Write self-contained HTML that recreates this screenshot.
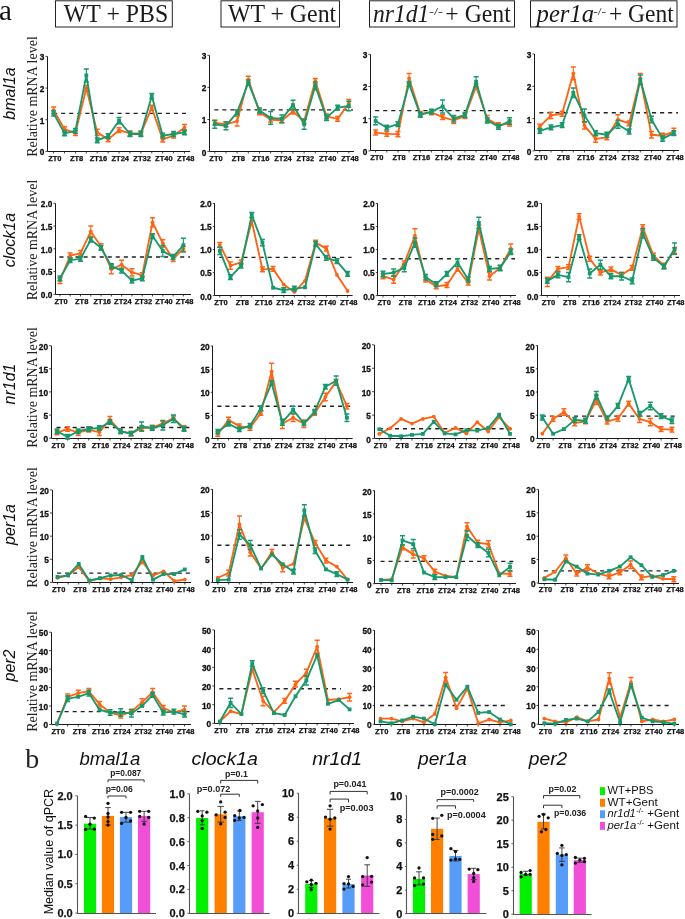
<!DOCTYPE html>
<html><head><meta charset="utf-8"><title>Figure</title>
<style>
html,body{margin:0;padding:0;background:#fff;}
body{width:685px;height:919px;overflow:hidden;font-family:"Liberation Sans", sans-serif;}
svg{display:block;will-change:transform;}
</style></head><body>
<svg width="685" height="919" viewBox="0 0 685 919">
<rect width="685" height="919" fill="#fff"/>
<text x="-1" y="20.2" font-family='"Liberation Serif", serif' font-size="29" fill="#111">a</text>
<rect x="55.5" y="0.8" width="116.8" height="26.2" fill="none" stroke="#222" stroke-width="1"/>
<rect x="221" y="0.8" width="118.5" height="26.2" fill="none" stroke="#222" stroke-width="1"/>
<rect x="369.5" y="0.8" width="145" height="26.2" fill="none" stroke="#222" stroke-width="1"/>
<rect x="530.5" y="0.8" width="146.5" height="26.2" fill="none" stroke="#222" stroke-width="1"/>
<text x="63.8" y="22" font-family='"Liberation Serif", serif' font-style="normal" font-size="24.5" fill="#1a1a1a" textLength="104.4" lengthAdjust="spacingAndGlyphs">WT + PBS</text>
<text x="227.9" y="22" font-family='"Liberation Serif", serif' font-style="normal" font-size="24.5" fill="#1a1a1a" textLength="108.3" lengthAdjust="spacingAndGlyphs">WT + Gent</text>
<text x="372.9" y="22" font-family='"Liberation Serif", serif' font-style="italic" font-size="24.5" fill="#1a1a1a" textLength="56.5" lengthAdjust="spacingAndGlyphs">nr1d1</text>
<text x="429" y="14.8" font-family='"Liberation Serif", serif' font-style="normal" font-size="11" fill="#1a1a1a" textLength="14" lengthAdjust="spacingAndGlyphs">-/-</text>
<text x="445.3" y="22" font-family='"Liberation Serif", serif' font-style="normal" font-size="24.5" fill="#1a1a1a" textLength="65.5" lengthAdjust="spacingAndGlyphs">+ Gent</text>
<text x="536.6" y="22" font-family='"Liberation Serif", serif' font-style="italic" font-size="24.5" fill="#1a1a1a" textLength="57.5" lengthAdjust="spacingAndGlyphs">per1a</text>
<text x="593.2" y="14.8" font-family='"Liberation Serif", serif' font-style="normal" font-size="11" fill="#1a1a1a" textLength="12.8" lengthAdjust="spacingAndGlyphs">-/-</text>
<text x="609" y="22" font-family='"Liberation Serif", serif' font-style="normal" font-size="24.5" fill="#1a1a1a" textLength="64.8" lengthAdjust="spacingAndGlyphs">+ Gent</text>
<text transform="translate(36.5,96.5) rotate(-90)" text-anchor="middle" font-family='"Liberation Serif", serif' font-size="14" fill="#222">Relative mRNA level</text>
<text transform="translate(14.6,93.5) rotate(-90)" text-anchor="middle" font-family='"Liberation Sans", sans-serif' font-style="italic" font-size="16" fill="#111">bmal1a</text>
<path d="M47.5 56.4V151.5H190.2" fill="none" stroke="#1a1a1a" stroke-width="1"/>
<path d="M45.5 151.4H47.5" stroke="#1a1a1a" stroke-width="0.8"/>
<text x="44.4" y="155.3" text-anchor="end" font-family='"Liberation Sans", sans-serif' font-weight="bold" font-size="8.3" fill="#111" stroke="#111" stroke-width="0.3">0</text>
<path d="M45.5 119.73H47.5" stroke="#1a1a1a" stroke-width="0.8"/>
<text x="44.4" y="123.63" text-anchor="end" font-family='"Liberation Sans", sans-serif' font-weight="bold" font-size="8.3" fill="#111" stroke="#111" stroke-width="0.3">1</text>
<path d="M45.5 88.07H47.5" stroke="#1a1a1a" stroke-width="0.8"/>
<text x="44.4" y="91.97" text-anchor="end" font-family='"Liberation Sans", sans-serif' font-weight="bold" font-size="8.3" fill="#111" stroke="#111" stroke-width="0.3">2</text>
<path d="M45.5 56.4H47.5" stroke="#1a1a1a" stroke-width="0.8"/>
<text x="44.4" y="60.3" text-anchor="end" font-family='"Liberation Sans", sans-serif' font-weight="bold" font-size="8.3" fill="#111" stroke="#111" stroke-width="0.3">3</text>
<path d="M53.6 151.5V153.5" stroke="#1a1a1a" stroke-width="0.8"/>
<path d="M64.51 151.5V153.5" stroke="#1a1a1a" stroke-width="0.8"/>
<path d="M75.42 151.5V153.5" stroke="#1a1a1a" stroke-width="0.8"/>
<path d="M86.33 151.5V153.5" stroke="#1a1a1a" stroke-width="0.8"/>
<path d="M97.23 151.5V153.5" stroke="#1a1a1a" stroke-width="0.8"/>
<path d="M108.14 151.5V153.5" stroke="#1a1a1a" stroke-width="0.8"/>
<path d="M119.05 151.5V153.5" stroke="#1a1a1a" stroke-width="0.8"/>
<path d="M129.96 151.5V153.5" stroke="#1a1a1a" stroke-width="0.8"/>
<path d="M140.87 151.5V153.5" stroke="#1a1a1a" stroke-width="0.8"/>
<path d="M151.78 151.5V153.5" stroke="#1a1a1a" stroke-width="0.8"/>
<path d="M162.68 151.5V153.5" stroke="#1a1a1a" stroke-width="0.8"/>
<path d="M173.59 151.5V153.5" stroke="#1a1a1a" stroke-width="0.8"/>
<path d="M184.5 151.5V153.5" stroke="#1a1a1a" stroke-width="0.8"/>
<text x="54.8" y="160.8" text-anchor="middle" font-family='"Liberation Sans", sans-serif' font-weight="bold" font-size="7.5" fill="#111" stroke="#111" stroke-width="0.25">ZT0</text>
<text x="76.62" y="160.8" text-anchor="middle" font-family='"Liberation Sans", sans-serif' font-weight="bold" font-size="7.5" fill="#111" stroke="#111" stroke-width="0.25">ZT8</text>
<text x="98.43" y="160.8" text-anchor="middle" font-family='"Liberation Sans", sans-serif' font-weight="bold" font-size="7.5" fill="#111" stroke="#111" stroke-width="0.25">ZT16</text>
<text x="120.25" y="160.8" text-anchor="middle" font-family='"Liberation Sans", sans-serif' font-weight="bold" font-size="7.5" fill="#111" stroke="#111" stroke-width="0.25">ZT24</text>
<text x="142.07" y="160.8" text-anchor="middle" font-family='"Liberation Sans", sans-serif' font-weight="bold" font-size="7.5" fill="#111" stroke="#111" stroke-width="0.25">ZT32</text>
<text x="163.88" y="160.8" text-anchor="middle" font-family='"Liberation Sans", sans-serif' font-weight="bold" font-size="7.5" fill="#111" stroke="#111" stroke-width="0.25">ZT40</text>
<text x="185.7" y="160.8" text-anchor="middle" font-family='"Liberation Sans", sans-serif' font-weight="bold" font-size="7.5" fill="#111" stroke="#111" stroke-width="0.25">ZT48</text>
<path d="M53.1 113.4H189.2" stroke="#222" stroke-width="1.4" stroke-dasharray="4.1,3.95"/>
<polyline points="53.6,110.23 64.51,129.23 75.42,133.03 86.33,88.07 97.23,132.4 108.14,139.37 119.05,130.18 129.96,133.35 140.87,133.35 151.78,107.7 162.68,139.37 173.59,135.57 184.5,127.65" fill="none" stroke="#ff6414" stroke-width="1.85" stroke-linejoin="round"/>
<path d="M53.6 107.07V113.4" stroke="#ff6414" stroke-width="1.1" fill="none"/>
<path d="M51.1 107.07H56.1M51.1 113.4H56.1" stroke="#ff6414" stroke-width="1.5" fill="none"/>
<circle cx="53.6" cy="110.23" r="1.9" fill="#ff6414"/>
<path d="M64.51 126.83V131.63" stroke="#ff6414" stroke-width="1.1" fill="none"/>
<path d="M62.01 126.83H67.01M62.01 131.63H67.01" stroke="#ff6414" stroke-width="1.5" fill="none"/>
<circle cx="64.51" cy="129.23" r="1.9" fill="#ff6414"/>
<path d="M75.42 130.63V135.43" stroke="#ff6414" stroke-width="1.1" fill="none"/>
<path d="M72.92 130.63H77.92M72.92 135.43H77.92" stroke="#ff6414" stroke-width="1.5" fill="none"/>
<circle cx="75.42" cy="133.03" r="1.9" fill="#ff6414"/>
<path d="M86.33 85.53V90.6" stroke="#ff6414" stroke-width="1.1" fill="none"/>
<path d="M83.83 85.53H88.83M83.83 90.6H88.83" stroke="#ff6414" stroke-width="1.5" fill="none"/>
<circle cx="86.33" cy="88.07" r="1.9" fill="#ff6414"/>
<path d="M97.23 129.23V135.57" stroke="#ff6414" stroke-width="1.1" fill="none"/>
<path d="M94.73 129.23H99.73M94.73 135.57H99.73" stroke="#ff6414" stroke-width="1.5" fill="none"/>
<circle cx="97.23" cy="132.4" r="1.9" fill="#ff6414"/>
<path d="M108.14 136.97V141.77" stroke="#ff6414" stroke-width="1.1" fill="none"/>
<path d="M105.64 136.97H110.64M105.64 141.77H110.64" stroke="#ff6414" stroke-width="1.5" fill="none"/>
<circle cx="108.14" cy="139.37" r="1.9" fill="#ff6414"/>
<path d="M119.05 127.78V132.58" stroke="#ff6414" stroke-width="1.1" fill="none"/>
<path d="M116.55 127.78H121.55M116.55 132.58H121.55" stroke="#ff6414" stroke-width="1.5" fill="none"/>
<circle cx="119.05" cy="130.18" r="1.9" fill="#ff6414"/>
<path d="M129.96 130.95V135.75" stroke="#ff6414" stroke-width="1.1" fill="none"/>
<path d="M127.46 130.95H132.46M127.46 135.75H132.46" stroke="#ff6414" stroke-width="1.5" fill="none"/>
<circle cx="129.96" cy="133.35" r="1.9" fill="#ff6414"/>
<path d="M140.87 130.95V135.75" stroke="#ff6414" stroke-width="1.1" fill="none"/>
<path d="M138.37 130.95H143.37M138.37 135.75H143.37" stroke="#ff6414" stroke-width="1.5" fill="none"/>
<circle cx="140.87" cy="133.35" r="1.9" fill="#ff6414"/>
<path d="M151.78 105.3V110.1" stroke="#ff6414" stroke-width="1.1" fill="none"/>
<path d="M149.28 105.3H154.28M149.28 110.1H154.28" stroke="#ff6414" stroke-width="1.5" fill="none"/>
<circle cx="151.78" cy="107.7" r="1.9" fill="#ff6414"/>
<path d="M162.68 136.83V141.9" stroke="#ff6414" stroke-width="1.1" fill="none"/>
<path d="M160.18 136.83H165.18M160.18 141.9H165.18" stroke="#ff6414" stroke-width="1.5" fill="none"/>
<circle cx="162.68" cy="139.37" r="1.9" fill="#ff6414"/>
<path d="M173.59 133.17V137.97" stroke="#ff6414" stroke-width="1.1" fill="none"/>
<path d="M171.09 133.17H176.09M171.09 137.97H176.09" stroke="#ff6414" stroke-width="1.5" fill="none"/>
<circle cx="173.59" cy="135.57" r="1.9" fill="#ff6414"/>
<path d="M184.5 124.48V130.82" stroke="#ff6414" stroke-width="1.1" fill="none"/>
<path d="M182 124.48H187M182 130.82H187" stroke="#ff6414" stroke-width="1.5" fill="none"/>
<circle cx="184.5" cy="127.65" r="1.9" fill="#ff6414"/>
<polyline points="53.6,113.4 64.51,133.35 75.42,130.82 86.33,75.4 97.23,140.32 108.14,136.2 119.05,120.68 129.96,133.98 140.87,133.98 151.78,95.98 162.68,135.57 173.59,133.98 184.5,132.4" fill="none" stroke="#17996b" stroke-width="1.85" stroke-linejoin="round"/>
<path d="M53.6 110.87V115.93" stroke="#17996b" stroke-width="1.1" fill="none"/>
<path d="M51.1 110.87H56.1M51.1 115.93H56.1" stroke="#17996b" stroke-width="1.5" fill="none"/>
<rect x="51.7" y="111.5" width="3.8" height="3.8" fill="#17996b"/>
<path d="M64.51 130.95V135.75" stroke="#17996b" stroke-width="1.1" fill="none"/>
<path d="M62.01 130.95H67.01M62.01 135.75H67.01" stroke="#17996b" stroke-width="1.5" fill="none"/>
<rect x="62.61" y="131.45" width="3.8" height="3.8" fill="#17996b"/>
<path d="M75.42 128.42V133.22" stroke="#17996b" stroke-width="1.1" fill="none"/>
<path d="M72.92 128.42H77.92M72.92 133.22H77.92" stroke="#17996b" stroke-width="1.5" fill="none"/>
<rect x="73.52" y="128.92" width="3.8" height="3.8" fill="#17996b"/>
<path d="M86.33 69.07V81.73" stroke="#17996b" stroke-width="1.1" fill="none"/>
<path d="M83.83 69.07H88.83M83.83 81.73H88.83" stroke="#17996b" stroke-width="1.5" fill="none"/>
<rect x="84.42" y="73.5" width="3.8" height="3.8" fill="#17996b"/>
<path d="M97.23 137.92V142.72" stroke="#17996b" stroke-width="1.1" fill="none"/>
<path d="M94.73 137.92H99.73M94.73 142.72H99.73" stroke="#17996b" stroke-width="1.5" fill="none"/>
<rect x="95.33" y="138.42" width="3.8" height="3.8" fill="#17996b"/>
<path d="M108.14 133.8V138.6" stroke="#17996b" stroke-width="1.1" fill="none"/>
<path d="M105.64 133.8H110.64M105.64 138.6H110.64" stroke="#17996b" stroke-width="1.5" fill="none"/>
<rect x="106.24" y="134.3" width="3.8" height="3.8" fill="#17996b"/>
<path d="M119.05 117.52V123.85" stroke="#17996b" stroke-width="1.1" fill="none"/>
<path d="M116.55 117.52H121.55M116.55 123.85H121.55" stroke="#17996b" stroke-width="1.5" fill="none"/>
<rect x="117.15" y="118.78" width="3.8" height="3.8" fill="#17996b"/>
<path d="M129.96 131.58V136.38" stroke="#17996b" stroke-width="1.1" fill="none"/>
<path d="M127.46 131.58H132.46M127.46 136.38H132.46" stroke="#17996b" stroke-width="1.5" fill="none"/>
<rect x="128.06" y="132.08" width="3.8" height="3.8" fill="#17996b"/>
<path d="M140.87 131.58V136.38" stroke="#17996b" stroke-width="1.1" fill="none"/>
<path d="M138.37 131.58H143.37M138.37 136.38H143.37" stroke="#17996b" stroke-width="1.5" fill="none"/>
<rect x="138.97" y="132.08" width="3.8" height="3.8" fill="#17996b"/>
<path d="M151.78 93.58V98.38" stroke="#17996b" stroke-width="1.1" fill="none"/>
<path d="M149.28 93.58H154.28M149.28 98.38H154.28" stroke="#17996b" stroke-width="1.5" fill="none"/>
<rect x="149.88" y="94.08" width="3.8" height="3.8" fill="#17996b"/>
<path d="M162.68 133.17V137.97" stroke="#17996b" stroke-width="1.1" fill="none"/>
<path d="M160.18 133.17H165.18M160.18 137.97H165.18" stroke="#17996b" stroke-width="1.5" fill="none"/>
<rect x="160.78" y="133.67" width="3.8" height="3.8" fill="#17996b"/>
<path d="M173.59 131.58V136.38" stroke="#17996b" stroke-width="1.1" fill="none"/>
<path d="M171.09 131.58H176.09M171.09 136.38H176.09" stroke="#17996b" stroke-width="1.5" fill="none"/>
<rect x="171.69" y="132.08" width="3.8" height="3.8" fill="#17996b"/>
<path d="M184.5 130V134.8" stroke="#17996b" stroke-width="1.1" fill="none"/>
<path d="M182 130H187M182 134.8H187" stroke="#17996b" stroke-width="1.5" fill="none"/>
<rect x="182.6" y="130.5" width="3.8" height="3.8" fill="#17996b"/>
<path d="M209.5 55.3V151.5H354" fill="none" stroke="#1a1a1a" stroke-width="1"/>
<path d="M207.4 151.6H209.4" stroke="#1a1a1a" stroke-width="0.8"/>
<text x="206.3" y="155.5" text-anchor="end" font-family='"Liberation Sans", sans-serif' font-weight="bold" font-size="8.3" fill="#111" stroke="#111" stroke-width="0.3">0</text>
<path d="M207.4 119.5H209.4" stroke="#1a1a1a" stroke-width="0.8"/>
<text x="206.3" y="123.4" text-anchor="end" font-family='"Liberation Sans", sans-serif' font-weight="bold" font-size="8.3" fill="#111" stroke="#111" stroke-width="0.3">1</text>
<path d="M207.4 87.4H209.4" stroke="#1a1a1a" stroke-width="0.8"/>
<text x="206.3" y="91.3" text-anchor="end" font-family='"Liberation Sans", sans-serif' font-weight="bold" font-size="8.3" fill="#111" stroke="#111" stroke-width="0.3">2</text>
<path d="M207.4 55.3H209.4" stroke="#1a1a1a" stroke-width="0.8"/>
<text x="206.3" y="59.2" text-anchor="end" font-family='"Liberation Sans", sans-serif' font-weight="bold" font-size="8.3" fill="#111" stroke="#111" stroke-width="0.3">3</text>
<path d="M214.8 151.5V153.5" stroke="#1a1a1a" stroke-width="0.8"/>
<path d="M225.97 151.5V153.5" stroke="#1a1a1a" stroke-width="0.8"/>
<path d="M237.13 151.5V153.5" stroke="#1a1a1a" stroke-width="0.8"/>
<path d="M248.3 151.5V153.5" stroke="#1a1a1a" stroke-width="0.8"/>
<path d="M259.47 151.5V153.5" stroke="#1a1a1a" stroke-width="0.8"/>
<path d="M270.63 151.5V153.5" stroke="#1a1a1a" stroke-width="0.8"/>
<path d="M281.8 151.5V153.5" stroke="#1a1a1a" stroke-width="0.8"/>
<path d="M292.97 151.5V153.5" stroke="#1a1a1a" stroke-width="0.8"/>
<path d="M304.13 151.5V153.5" stroke="#1a1a1a" stroke-width="0.8"/>
<path d="M315.3 151.5V153.5" stroke="#1a1a1a" stroke-width="0.8"/>
<path d="M326.47 151.5V153.5" stroke="#1a1a1a" stroke-width="0.8"/>
<path d="M337.63 151.5V153.5" stroke="#1a1a1a" stroke-width="0.8"/>
<path d="M348.8 151.5V153.5" stroke="#1a1a1a" stroke-width="0.8"/>
<text x="216" y="161" text-anchor="middle" font-family='"Liberation Sans", sans-serif' font-weight="bold" font-size="7.5" fill="#111" stroke="#111" stroke-width="0.25">ZT0</text>
<text x="238.33" y="161" text-anchor="middle" font-family='"Liberation Sans", sans-serif' font-weight="bold" font-size="7.5" fill="#111" stroke="#111" stroke-width="0.25">ZT8</text>
<text x="260.67" y="161" text-anchor="middle" font-family='"Liberation Sans", sans-serif' font-weight="bold" font-size="7.5" fill="#111" stroke="#111" stroke-width="0.25">ZT16</text>
<text x="283" y="161" text-anchor="middle" font-family='"Liberation Sans", sans-serif' font-weight="bold" font-size="7.5" fill="#111" stroke="#111" stroke-width="0.25">ZT24</text>
<text x="305.33" y="161" text-anchor="middle" font-family='"Liberation Sans", sans-serif' font-weight="bold" font-size="7.5" fill="#111" stroke="#111" stroke-width="0.25">ZT32</text>
<text x="327.67" y="161" text-anchor="middle" font-family='"Liberation Sans", sans-serif' font-weight="bold" font-size="7.5" fill="#111" stroke="#111" stroke-width="0.25">ZT40</text>
<text x="350" y="161" text-anchor="middle" font-family='"Liberation Sans", sans-serif' font-weight="bold" font-size="7.5" fill="#111" stroke="#111" stroke-width="0.25">ZT48</text>
<path d="M214.3 109.87H353" stroke="#222" stroke-width="1.4" stroke-dasharray="4.1,3.95"/>
<polyline points="214.8,122.71 225.97,124.31 237.13,121.1 248.3,79.38 259.47,112.44 270.63,119.5 281.8,120.46 292.97,111.47 304.13,121.1 315.3,80.98 326.47,116.29 337.63,118.86 348.8,103.45" fill="none" stroke="#ff6414" stroke-width="1.85" stroke-linejoin="round"/>
<path d="M214.8 120.31V125.11" stroke="#ff6414" stroke-width="1.1" fill="none"/>
<path d="M212.3 120.31H217.3M212.3 125.11H217.3" stroke="#ff6414" stroke-width="1.5" fill="none"/>
<circle cx="214.8" cy="122.71" r="1.9" fill="#ff6414"/>
<path d="M225.97 121.91V126.72" stroke="#ff6414" stroke-width="1.1" fill="none"/>
<path d="M223.47 121.91H228.47M223.47 126.72H228.47" stroke="#ff6414" stroke-width="1.5" fill="none"/>
<circle cx="225.97" cy="124.31" r="1.9" fill="#ff6414"/>
<path d="M237.13 116.29V125.92" stroke="#ff6414" stroke-width="1.1" fill="none"/>
<path d="M234.63 116.29H239.63M234.63 125.92H239.63" stroke="#ff6414" stroke-width="1.5" fill="none"/>
<circle cx="237.13" cy="121.1" r="1.9" fill="#ff6414"/>
<path d="M248.3 76.17V82.58" stroke="#ff6414" stroke-width="1.1" fill="none"/>
<path d="M245.8 76.17H250.8M245.8 82.58H250.8" stroke="#ff6414" stroke-width="1.5" fill="none"/>
<circle cx="248.3" cy="79.38" r="1.9" fill="#ff6414"/>
<path d="M259.47 110.04V114.84" stroke="#ff6414" stroke-width="1.1" fill="none"/>
<path d="M256.97 110.04H261.97M256.97 114.84H261.97" stroke="#ff6414" stroke-width="1.5" fill="none"/>
<circle cx="259.47" cy="112.44" r="1.9" fill="#ff6414"/>
<path d="M270.63 117.1V121.9" stroke="#ff6414" stroke-width="1.1" fill="none"/>
<path d="M268.13 117.1H273.13M268.13 121.9H273.13" stroke="#ff6414" stroke-width="1.5" fill="none"/>
<circle cx="270.63" cy="119.5" r="1.9" fill="#ff6414"/>
<path d="M281.8 118.06V122.86" stroke="#ff6414" stroke-width="1.1" fill="none"/>
<path d="M279.3 118.06H284.3M279.3 122.86H284.3" stroke="#ff6414" stroke-width="1.5" fill="none"/>
<circle cx="281.8" cy="120.46" r="1.9" fill="#ff6414"/>
<path d="M292.97 109.07V113.88" stroke="#ff6414" stroke-width="1.1" fill="none"/>
<path d="M290.47 109.07H295.47M290.47 113.88H295.47" stroke="#ff6414" stroke-width="1.5" fill="none"/>
<circle cx="292.97" cy="111.47" r="1.9" fill="#ff6414"/>
<path d="M304.13 118.7V123.5" stroke="#ff6414" stroke-width="1.1" fill="none"/>
<path d="M301.63 118.7H306.63M301.63 123.5H306.63" stroke="#ff6414" stroke-width="1.5" fill="none"/>
<circle cx="304.13" cy="121.1" r="1.9" fill="#ff6414"/>
<path d="M315.3 78.41V83.55" stroke="#ff6414" stroke-width="1.1" fill="none"/>
<path d="M312.8 78.41H317.8M312.8 83.55H317.8" stroke="#ff6414" stroke-width="1.5" fill="none"/>
<circle cx="315.3" cy="80.98" r="1.9" fill="#ff6414"/>
<path d="M326.47 113.89V118.69" stroke="#ff6414" stroke-width="1.1" fill="none"/>
<path d="M323.97 113.89H328.97M323.97 118.69H328.97" stroke="#ff6414" stroke-width="1.5" fill="none"/>
<circle cx="326.47" cy="116.29" r="1.9" fill="#ff6414"/>
<path d="M337.63 116.46V121.26" stroke="#ff6414" stroke-width="1.1" fill="none"/>
<path d="M335.13 116.46H340.13M335.13 121.26H340.13" stroke="#ff6414" stroke-width="1.5" fill="none"/>
<circle cx="337.63" cy="118.86" r="1.9" fill="#ff6414"/>
<path d="M348.8 99.6V107.3" stroke="#ff6414" stroke-width="1.1" fill="none"/>
<path d="M346.3 99.6H351.3M346.3 107.3H351.3" stroke="#ff6414" stroke-width="1.5" fill="none"/>
<circle cx="348.8" cy="103.45" r="1.9" fill="#ff6414"/>
<polyline points="214.8,124.31 225.97,125.92 237.13,112.44 248.3,82.58 259.47,110.51 270.63,117.89 281.8,118.86 292.97,105.06 304.13,124.31 315.3,85.8 326.47,117.89 337.63,107.62 348.8,106.02" fill="none" stroke="#17996b" stroke-width="1.85" stroke-linejoin="round"/>
<path d="M214.8 120.46V128.17" stroke="#17996b" stroke-width="1.1" fill="none"/>
<path d="M212.3 120.46H217.3M212.3 128.17H217.3" stroke="#17996b" stroke-width="1.5" fill="none"/>
<rect x="212.9" y="122.41" width="3.8" height="3.8" fill="#17996b"/>
<path d="M225.97 122.07V129.77" stroke="#17996b" stroke-width="1.1" fill="none"/>
<path d="M223.47 122.07H228.47M223.47 129.77H228.47" stroke="#17996b" stroke-width="1.5" fill="none"/>
<rect x="224.07" y="124.02" width="3.8" height="3.8" fill="#17996b"/>
<path d="M237.13 110.04V114.84" stroke="#17996b" stroke-width="1.1" fill="none"/>
<path d="M234.63 110.04H239.63M234.63 114.84H239.63" stroke="#17996b" stroke-width="1.5" fill="none"/>
<rect x="235.23" y="110.54" width="3.8" height="3.8" fill="#17996b"/>
<path d="M248.3 80.02V85.15" stroke="#17996b" stroke-width="1.1" fill="none"/>
<path d="M245.8 80.02H250.8M245.8 85.15H250.8" stroke="#17996b" stroke-width="1.5" fill="none"/>
<rect x="246.4" y="80.68" width="3.8" height="3.8" fill="#17996b"/>
<path d="M259.47 108.11V112.91" stroke="#17996b" stroke-width="1.1" fill="none"/>
<path d="M256.97 108.11H261.97M256.97 112.91H261.97" stroke="#17996b" stroke-width="1.5" fill="none"/>
<rect x="257.57" y="108.61" width="3.8" height="3.8" fill="#17996b"/>
<path d="M270.63 111.47V124.31" stroke="#17996b" stroke-width="1.1" fill="none"/>
<path d="M268.13 111.47H273.13M268.13 124.31H273.13" stroke="#17996b" stroke-width="1.5" fill="none"/>
<rect x="268.73" y="115.99" width="3.8" height="3.8" fill="#17996b"/>
<path d="M281.8 115.01V122.71" stroke="#17996b" stroke-width="1.1" fill="none"/>
<path d="M279.3 115.01H284.3M279.3 122.71H284.3" stroke="#17996b" stroke-width="1.5" fill="none"/>
<rect x="279.9" y="116.96" width="3.8" height="3.8" fill="#17996b"/>
<path d="M292.97 100.24V109.87" stroke="#17996b" stroke-width="1.1" fill="none"/>
<path d="M290.47 100.24H295.47M290.47 109.87H295.47" stroke="#17996b" stroke-width="1.5" fill="none"/>
<rect x="291.07" y="103.16" width="3.8" height="3.8" fill="#17996b"/>
<path d="M304.13 119.5V129.13" stroke="#17996b" stroke-width="1.1" fill="none"/>
<path d="M301.63 119.5H306.63M301.63 129.13H306.63" stroke="#17996b" stroke-width="1.5" fill="none"/>
<rect x="302.23" y="122.41" width="3.8" height="3.8" fill="#17996b"/>
<path d="M315.3 81.94V89.65" stroke="#17996b" stroke-width="1.1" fill="none"/>
<path d="M312.8 81.94H317.8M312.8 89.65H317.8" stroke="#17996b" stroke-width="1.5" fill="none"/>
<rect x="313.4" y="83.89" width="3.8" height="3.8" fill="#17996b"/>
<path d="M326.47 115.33V120.46" stroke="#17996b" stroke-width="1.1" fill="none"/>
<path d="M323.97 115.33H328.97M323.97 120.46H328.97" stroke="#17996b" stroke-width="1.5" fill="none"/>
<rect x="324.57" y="115.99" width="3.8" height="3.8" fill="#17996b"/>
<path d="M337.63 105.22V110.02" stroke="#17996b" stroke-width="1.1" fill="none"/>
<path d="M335.13 105.22H340.13M335.13 110.02H340.13" stroke="#17996b" stroke-width="1.5" fill="none"/>
<rect x="335.73" y="105.72" width="3.8" height="3.8" fill="#17996b"/>
<path d="M348.8 101.2V110.83" stroke="#17996b" stroke-width="1.1" fill="none"/>
<path d="M346.3 101.2H351.3M346.3 110.83H351.3" stroke="#17996b" stroke-width="1.5" fill="none"/>
<rect x="346.9" y="104.12" width="3.8" height="3.8" fill="#17996b"/>
<path d="M370.5 54.3V150.5H515" fill="none" stroke="#1a1a1a" stroke-width="1"/>
<path d="M368.4 150.9H370.4" stroke="#1a1a1a" stroke-width="0.8"/>
<text x="367.3" y="154.8" text-anchor="end" font-family='"Liberation Sans", sans-serif' font-weight="bold" font-size="8.3" fill="#111" stroke="#111" stroke-width="0.3">0</text>
<path d="M368.4 118.7H370.4" stroke="#1a1a1a" stroke-width="0.8"/>
<text x="367.3" y="122.6" text-anchor="end" font-family='"Liberation Sans", sans-serif' font-weight="bold" font-size="8.3" fill="#111" stroke="#111" stroke-width="0.3">1</text>
<path d="M368.4 86.5H370.4" stroke="#1a1a1a" stroke-width="0.8"/>
<text x="367.3" y="90.4" text-anchor="end" font-family='"Liberation Sans", sans-serif' font-weight="bold" font-size="8.3" fill="#111" stroke="#111" stroke-width="0.3">2</text>
<path d="M368.4 54.3H370.4" stroke="#1a1a1a" stroke-width="0.8"/>
<text x="367.3" y="58.2" text-anchor="end" font-family='"Liberation Sans", sans-serif' font-weight="bold" font-size="8.3" fill="#111" stroke="#111" stroke-width="0.3">3</text>
<path d="M375.6 150.5V152.5" stroke="#1a1a1a" stroke-width="0.8"/>
<path d="M386.77 150.5V152.5" stroke="#1a1a1a" stroke-width="0.8"/>
<path d="M397.93 150.5V152.5" stroke="#1a1a1a" stroke-width="0.8"/>
<path d="M409.1 150.5V152.5" stroke="#1a1a1a" stroke-width="0.8"/>
<path d="M420.27 150.5V152.5" stroke="#1a1a1a" stroke-width="0.8"/>
<path d="M431.43 150.5V152.5" stroke="#1a1a1a" stroke-width="0.8"/>
<path d="M442.6 150.5V152.5" stroke="#1a1a1a" stroke-width="0.8"/>
<path d="M453.77 150.5V152.5" stroke="#1a1a1a" stroke-width="0.8"/>
<path d="M464.93 150.5V152.5" stroke="#1a1a1a" stroke-width="0.8"/>
<path d="M476.1 150.5V152.5" stroke="#1a1a1a" stroke-width="0.8"/>
<path d="M487.27 150.5V152.5" stroke="#1a1a1a" stroke-width="0.8"/>
<path d="M498.43 150.5V152.5" stroke="#1a1a1a" stroke-width="0.8"/>
<path d="M509.6 150.5V152.5" stroke="#1a1a1a" stroke-width="0.8"/>
<text x="376.8" y="160.3" text-anchor="middle" font-family='"Liberation Sans", sans-serif' font-weight="bold" font-size="7.5" fill="#111" stroke="#111" stroke-width="0.25">ZT0</text>
<text x="399.13" y="160.3" text-anchor="middle" font-family='"Liberation Sans", sans-serif' font-weight="bold" font-size="7.5" fill="#111" stroke="#111" stroke-width="0.25">ZT8</text>
<text x="421.47" y="160.3" text-anchor="middle" font-family='"Liberation Sans", sans-serif' font-weight="bold" font-size="7.5" fill="#111" stroke="#111" stroke-width="0.25">ZT16</text>
<text x="443.8" y="160.3" text-anchor="middle" font-family='"Liberation Sans", sans-serif' font-weight="bold" font-size="7.5" fill="#111" stroke="#111" stroke-width="0.25">ZT24</text>
<text x="466.13" y="160.3" text-anchor="middle" font-family='"Liberation Sans", sans-serif' font-weight="bold" font-size="7.5" fill="#111" stroke="#111" stroke-width="0.25">ZT32</text>
<text x="488.47" y="160.3" text-anchor="middle" font-family='"Liberation Sans", sans-serif' font-weight="bold" font-size="7.5" fill="#111" stroke="#111" stroke-width="0.25">ZT40</text>
<text x="510.8" y="160.3" text-anchor="middle" font-family='"Liberation Sans", sans-serif' font-weight="bold" font-size="7.5" fill="#111" stroke="#111" stroke-width="0.25">ZT48</text>
<path d="M375.1 110.65H514" stroke="#222" stroke-width="1.4" stroke-dasharray="4.1,3.95"/>
<polyline points="375.6,132.55 386.77,133.83 397.93,134.16 409.1,78.45 420.27,113.87 431.43,112.26 442.6,117.09 453.77,120.31 464.93,116.12 476.1,86.5 487.27,118.7 498.43,125.14 509.6,123.53" fill="none" stroke="#ff6414" stroke-width="1.85" stroke-linejoin="round"/>
<path d="M375.6 129.97V135.12" stroke="#ff6414" stroke-width="1.1" fill="none"/>
<path d="M373.1 129.97H378.1M373.1 135.12H378.1" stroke="#ff6414" stroke-width="1.5" fill="none"/>
<circle cx="375.6" cy="132.55" r="1.9" fill="#ff6414"/>
<path d="M386.77 131.43V136.23" stroke="#ff6414" stroke-width="1.1" fill="none"/>
<path d="M384.27 131.43H389.27M384.27 136.23H389.27" stroke="#ff6414" stroke-width="1.5" fill="none"/>
<circle cx="386.77" cy="133.83" r="1.9" fill="#ff6414"/>
<path d="M397.93 131.58V136.73" stroke="#ff6414" stroke-width="1.1" fill="none"/>
<path d="M395.43 131.58H400.43M395.43 136.73H400.43" stroke="#ff6414" stroke-width="1.5" fill="none"/>
<circle cx="397.93" cy="134.16" r="1.9" fill="#ff6414"/>
<path d="M409.1 73.62V83.28" stroke="#ff6414" stroke-width="1.1" fill="none"/>
<path d="M406.6 73.62H411.6M406.6 83.28H411.6" stroke="#ff6414" stroke-width="1.5" fill="none"/>
<circle cx="409.1" cy="78.45" r="1.9" fill="#ff6414"/>
<path d="M420.27 111.47V116.27" stroke="#ff6414" stroke-width="1.1" fill="none"/>
<path d="M417.77 111.47H422.77M417.77 116.27H422.77" stroke="#ff6414" stroke-width="1.5" fill="none"/>
<circle cx="420.27" cy="113.87" r="1.9" fill="#ff6414"/>
<path d="M431.43 109.86V114.66" stroke="#ff6414" stroke-width="1.1" fill="none"/>
<path d="M428.93 109.86H433.93M428.93 114.66H433.93" stroke="#ff6414" stroke-width="1.5" fill="none"/>
<circle cx="431.43" cy="112.26" r="1.9" fill="#ff6414"/>
<path d="M442.6 114.69V119.49" stroke="#ff6414" stroke-width="1.1" fill="none"/>
<path d="M440.1 114.69H445.1M440.1 119.49H445.1" stroke="#ff6414" stroke-width="1.5" fill="none"/>
<circle cx="442.6" cy="117.09" r="1.9" fill="#ff6414"/>
<path d="M453.77 117.09V123.53" stroke="#ff6414" stroke-width="1.1" fill="none"/>
<path d="M451.27 117.09H456.27M451.27 123.53H456.27" stroke="#ff6414" stroke-width="1.5" fill="none"/>
<circle cx="453.77" cy="120.31" r="1.9" fill="#ff6414"/>
<path d="M464.93 113.72V118.52" stroke="#ff6414" stroke-width="1.1" fill="none"/>
<path d="M462.43 113.72H467.43M462.43 118.52H467.43" stroke="#ff6414" stroke-width="1.5" fill="none"/>
<circle cx="464.93" cy="116.12" r="1.9" fill="#ff6414"/>
<path d="M476.1 84.1V88.9" stroke="#ff6414" stroke-width="1.1" fill="none"/>
<path d="M473.6 84.1H478.6M473.6 88.9H478.6" stroke="#ff6414" stroke-width="1.5" fill="none"/>
<circle cx="476.1" cy="86.5" r="1.9" fill="#ff6414"/>
<path d="M487.27 115.48V121.92" stroke="#ff6414" stroke-width="1.1" fill="none"/>
<path d="M484.77 115.48H489.77M484.77 121.92H489.77" stroke="#ff6414" stroke-width="1.5" fill="none"/>
<circle cx="487.27" cy="118.7" r="1.9" fill="#ff6414"/>
<path d="M498.43 122.74V127.54" stroke="#ff6414" stroke-width="1.1" fill="none"/>
<path d="M495.93 122.74H500.93M495.93 127.54H500.93" stroke="#ff6414" stroke-width="1.5" fill="none"/>
<circle cx="498.43" cy="125.14" r="1.9" fill="#ff6414"/>
<path d="M509.6 121.13V125.93" stroke="#ff6414" stroke-width="1.1" fill="none"/>
<path d="M507.1 121.13H512.1M507.1 125.93H512.1" stroke="#ff6414" stroke-width="1.5" fill="none"/>
<circle cx="509.6" cy="123.53" r="1.9" fill="#ff6414"/>
<polyline points="375.6,120.95 386.77,127.72 397.93,124.17 409.1,83.92 420.27,114.84 431.43,111.62 442.6,106.46 453.77,118.7 464.93,114.84 476.1,81.67 487.27,120.31 498.43,126.75 509.6,120.95" fill="none" stroke="#17996b" stroke-width="1.85" stroke-linejoin="round"/>
<path d="M375.6 117.09V124.82" stroke="#17996b" stroke-width="1.1" fill="none"/>
<path d="M373.1 117.09H378.1M373.1 124.82H378.1" stroke="#17996b" stroke-width="1.5" fill="none"/>
<rect x="373.7" y="119.05" width="3.8" height="3.8" fill="#17996b"/>
<path d="M386.77 125.32V130.12" stroke="#17996b" stroke-width="1.1" fill="none"/>
<path d="M384.27 125.32H389.27M384.27 130.12H389.27" stroke="#17996b" stroke-width="1.5" fill="none"/>
<rect x="384.87" y="125.82" width="3.8" height="3.8" fill="#17996b"/>
<path d="M397.93 121.77V126.57" stroke="#17996b" stroke-width="1.1" fill="none"/>
<path d="M395.43 121.77H400.43M395.43 126.57H400.43" stroke="#17996b" stroke-width="1.5" fill="none"/>
<rect x="396.03" y="122.27" width="3.8" height="3.8" fill="#17996b"/>
<path d="M409.1 81.52V86.32" stroke="#17996b" stroke-width="1.1" fill="none"/>
<path d="M406.6 81.52H411.6M406.6 86.32H411.6" stroke="#17996b" stroke-width="1.5" fill="none"/>
<rect x="407.2" y="82.02" width="3.8" height="3.8" fill="#17996b"/>
<path d="M420.27 112.44V117.24" stroke="#17996b" stroke-width="1.1" fill="none"/>
<path d="M417.77 112.44H422.77M417.77 117.24H422.77" stroke="#17996b" stroke-width="1.5" fill="none"/>
<rect x="418.37" y="112.94" width="3.8" height="3.8" fill="#17996b"/>
<path d="M431.43 109.22V114.02" stroke="#17996b" stroke-width="1.1" fill="none"/>
<path d="M428.93 109.22H433.93M428.93 114.02H433.93" stroke="#17996b" stroke-width="1.5" fill="none"/>
<rect x="429.53" y="109.72" width="3.8" height="3.8" fill="#17996b"/>
<path d="M442.6 100.02V112.9" stroke="#17996b" stroke-width="1.1" fill="none"/>
<path d="M440.1 100.02H445.1M440.1 112.9H445.1" stroke="#17996b" stroke-width="1.5" fill="none"/>
<rect x="440.7" y="104.56" width="3.8" height="3.8" fill="#17996b"/>
<path d="M453.77 115.48V121.92" stroke="#17996b" stroke-width="1.1" fill="none"/>
<path d="M451.27 115.48H456.27M451.27 121.92H456.27" stroke="#17996b" stroke-width="1.5" fill="none"/>
<rect x="451.87" y="116.8" width="3.8" height="3.8" fill="#17996b"/>
<path d="M464.93 112.44V117.24" stroke="#17996b" stroke-width="1.1" fill="none"/>
<path d="M462.43 112.44H467.43M462.43 117.24H467.43" stroke="#17996b" stroke-width="1.5" fill="none"/>
<rect x="463.03" y="112.94" width="3.8" height="3.8" fill="#17996b"/>
<path d="M476.1 76.84V86.5" stroke="#17996b" stroke-width="1.1" fill="none"/>
<path d="M473.6 76.84H478.6M473.6 86.5H478.6" stroke="#17996b" stroke-width="1.5" fill="none"/>
<rect x="474.2" y="79.77" width="3.8" height="3.8" fill="#17996b"/>
<path d="M487.27 117.73V122.89" stroke="#17996b" stroke-width="1.1" fill="none"/>
<path d="M484.77 117.73H489.77M484.77 122.89H489.77" stroke="#17996b" stroke-width="1.5" fill="none"/>
<rect x="485.37" y="118.41" width="3.8" height="3.8" fill="#17996b"/>
<path d="M498.43 124.17V129.33" stroke="#17996b" stroke-width="1.1" fill="none"/>
<path d="M495.93 124.17H500.93M495.93 129.33H500.93" stroke="#17996b" stroke-width="1.5" fill="none"/>
<rect x="496.53" y="124.85" width="3.8" height="3.8" fill="#17996b"/>
<path d="M509.6 117.73V124.17" stroke="#17996b" stroke-width="1.1" fill="none"/>
<path d="M507.1 117.73H512.1M507.1 124.17H512.1" stroke="#17996b" stroke-width="1.5" fill="none"/>
<rect x="507.7" y="119.05" width="3.8" height="3.8" fill="#17996b"/>
<path d="M534.5 54V150.5H679" fill="none" stroke="#1a1a1a" stroke-width="1"/>
<path d="M532.4 150.9H534.4" stroke="#1a1a1a" stroke-width="0.8"/>
<text x="531.3" y="154.8" text-anchor="end" font-family='"Liberation Sans", sans-serif' font-weight="bold" font-size="8.3" fill="#111" stroke="#111" stroke-width="0.3">0</text>
<path d="M532.4 118.6H534.4" stroke="#1a1a1a" stroke-width="0.8"/>
<text x="531.3" y="122.5" text-anchor="end" font-family='"Liberation Sans", sans-serif' font-weight="bold" font-size="8.3" fill="#111" stroke="#111" stroke-width="0.3">1</text>
<path d="M532.4 86.3H534.4" stroke="#1a1a1a" stroke-width="0.8"/>
<text x="531.3" y="90.2" text-anchor="end" font-family='"Liberation Sans", sans-serif' font-weight="bold" font-size="8.3" fill="#111" stroke="#111" stroke-width="0.3">2</text>
<path d="M532.4 54H534.4" stroke="#1a1a1a" stroke-width="0.8"/>
<text x="531.3" y="57.9" text-anchor="end" font-family='"Liberation Sans", sans-serif' font-weight="bold" font-size="8.3" fill="#111" stroke="#111" stroke-width="0.3">3</text>
<path d="M539.8 150.5V152.5" stroke="#1a1a1a" stroke-width="0.8"/>
<path d="M550.97 150.5V152.5" stroke="#1a1a1a" stroke-width="0.8"/>
<path d="M562.13 150.5V152.5" stroke="#1a1a1a" stroke-width="0.8"/>
<path d="M573.3 150.5V152.5" stroke="#1a1a1a" stroke-width="0.8"/>
<path d="M584.47 150.5V152.5" stroke="#1a1a1a" stroke-width="0.8"/>
<path d="M595.63 150.5V152.5" stroke="#1a1a1a" stroke-width="0.8"/>
<path d="M606.8 150.5V152.5" stroke="#1a1a1a" stroke-width="0.8"/>
<path d="M617.97 150.5V152.5" stroke="#1a1a1a" stroke-width="0.8"/>
<path d="M629.13 150.5V152.5" stroke="#1a1a1a" stroke-width="0.8"/>
<path d="M640.3 150.5V152.5" stroke="#1a1a1a" stroke-width="0.8"/>
<path d="M651.47 150.5V152.5" stroke="#1a1a1a" stroke-width="0.8"/>
<path d="M662.63 150.5V152.5" stroke="#1a1a1a" stroke-width="0.8"/>
<path d="M673.8 150.5V152.5" stroke="#1a1a1a" stroke-width="0.8"/>
<text x="541" y="160.3" text-anchor="middle" font-family='"Liberation Sans", sans-serif' font-weight="bold" font-size="7.5" fill="#111" stroke="#111" stroke-width="0.25">ZT0</text>
<text x="563.33" y="160.3" text-anchor="middle" font-family='"Liberation Sans", sans-serif' font-weight="bold" font-size="7.5" fill="#111" stroke="#111" stroke-width="0.25">ZT8</text>
<text x="585.67" y="160.3" text-anchor="middle" font-family='"Liberation Sans", sans-serif' font-weight="bold" font-size="7.5" fill="#111" stroke="#111" stroke-width="0.25">ZT16</text>
<text x="608" y="160.3" text-anchor="middle" font-family='"Liberation Sans", sans-serif' font-weight="bold" font-size="7.5" fill="#111" stroke="#111" stroke-width="0.25">ZT24</text>
<text x="630.33" y="160.3" text-anchor="middle" font-family='"Liberation Sans", sans-serif' font-weight="bold" font-size="7.5" fill="#111" stroke="#111" stroke-width="0.25">ZT32</text>
<text x="652.67" y="160.3" text-anchor="middle" font-family='"Liberation Sans", sans-serif' font-weight="bold" font-size="7.5" fill="#111" stroke="#111" stroke-width="0.25">ZT40</text>
<text x="675" y="160.3" text-anchor="middle" font-family='"Liberation Sans", sans-serif' font-weight="bold" font-size="7.5" fill="#111" stroke="#111" stroke-width="0.25">ZT48</text>
<path d="M539.3 112.79H678" stroke="#222" stroke-width="1.4" stroke-dasharray="4.1,3.95"/>
<polyline points="539.8,126.67 550.97,115.37 562.13,113.75 573.3,73.38 584.47,125.71 595.63,138.95 606.8,137.33 617.97,119.57 629.13,123.45 640.3,78.23 651.47,134.75 662.63,135.72 673.8,131.52" fill="none" stroke="#ff6414" stroke-width="1.85" stroke-linejoin="round"/>
<path d="M539.8 124.27V129.07" stroke="#ff6414" stroke-width="1.1" fill="none"/>
<path d="M537.3 124.27H542.3M537.3 129.07H542.3" stroke="#ff6414" stroke-width="1.5" fill="none"/>
<circle cx="539.8" cy="126.67" r="1.9" fill="#ff6414"/>
<path d="M550.97 112.14V118.6" stroke="#ff6414" stroke-width="1.1" fill="none"/>
<path d="M548.47 112.14H553.47M548.47 118.6H553.47" stroke="#ff6414" stroke-width="1.5" fill="none"/>
<circle cx="550.97" cy="115.37" r="1.9" fill="#ff6414"/>
<path d="M562.13 111.35V116.16" stroke="#ff6414" stroke-width="1.1" fill="none"/>
<path d="M559.63 111.35H564.63M559.63 116.16H564.63" stroke="#ff6414" stroke-width="1.5" fill="none"/>
<circle cx="562.13" cy="113.75" r="1.9" fill="#ff6414"/>
<path d="M573.3 66.92V79.84" stroke="#ff6414" stroke-width="1.1" fill="none"/>
<path d="M570.8 66.92H575.8M570.8 79.84H575.8" stroke="#ff6414" stroke-width="1.5" fill="none"/>
<circle cx="573.3" cy="73.38" r="1.9" fill="#ff6414"/>
<path d="M584.47 122.48V128.94" stroke="#ff6414" stroke-width="1.1" fill="none"/>
<path d="M581.97 122.48H586.97M581.97 128.94H586.97" stroke="#ff6414" stroke-width="1.5" fill="none"/>
<circle cx="584.47" cy="125.71" r="1.9" fill="#ff6414"/>
<path d="M595.63 135.72V142.18" stroke="#ff6414" stroke-width="1.1" fill="none"/>
<path d="M593.13 135.72H598.13M593.13 142.18H598.13" stroke="#ff6414" stroke-width="1.5" fill="none"/>
<circle cx="595.63" cy="138.95" r="1.9" fill="#ff6414"/>
<path d="M606.8 134.93V139.73" stroke="#ff6414" stroke-width="1.1" fill="none"/>
<path d="M604.3 134.93H609.3M604.3 139.73H609.3" stroke="#ff6414" stroke-width="1.5" fill="none"/>
<circle cx="606.8" cy="137.33" r="1.9" fill="#ff6414"/>
<path d="M617.97 114.72V124.41" stroke="#ff6414" stroke-width="1.1" fill="none"/>
<path d="M615.47 114.72H620.47M615.47 124.41H620.47" stroke="#ff6414" stroke-width="1.5" fill="none"/>
<circle cx="617.97" cy="119.57" r="1.9" fill="#ff6414"/>
<path d="M629.13 121.05V125.85" stroke="#ff6414" stroke-width="1.1" fill="none"/>
<path d="M626.63 121.05H631.63M626.63 125.85H631.63" stroke="#ff6414" stroke-width="1.5" fill="none"/>
<circle cx="629.13" cy="123.45" r="1.9" fill="#ff6414"/>
<path d="M640.3 73.38V83.07" stroke="#ff6414" stroke-width="1.1" fill="none"/>
<path d="M637.8 73.38H642.8M637.8 83.07H642.8" stroke="#ff6414" stroke-width="1.5" fill="none"/>
<circle cx="640.3" cy="78.23" r="1.9" fill="#ff6414"/>
<path d="M651.47 131.52V137.98" stroke="#ff6414" stroke-width="1.1" fill="none"/>
<path d="M648.97 131.52H653.97M648.97 137.98H653.97" stroke="#ff6414" stroke-width="1.5" fill="none"/>
<circle cx="651.47" cy="134.75" r="1.9" fill="#ff6414"/>
<path d="M662.63 133.32V138.12" stroke="#ff6414" stroke-width="1.1" fill="none"/>
<path d="M660.13 133.32H665.13M660.13 138.12H665.13" stroke="#ff6414" stroke-width="1.5" fill="none"/>
<circle cx="662.63" cy="135.72" r="1.9" fill="#ff6414"/>
<path d="M673.8 128.29V134.75" stroke="#ff6414" stroke-width="1.1" fill="none"/>
<path d="M671.3 128.29H676.3M671.3 134.75H676.3" stroke="#ff6414" stroke-width="1.5" fill="none"/>
<circle cx="673.8" cy="131.52" r="1.9" fill="#ff6414"/>
<polyline points="539.8,130.87 550.97,127.32 562.13,125.06 573.3,92.76 584.47,115.37 595.63,133.13 606.8,134.75 617.97,124.41 629.13,131.52 640.3,79.84 651.47,119.57 662.63,138.63 673.8,133.13" fill="none" stroke="#17996b" stroke-width="1.85" stroke-linejoin="round"/>
<path d="M539.8 128.47V133.27" stroke="#17996b" stroke-width="1.1" fill="none"/>
<path d="M537.3 128.47H542.3M537.3 133.27H542.3" stroke="#17996b" stroke-width="1.5" fill="none"/>
<rect x="537.9" y="128.97" width="3.8" height="3.8" fill="#17996b"/>
<path d="M550.97 124.92V129.72" stroke="#17996b" stroke-width="1.1" fill="none"/>
<path d="M548.47 124.92H553.47M548.47 129.72H553.47" stroke="#17996b" stroke-width="1.5" fill="none"/>
<rect x="549.07" y="125.42" width="3.8" height="3.8" fill="#17996b"/>
<path d="M562.13 122.66V127.46" stroke="#17996b" stroke-width="1.1" fill="none"/>
<path d="M559.63 122.66H564.63M559.63 127.46H564.63" stroke="#17996b" stroke-width="1.5" fill="none"/>
<rect x="560.23" y="123.16" width="3.8" height="3.8" fill="#17996b"/>
<path d="M573.3 87.91V97.6" stroke="#17996b" stroke-width="1.1" fill="none"/>
<path d="M570.8 87.91H575.8M570.8 97.6H575.8" stroke="#17996b" stroke-width="1.5" fill="none"/>
<rect x="571.4" y="90.86" width="3.8" height="3.8" fill="#17996b"/>
<path d="M584.47 108.91V121.83" stroke="#17996b" stroke-width="1.1" fill="none"/>
<path d="M581.97 108.91H586.97M581.97 121.83H586.97" stroke="#17996b" stroke-width="1.5" fill="none"/>
<rect x="582.57" y="113.47" width="3.8" height="3.8" fill="#17996b"/>
<path d="M595.63 130.73V135.53" stroke="#17996b" stroke-width="1.1" fill="none"/>
<path d="M593.13 130.73H598.13M593.13 135.53H598.13" stroke="#17996b" stroke-width="1.5" fill="none"/>
<rect x="593.73" y="131.23" width="3.8" height="3.8" fill="#17996b"/>
<path d="M606.8 132.35V137.15" stroke="#17996b" stroke-width="1.1" fill="none"/>
<path d="M604.3 132.35H609.3M604.3 137.15H609.3" stroke="#17996b" stroke-width="1.5" fill="none"/>
<rect x="604.9" y="132.85" width="3.8" height="3.8" fill="#17996b"/>
<path d="M617.97 120.54V128.29" stroke="#17996b" stroke-width="1.1" fill="none"/>
<path d="M615.47 120.54H620.47M615.47 128.29H620.47" stroke="#17996b" stroke-width="1.5" fill="none"/>
<rect x="616.07" y="122.51" width="3.8" height="3.8" fill="#17996b"/>
<path d="M629.13 129.12V133.92" stroke="#17996b" stroke-width="1.1" fill="none"/>
<path d="M626.63 129.12H631.63M626.63 133.92H631.63" stroke="#17996b" stroke-width="1.5" fill="none"/>
<rect x="627.23" y="129.62" width="3.8" height="3.8" fill="#17996b"/>
<path d="M640.3 74.99V84.68" stroke="#17996b" stroke-width="1.1" fill="none"/>
<path d="M637.8 74.99H642.8M637.8 84.68H642.8" stroke="#17996b" stroke-width="1.5" fill="none"/>
<rect x="638.4" y="77.94" width="3.8" height="3.8" fill="#17996b"/>
<path d="M651.47 116.34V122.8" stroke="#17996b" stroke-width="1.1" fill="none"/>
<path d="M648.97 116.34H653.97M648.97 122.8H653.97" stroke="#17996b" stroke-width="1.5" fill="none"/>
<rect x="649.57" y="117.67" width="3.8" height="3.8" fill="#17996b"/>
<path d="M662.63 136.04V141.21" stroke="#17996b" stroke-width="1.1" fill="none"/>
<path d="M660.13 136.04H665.13M660.13 141.21H665.13" stroke="#17996b" stroke-width="1.5" fill="none"/>
<rect x="660.73" y="136.73" width="3.8" height="3.8" fill="#17996b"/>
<path d="M673.8 130.73V135.53" stroke="#17996b" stroke-width="1.1" fill="none"/>
<path d="M671.3 130.73H676.3M671.3 135.53H676.3" stroke="#17996b" stroke-width="1.5" fill="none"/>
<rect x="671.9" y="131.23" width="3.8" height="3.8" fill="#17996b"/>
<text transform="translate(37,240) rotate(-90)" text-anchor="middle" font-family='"Liberation Serif", serif' font-size="14" fill="#222">Relative mRNA level</text>
<text transform="translate(14.6,240) rotate(-90)" text-anchor="middle" font-family='"Liberation Sans", sans-serif' font-style="italic" font-size="16" fill="#111">clock1a</text>
<path d="M55.5 203.3V294.5H191" fill="none" stroke="#1a1a1a" stroke-width="1"/>
<path d="M53.5 294.3H55.5" stroke="#1a1a1a" stroke-width="0.8"/>
<text x="52.4" y="298.2" text-anchor="end" font-family='"Liberation Sans", sans-serif' font-weight="bold" font-size="8.3" fill="#111" stroke="#111" stroke-width="0.3">0.0</text>
<path d="M53.5 271.55H55.5" stroke="#1a1a1a" stroke-width="0.8"/>
<text x="52.4" y="275.45" text-anchor="end" font-family='"Liberation Sans", sans-serif' font-weight="bold" font-size="8.3" fill="#111" stroke="#111" stroke-width="0.3">0.5</text>
<path d="M53.5 248.8H55.5" stroke="#1a1a1a" stroke-width="0.8"/>
<text x="52.4" y="252.7" text-anchor="end" font-family='"Liberation Sans", sans-serif' font-weight="bold" font-size="8.3" fill="#111" stroke="#111" stroke-width="0.3">1.0</text>
<path d="M53.5 226.05H55.5" stroke="#1a1a1a" stroke-width="0.8"/>
<text x="52.4" y="229.95" text-anchor="end" font-family='"Liberation Sans", sans-serif' font-weight="bold" font-size="8.3" fill="#111" stroke="#111" stroke-width="0.3">1.5</text>
<path d="M53.5 203.3H55.5" stroke="#1a1a1a" stroke-width="0.8"/>
<text x="52.4" y="207.2" text-anchor="end" font-family='"Liberation Sans", sans-serif' font-weight="bold" font-size="8.3" fill="#111" stroke="#111" stroke-width="0.3">2.0</text>
<path d="M59.9 294.5V296.5" stroke="#1a1a1a" stroke-width="0.8"/>
<path d="M70.19 294.5V296.5" stroke="#1a1a1a" stroke-width="0.8"/>
<path d="M80.48 294.5V296.5" stroke="#1a1a1a" stroke-width="0.8"/>
<path d="M90.78 294.5V296.5" stroke="#1a1a1a" stroke-width="0.8"/>
<path d="M101.07 294.5V296.5" stroke="#1a1a1a" stroke-width="0.8"/>
<path d="M111.36 294.5V296.5" stroke="#1a1a1a" stroke-width="0.8"/>
<path d="M121.65 294.5V296.5" stroke="#1a1a1a" stroke-width="0.8"/>
<path d="M131.94 294.5V296.5" stroke="#1a1a1a" stroke-width="0.8"/>
<path d="M142.23 294.5V296.5" stroke="#1a1a1a" stroke-width="0.8"/>
<path d="M152.53 294.5V296.5" stroke="#1a1a1a" stroke-width="0.8"/>
<path d="M162.82 294.5V296.5" stroke="#1a1a1a" stroke-width="0.8"/>
<path d="M173.11 294.5V296.5" stroke="#1a1a1a" stroke-width="0.8"/>
<path d="M183.4 294.5V296.5" stroke="#1a1a1a" stroke-width="0.8"/>
<text x="61.1" y="303.7" text-anchor="middle" font-family='"Liberation Sans", sans-serif' font-weight="bold" font-size="7.5" fill="#111" stroke="#111" stroke-width="0.25">ZT0</text>
<text x="81.68" y="303.7" text-anchor="middle" font-family='"Liberation Sans", sans-serif' font-weight="bold" font-size="7.5" fill="#111" stroke="#111" stroke-width="0.25">ZT8</text>
<text x="102.27" y="303.7" text-anchor="middle" font-family='"Liberation Sans", sans-serif' font-weight="bold" font-size="7.5" fill="#111" stroke="#111" stroke-width="0.25">ZT16</text>
<text x="122.85" y="303.7" text-anchor="middle" font-family='"Liberation Sans", sans-serif' font-weight="bold" font-size="7.5" fill="#111" stroke="#111" stroke-width="0.25">ZT24</text>
<text x="143.43" y="303.7" text-anchor="middle" font-family='"Liberation Sans", sans-serif' font-weight="bold" font-size="7.5" fill="#111" stroke="#111" stroke-width="0.25">ZT32</text>
<text x="164.02" y="303.7" text-anchor="middle" font-family='"Liberation Sans", sans-serif' font-weight="bold" font-size="7.5" fill="#111" stroke="#111" stroke-width="0.25">ZT40</text>
<text x="184.6" y="303.7" text-anchor="middle" font-family='"Liberation Sans", sans-serif' font-weight="bold" font-size="7.5" fill="#111" stroke="#111" stroke-width="0.25">ZT48</text>
<path d="M59.4 256.99H190" stroke="#222" stroke-width="1.4" stroke-dasharray="4.1,3.95"/>
<polyline points="59.9,280.65 70.19,255.62 80.48,253.35 90.78,231.51 101.07,246.53 111.36,269.28 121.65,264.73 131.94,272.46 142.23,275.19 152.53,222.41 162.82,243.34 173.11,258.81 183.4,248.8" fill="none" stroke="#ff6414" stroke-width="1.85" stroke-linejoin="round"/>
<path d="M59.9 277.92V283.38" stroke="#ff6414" stroke-width="1.1" fill="none"/>
<path d="M57.4 277.92H62.4M57.4 283.38H62.4" stroke="#ff6414" stroke-width="1.5" fill="none"/>
<circle cx="59.9" cy="280.65" r="1.9" fill="#ff6414"/>
<path d="M70.19 252.9V258.36" stroke="#ff6414" stroke-width="1.1" fill="none"/>
<path d="M67.69 252.9H72.69M67.69 258.36H72.69" stroke="#ff6414" stroke-width="1.5" fill="none"/>
<circle cx="70.19" cy="255.62" r="1.9" fill="#ff6414"/>
<path d="M80.48 250.62V256.08" stroke="#ff6414" stroke-width="1.1" fill="none"/>
<path d="M77.98 250.62H82.98M77.98 256.08H82.98" stroke="#ff6414" stroke-width="1.5" fill="none"/>
<circle cx="80.48" cy="253.35" r="1.9" fill="#ff6414"/>
<path d="M90.78 226.05V236.97" stroke="#ff6414" stroke-width="1.1" fill="none"/>
<path d="M88.28 226.05H93.28M88.28 236.97H93.28" stroke="#ff6414" stroke-width="1.5" fill="none"/>
<circle cx="90.78" cy="231.51" r="1.9" fill="#ff6414"/>
<path d="M101.07 243.8V249.25" stroke="#ff6414" stroke-width="1.1" fill="none"/>
<path d="M98.57 243.8H103.57M98.57 249.25H103.57" stroke="#ff6414" stroke-width="1.5" fill="none"/>
<circle cx="101.07" cy="246.53" r="1.9" fill="#ff6414"/>
<path d="M111.36 264.73V273.83" stroke="#ff6414" stroke-width="1.1" fill="none"/>
<path d="M108.86 264.73H113.86M108.86 273.83H113.86" stroke="#ff6414" stroke-width="1.5" fill="none"/>
<circle cx="111.36" cy="269.28" r="1.9" fill="#ff6414"/>
<path d="M121.65 260.18V269.28" stroke="#ff6414" stroke-width="1.1" fill="none"/>
<path d="M119.15 260.18H124.15M119.15 269.28H124.15" stroke="#ff6414" stroke-width="1.5" fill="none"/>
<circle cx="121.65" cy="264.73" r="1.9" fill="#ff6414"/>
<path d="M131.94 268.82V276.1" stroke="#ff6414" stroke-width="1.1" fill="none"/>
<path d="M129.44 268.82H134.44M129.44 276.1H134.44" stroke="#ff6414" stroke-width="1.5" fill="none"/>
<circle cx="131.94" cy="272.46" r="1.9" fill="#ff6414"/>
<path d="M142.23 272.79V277.59" stroke="#ff6414" stroke-width="1.1" fill="none"/>
<path d="M139.73 272.79H144.73M139.73 277.59H144.73" stroke="#ff6414" stroke-width="1.5" fill="none"/>
<circle cx="142.23" cy="275.19" r="1.9" fill="#ff6414"/>
<path d="M152.53 217.86V226.96" stroke="#ff6414" stroke-width="1.1" fill="none"/>
<path d="M150.03 217.86H155.03M150.03 226.96H155.03" stroke="#ff6414" stroke-width="1.5" fill="none"/>
<circle cx="152.53" cy="222.41" r="1.9" fill="#ff6414"/>
<path d="M162.82 239.7V246.98" stroke="#ff6414" stroke-width="1.1" fill="none"/>
<path d="M160.32 239.7H165.32M160.32 246.98H165.32" stroke="#ff6414" stroke-width="1.5" fill="none"/>
<circle cx="162.82" cy="243.34" r="1.9" fill="#ff6414"/>
<path d="M173.11 256.08V261.54" stroke="#ff6414" stroke-width="1.1" fill="none"/>
<path d="M170.61 256.08H175.61M170.61 261.54H175.61" stroke="#ff6414" stroke-width="1.5" fill="none"/>
<circle cx="173.11" cy="258.81" r="1.9" fill="#ff6414"/>
<path d="M183.4 246.4V251.2" stroke="#ff6414" stroke-width="1.1" fill="none"/>
<path d="M180.9 246.4H185.9M180.9 251.2H185.9" stroke="#ff6414" stroke-width="1.5" fill="none"/>
<circle cx="183.4" cy="248.8" r="1.9" fill="#ff6414"/>
<polyline points="59.9,278.38 70.19,260.18 80.48,258.81 90.78,239.7 101.07,247.89 111.36,266.09 121.65,270.64 131.94,280.65 142.23,278.38 152.53,236.06 162.82,251.08 173.11,256.99 183.4,245.16" fill="none" stroke="#17996b" stroke-width="1.85" stroke-linejoin="round"/>
<path d="M59.9 275.98V280.77" stroke="#17996b" stroke-width="1.1" fill="none"/>
<path d="M57.4 275.98H62.4M57.4 280.77H62.4" stroke="#17996b" stroke-width="1.5" fill="none"/>
<rect x="58" y="276.48" width="3.8" height="3.8" fill="#17996b"/>
<path d="M70.19 257.78V262.57" stroke="#17996b" stroke-width="1.1" fill="none"/>
<path d="M67.69 257.78H72.69M67.69 262.57H72.69" stroke="#17996b" stroke-width="1.5" fill="none"/>
<rect x="68.29" y="258.28" width="3.8" height="3.8" fill="#17996b"/>
<path d="M80.48 256.41V261.21" stroke="#17996b" stroke-width="1.1" fill="none"/>
<path d="M77.98 256.41H82.98M77.98 261.21H82.98" stroke="#17996b" stroke-width="1.5" fill="none"/>
<rect x="78.58" y="256.91" width="3.8" height="3.8" fill="#17996b"/>
<path d="M90.78 237.3V242.1" stroke="#17996b" stroke-width="1.1" fill="none"/>
<path d="M88.28 237.3H93.28M88.28 242.1H93.28" stroke="#17996b" stroke-width="1.5" fill="none"/>
<rect x="88.88" y="237.8" width="3.8" height="3.8" fill="#17996b"/>
<path d="M101.07 245.49V250.29" stroke="#17996b" stroke-width="1.1" fill="none"/>
<path d="M98.57 245.49H103.57M98.57 250.29H103.57" stroke="#17996b" stroke-width="1.5" fill="none"/>
<rect x="99.17" y="245.99" width="3.8" height="3.8" fill="#17996b"/>
<path d="M111.36 263.69V268.49" stroke="#17996b" stroke-width="1.1" fill="none"/>
<path d="M108.86 263.69H113.86M108.86 268.49H113.86" stroke="#17996b" stroke-width="1.5" fill="none"/>
<rect x="109.46" y="264.19" width="3.8" height="3.8" fill="#17996b"/>
<path d="M121.65 268.24V273.04" stroke="#17996b" stroke-width="1.1" fill="none"/>
<path d="M119.15 268.24H124.15M119.15 273.04H124.15" stroke="#17996b" stroke-width="1.5" fill="none"/>
<rect x="119.75" y="268.74" width="3.8" height="3.8" fill="#17996b"/>
<path d="M131.94 278.25V283.05" stroke="#17996b" stroke-width="1.1" fill="none"/>
<path d="M129.44 278.25H134.44M129.44 283.05H134.44" stroke="#17996b" stroke-width="1.5" fill="none"/>
<rect x="130.04" y="278.75" width="3.8" height="3.8" fill="#17996b"/>
<path d="M142.23 275.98V280.77" stroke="#17996b" stroke-width="1.1" fill="none"/>
<path d="M139.73 275.98H144.73M139.73 280.77H144.73" stroke="#17996b" stroke-width="1.5" fill="none"/>
<rect x="140.33" y="276.48" width="3.8" height="3.8" fill="#17996b"/>
<path d="M152.53 233.66V238.46" stroke="#17996b" stroke-width="1.1" fill="none"/>
<path d="M150.03 233.66H155.03M150.03 238.46H155.03" stroke="#17996b" stroke-width="1.5" fill="none"/>
<rect x="150.62" y="234.16" width="3.8" height="3.8" fill="#17996b"/>
<path d="M162.82 245.62V256.54" stroke="#17996b" stroke-width="1.1" fill="none"/>
<path d="M160.32 245.62H165.32M160.32 256.54H165.32" stroke="#17996b" stroke-width="1.5" fill="none"/>
<rect x="160.92" y="249.18" width="3.8" height="3.8" fill="#17996b"/>
<path d="M173.11 254.59V259.39" stroke="#17996b" stroke-width="1.1" fill="none"/>
<path d="M170.61 254.59H175.61M170.61 259.39H175.61" stroke="#17996b" stroke-width="1.5" fill="none"/>
<rect x="171.21" y="255.09" width="3.8" height="3.8" fill="#17996b"/>
<path d="M183.4 238.34V251.99" stroke="#17996b" stroke-width="1.1" fill="none"/>
<path d="M180.9 238.34H185.9M180.9 251.99H185.9" stroke="#17996b" stroke-width="1.5" fill="none"/>
<rect x="181.5" y="243.26" width="3.8" height="3.8" fill="#17996b"/>
<path d="M214.5 203.5V295.5H352.6" fill="none" stroke="#1a1a1a" stroke-width="1"/>
<path d="M212.8 295.6H214.8" stroke="#1a1a1a" stroke-width="0.8"/>
<text x="211.7" y="299.5" text-anchor="end" font-family='"Liberation Sans", sans-serif' font-weight="bold" font-size="8.3" fill="#111" stroke="#111" stroke-width="0.3">0.0</text>
<path d="M212.8 272.58H214.8" stroke="#1a1a1a" stroke-width="0.8"/>
<text x="211.7" y="276.48" text-anchor="end" font-family='"Liberation Sans", sans-serif' font-weight="bold" font-size="8.3" fill="#111" stroke="#111" stroke-width="0.3">0.5</text>
<path d="M212.8 249.55H214.8" stroke="#1a1a1a" stroke-width="0.8"/>
<text x="211.7" y="253.45" text-anchor="end" font-family='"Liberation Sans", sans-serif' font-weight="bold" font-size="8.3" fill="#111" stroke="#111" stroke-width="0.3">1.0</text>
<path d="M212.8 226.53H214.8" stroke="#1a1a1a" stroke-width="0.8"/>
<text x="211.7" y="230.43" text-anchor="end" font-family='"Liberation Sans", sans-serif' font-weight="bold" font-size="8.3" fill="#111" stroke="#111" stroke-width="0.3">1.5</text>
<path d="M212.8 203.5H214.8" stroke="#1a1a1a" stroke-width="0.8"/>
<text x="211.7" y="207.4" text-anchor="end" font-family='"Liberation Sans", sans-serif' font-weight="bold" font-size="8.3" fill="#111" stroke="#111" stroke-width="0.3">2.0</text>
<path d="M219.8 295.5V297.5" stroke="#1a1a1a" stroke-width="0.8"/>
<path d="M230.45 295.5V297.5" stroke="#1a1a1a" stroke-width="0.8"/>
<path d="M241.1 295.5V297.5" stroke="#1a1a1a" stroke-width="0.8"/>
<path d="M251.75 295.5V297.5" stroke="#1a1a1a" stroke-width="0.8"/>
<path d="M262.4 295.5V297.5" stroke="#1a1a1a" stroke-width="0.8"/>
<path d="M273.05 295.5V297.5" stroke="#1a1a1a" stroke-width="0.8"/>
<path d="M283.7 295.5V297.5" stroke="#1a1a1a" stroke-width="0.8"/>
<path d="M294.35 295.5V297.5" stroke="#1a1a1a" stroke-width="0.8"/>
<path d="M305 295.5V297.5" stroke="#1a1a1a" stroke-width="0.8"/>
<path d="M315.65 295.5V297.5" stroke="#1a1a1a" stroke-width="0.8"/>
<path d="M326.3 295.5V297.5" stroke="#1a1a1a" stroke-width="0.8"/>
<path d="M336.95 295.5V297.5" stroke="#1a1a1a" stroke-width="0.8"/>
<path d="M347.6 295.5V297.5" stroke="#1a1a1a" stroke-width="0.8"/>
<text x="221" y="305" text-anchor="middle" font-family='"Liberation Sans", sans-serif' font-weight="bold" font-size="7.5" fill="#111" stroke="#111" stroke-width="0.25">ZT0</text>
<text x="242.3" y="305" text-anchor="middle" font-family='"Liberation Sans", sans-serif' font-weight="bold" font-size="7.5" fill="#111" stroke="#111" stroke-width="0.25">ZT8</text>
<text x="263.6" y="305" text-anchor="middle" font-family='"Liberation Sans", sans-serif' font-weight="bold" font-size="7.5" fill="#111" stroke="#111" stroke-width="0.25">ZT16</text>
<text x="284.9" y="305" text-anchor="middle" font-family='"Liberation Sans", sans-serif' font-weight="bold" font-size="7.5" fill="#111" stroke="#111" stroke-width="0.25">ZT24</text>
<text x="306.2" y="305" text-anchor="middle" font-family='"Liberation Sans", sans-serif' font-weight="bold" font-size="7.5" fill="#111" stroke="#111" stroke-width="0.25">ZT32</text>
<text x="327.5" y="305" text-anchor="middle" font-family='"Liberation Sans", sans-serif' font-weight="bold" font-size="7.5" fill="#111" stroke="#111" stroke-width="0.25">ZT40</text>
<text x="348.8" y="305" text-anchor="middle" font-family='"Liberation Sans", sans-serif' font-weight="bold" font-size="7.5" fill="#111" stroke="#111" stroke-width="0.25">ZT48</text>
<path d="M219.3 257.38H351.6" stroke="#222" stroke-width="1.4" stroke-dasharray="4.1,3.95"/>
<polyline points="219.8,244.94 230.45,265.67 241.1,262.44 251.75,221 262.4,269.35 273.05,268.89 283.7,284.55 294.35,291.92 305,280.86 315.65,242.64 326.3,248.63 336.95,274.88 347.6,291" fill="none" stroke="#ff6414" stroke-width="1.85" stroke-linejoin="round"/>
<path d="M219.8 242.54V247.34" stroke="#ff6414" stroke-width="1.1" fill="none"/>
<path d="M217.3 242.54H222.3M217.3 247.34H222.3" stroke="#ff6414" stroke-width="1.5" fill="none"/>
<circle cx="219.8" cy="244.94" r="1.9" fill="#ff6414"/>
<path d="M230.45 261.98V269.35" stroke="#ff6414" stroke-width="1.1" fill="none"/>
<path d="M227.95 261.98H232.95M227.95 269.35H232.95" stroke="#ff6414" stroke-width="1.5" fill="none"/>
<circle cx="230.45" cy="265.67" r="1.9" fill="#ff6414"/>
<path d="M241.1 260.04V264.84" stroke="#ff6414" stroke-width="1.1" fill="none"/>
<path d="M238.6 260.04H243.6M238.6 264.84H243.6" stroke="#ff6414" stroke-width="1.5" fill="none"/>
<circle cx="241.1" cy="262.44" r="1.9" fill="#ff6414"/>
<circle cx="251.75" cy="221" r="1.9" fill="#ff6414"/>
<path d="M262.4 266.95V271.75" stroke="#ff6414" stroke-width="1.1" fill="none"/>
<path d="M259.9 266.95H264.9M259.9 271.75H264.9" stroke="#ff6414" stroke-width="1.5" fill="none"/>
<circle cx="262.4" cy="269.35" r="1.9" fill="#ff6414"/>
<path d="M273.05 266.49V271.29" stroke="#ff6414" stroke-width="1.1" fill="none"/>
<path d="M270.55 266.49H275.55M270.55 271.29H275.55" stroke="#ff6414" stroke-width="1.5" fill="none"/>
<circle cx="273.05" cy="268.89" r="1.9" fill="#ff6414"/>
<circle cx="283.7" cy="284.55" r="1.9" fill="#ff6414"/>
<circle cx="294.35" cy="291.92" r="1.9" fill="#ff6414"/>
<circle cx="305" cy="280.86" r="1.9" fill="#ff6414"/>
<path d="M315.65 240.24V245.04" stroke="#ff6414" stroke-width="1.1" fill="none"/>
<path d="M313.15 240.24H318.15M313.15 245.04H318.15" stroke="#ff6414" stroke-width="1.5" fill="none"/>
<circle cx="315.65" cy="242.64" r="1.9" fill="#ff6414"/>
<path d="M326.3 246.23V251.03" stroke="#ff6414" stroke-width="1.1" fill="none"/>
<path d="M323.8 246.23H328.8M323.8 251.03H328.8" stroke="#ff6414" stroke-width="1.5" fill="none"/>
<circle cx="326.3" cy="248.63" r="1.9" fill="#ff6414"/>
<circle cx="336.95" cy="274.88" r="1.9" fill="#ff6414"/>
<circle cx="347.6" cy="291" r="1.9" fill="#ff6414"/>
<polyline points="219.8,250.93 230.45,277.18 241.1,265.67 251.75,215.01 262.4,242.64 273.05,287.77 283.7,290.07 294.35,288.69 305,287.31 315.65,244.02 326.3,257.84 336.95,261.06 347.6,273.96" fill="none" stroke="#17996b" stroke-width="1.85" stroke-linejoin="round"/>
<path d="M219.8 247.25V254.62" stroke="#17996b" stroke-width="1.1" fill="none"/>
<path d="M217.3 247.25H222.3M217.3 254.62H222.3" stroke="#17996b" stroke-width="1.5" fill="none"/>
<rect x="217.9" y="249.03" width="3.8" height="3.8" fill="#17996b"/>
<path d="M230.45 274.78V279.58" stroke="#17996b" stroke-width="1.1" fill="none"/>
<path d="M227.95 274.78H232.95M227.95 279.58H232.95" stroke="#17996b" stroke-width="1.5" fill="none"/>
<rect x="228.55" y="275.28" width="3.8" height="3.8" fill="#17996b"/>
<path d="M241.1 263.27V268.07" stroke="#17996b" stroke-width="1.1" fill="none"/>
<path d="M238.6 263.27H243.6M238.6 268.07H243.6" stroke="#17996b" stroke-width="1.5" fill="none"/>
<rect x="239.2" y="263.77" width="3.8" height="3.8" fill="#17996b"/>
<path d="M251.75 212.61V217.41" stroke="#17996b" stroke-width="1.1" fill="none"/>
<path d="M249.25 212.61H254.25M249.25 217.41H254.25" stroke="#17996b" stroke-width="1.5" fill="none"/>
<rect x="249.85" y="213.11" width="3.8" height="3.8" fill="#17996b"/>
<path d="M262.4 239.42V245.87" stroke="#17996b" stroke-width="1.1" fill="none"/>
<path d="M259.9 239.42H264.9M259.9 245.87H264.9" stroke="#17996b" stroke-width="1.5" fill="none"/>
<rect x="260.5" y="240.74" width="3.8" height="3.8" fill="#17996b"/>
<rect x="271.15" y="285.87" width="3.8" height="3.8" fill="#17996b"/>
<path d="M283.7 287.67V292.47" stroke="#17996b" stroke-width="1.1" fill="none"/>
<path d="M281.2 287.67H286.2M281.2 292.47H286.2" stroke="#17996b" stroke-width="1.5" fill="none"/>
<rect x="281.8" y="288.17" width="3.8" height="3.8" fill="#17996b"/>
<path d="M294.35 286.29V291.09" stroke="#17996b" stroke-width="1.1" fill="none"/>
<path d="M291.85 286.29H296.85M291.85 291.09H296.85" stroke="#17996b" stroke-width="1.5" fill="none"/>
<rect x="292.45" y="286.79" width="3.8" height="3.8" fill="#17996b"/>
<rect x="303.1" y="285.41" width="3.8" height="3.8" fill="#17996b"/>
<path d="M315.65 241.62V246.42" stroke="#17996b" stroke-width="1.1" fill="none"/>
<path d="M313.15 241.62H318.15M313.15 246.42H318.15" stroke="#17996b" stroke-width="1.5" fill="none"/>
<rect x="313.75" y="242.12" width="3.8" height="3.8" fill="#17996b"/>
<path d="M326.3 255.44V260.24" stroke="#17996b" stroke-width="1.1" fill="none"/>
<path d="M323.8 255.44H328.8M323.8 260.24H328.8" stroke="#17996b" stroke-width="1.5" fill="none"/>
<rect x="324.4" y="255.94" width="3.8" height="3.8" fill="#17996b"/>
<path d="M336.95 258.66V263.46" stroke="#17996b" stroke-width="1.1" fill="none"/>
<path d="M334.45 258.66H339.45M334.45 263.46H339.45" stroke="#17996b" stroke-width="1.5" fill="none"/>
<rect x="335.05" y="259.16" width="3.8" height="3.8" fill="#17996b"/>
<path d="M347.6 271.56V276.36" stroke="#17996b" stroke-width="1.1" fill="none"/>
<path d="M345.1 271.56H350.1M345.1 276.36H350.1" stroke="#17996b" stroke-width="1.5" fill="none"/>
<rect x="345.7" y="272.06" width="3.8" height="3.8" fill="#17996b"/>
<path d="M377.5 203.5V295.5H516" fill="none" stroke="#1a1a1a" stroke-width="1"/>
<path d="M375.8 295.6H377.8" stroke="#1a1a1a" stroke-width="0.8"/>
<text x="374.7" y="299.5" text-anchor="end" font-family='"Liberation Sans", sans-serif' font-weight="bold" font-size="8.3" fill="#111" stroke="#111" stroke-width="0.3">0.0</text>
<path d="M375.8 272.58H377.8" stroke="#1a1a1a" stroke-width="0.8"/>
<text x="374.7" y="276.48" text-anchor="end" font-family='"Liberation Sans", sans-serif' font-weight="bold" font-size="8.3" fill="#111" stroke="#111" stroke-width="0.3">0.5</text>
<path d="M375.8 249.55H377.8" stroke="#1a1a1a" stroke-width="0.8"/>
<text x="374.7" y="253.45" text-anchor="end" font-family='"Liberation Sans", sans-serif' font-weight="bold" font-size="8.3" fill="#111" stroke="#111" stroke-width="0.3">1.0</text>
<path d="M375.8 226.53H377.8" stroke="#1a1a1a" stroke-width="0.8"/>
<text x="374.7" y="230.43" text-anchor="end" font-family='"Liberation Sans", sans-serif' font-weight="bold" font-size="8.3" fill="#111" stroke="#111" stroke-width="0.3">1.5</text>
<path d="M375.8 203.5H377.8" stroke="#1a1a1a" stroke-width="0.8"/>
<text x="374.7" y="207.4" text-anchor="end" font-family='"Liberation Sans", sans-serif' font-weight="bold" font-size="8.3" fill="#111" stroke="#111" stroke-width="0.3">2.0</text>
<path d="M383 295.5V297.5" stroke="#1a1a1a" stroke-width="0.8"/>
<path d="M393.65 295.5V297.5" stroke="#1a1a1a" stroke-width="0.8"/>
<path d="M404.3 295.5V297.5" stroke="#1a1a1a" stroke-width="0.8"/>
<path d="M414.95 295.5V297.5" stroke="#1a1a1a" stroke-width="0.8"/>
<path d="M425.6 295.5V297.5" stroke="#1a1a1a" stroke-width="0.8"/>
<path d="M436.25 295.5V297.5" stroke="#1a1a1a" stroke-width="0.8"/>
<path d="M446.9 295.5V297.5" stroke="#1a1a1a" stroke-width="0.8"/>
<path d="M457.55 295.5V297.5" stroke="#1a1a1a" stroke-width="0.8"/>
<path d="M468.2 295.5V297.5" stroke="#1a1a1a" stroke-width="0.8"/>
<path d="M478.85 295.5V297.5" stroke="#1a1a1a" stroke-width="0.8"/>
<path d="M489.5 295.5V297.5" stroke="#1a1a1a" stroke-width="0.8"/>
<path d="M500.15 295.5V297.5" stroke="#1a1a1a" stroke-width="0.8"/>
<path d="M510.8 295.5V297.5" stroke="#1a1a1a" stroke-width="0.8"/>
<text x="384.2" y="305" text-anchor="middle" font-family='"Liberation Sans", sans-serif' font-weight="bold" font-size="7.5" fill="#111" stroke="#111" stroke-width="0.25">ZT0</text>
<text x="405.5" y="305" text-anchor="middle" font-family='"Liberation Sans", sans-serif' font-weight="bold" font-size="7.5" fill="#111" stroke="#111" stroke-width="0.25">ZT8</text>
<text x="426.8" y="305" text-anchor="middle" font-family='"Liberation Sans", sans-serif' font-weight="bold" font-size="7.5" fill="#111" stroke="#111" stroke-width="0.25">ZT16</text>
<text x="448.1" y="305" text-anchor="middle" font-family='"Liberation Sans", sans-serif' font-weight="bold" font-size="7.5" fill="#111" stroke="#111" stroke-width="0.25">ZT24</text>
<text x="469.4" y="305" text-anchor="middle" font-family='"Liberation Sans", sans-serif' font-weight="bold" font-size="7.5" fill="#111" stroke="#111" stroke-width="0.25">ZT32</text>
<text x="490.7" y="305" text-anchor="middle" font-family='"Liberation Sans", sans-serif' font-weight="bold" font-size="7.5" fill="#111" stroke="#111" stroke-width="0.25">ZT40</text>
<text x="512" y="305" text-anchor="middle" font-family='"Liberation Sans", sans-serif' font-weight="bold" font-size="7.5" fill="#111" stroke="#111" stroke-width="0.25">ZT48</text>
<path d="M382.5 258.76H515" stroke="#222" stroke-width="1.4" stroke-dasharray="4.1,3.95"/>
<polyline points="383,276.26 393.65,279.48 404.3,263.37 414.95,235.74 425.6,279.48 436.25,286.39 446.9,285.01 457.55,268.89 468.2,282.71 478.85,228.83 489.5,276.26 500.15,267.97 510.8,248.63" fill="none" stroke="#ff6414" stroke-width="1.85" stroke-linejoin="round"/>
<path d="M383 273.86V278.66" stroke="#ff6414" stroke-width="1.1" fill="none"/>
<path d="M380.5 273.86H385.5M380.5 278.66H385.5" stroke="#ff6414" stroke-width="1.5" fill="none"/>
<circle cx="383" cy="276.26" r="1.9" fill="#ff6414"/>
<path d="M393.65 275.8V283.17" stroke="#ff6414" stroke-width="1.1" fill="none"/>
<path d="M391.15 275.8H396.15M391.15 283.17H396.15" stroke="#ff6414" stroke-width="1.5" fill="none"/>
<circle cx="393.65" cy="279.48" r="1.9" fill="#ff6414"/>
<path d="M404.3 260.97V265.76" stroke="#ff6414" stroke-width="1.1" fill="none"/>
<path d="M401.8 260.97H406.8M401.8 265.76H406.8" stroke="#ff6414" stroke-width="1.5" fill="none"/>
<circle cx="404.3" cy="263.37" r="1.9" fill="#ff6414"/>
<path d="M414.95 228.83V242.64" stroke="#ff6414" stroke-width="1.1" fill="none"/>
<path d="M412.45 228.83H417.45M412.45 242.64H417.45" stroke="#ff6414" stroke-width="1.5" fill="none"/>
<circle cx="414.95" cy="235.74" r="1.9" fill="#ff6414"/>
<path d="M425.6 277.08V281.88" stroke="#ff6414" stroke-width="1.1" fill="none"/>
<path d="M423.1 277.08H428.1M423.1 281.88H428.1" stroke="#ff6414" stroke-width="1.5" fill="none"/>
<circle cx="425.6" cy="279.48" r="1.9" fill="#ff6414"/>
<path d="M436.25 283.99V288.79" stroke="#ff6414" stroke-width="1.1" fill="none"/>
<path d="M433.75 283.99H438.75M433.75 288.79H438.75" stroke="#ff6414" stroke-width="1.5" fill="none"/>
<circle cx="436.25" cy="286.39" r="1.9" fill="#ff6414"/>
<path d="M446.9 282.61V287.41" stroke="#ff6414" stroke-width="1.1" fill="none"/>
<path d="M444.4 282.61H449.4M444.4 287.41H449.4" stroke="#ff6414" stroke-width="1.5" fill="none"/>
<circle cx="446.9" cy="285.01" r="1.9" fill="#ff6414"/>
<path d="M457.55 266.49V271.29" stroke="#ff6414" stroke-width="1.1" fill="none"/>
<path d="M455.05 266.49H460.05M455.05 271.29H460.05" stroke="#ff6414" stroke-width="1.5" fill="none"/>
<circle cx="457.55" cy="268.89" r="1.9" fill="#ff6414"/>
<path d="M468.2 280.31V285.11" stroke="#ff6414" stroke-width="1.1" fill="none"/>
<path d="M465.7 280.31H470.7M465.7 285.11H470.7" stroke="#ff6414" stroke-width="1.5" fill="none"/>
<circle cx="468.2" cy="282.71" r="1.9" fill="#ff6414"/>
<path d="M478.85 225.14V232.51" stroke="#ff6414" stroke-width="1.1" fill="none"/>
<path d="M476.35 225.14H481.35M476.35 232.51H481.35" stroke="#ff6414" stroke-width="1.5" fill="none"/>
<circle cx="478.85" cy="228.83" r="1.9" fill="#ff6414"/>
<path d="M489.5 272.57V279.94" stroke="#ff6414" stroke-width="1.1" fill="none"/>
<path d="M487 272.57H492M487 279.94H492" stroke="#ff6414" stroke-width="1.5" fill="none"/>
<circle cx="489.5" cy="276.26" r="1.9" fill="#ff6414"/>
<path d="M500.15 265.57V270.37" stroke="#ff6414" stroke-width="1.1" fill="none"/>
<path d="M497.65 265.57H502.65M497.65 270.37H502.65" stroke="#ff6414" stroke-width="1.5" fill="none"/>
<circle cx="500.15" cy="267.97" r="1.9" fill="#ff6414"/>
<path d="M510.8 244.02V253.23" stroke="#ff6414" stroke-width="1.1" fill="none"/>
<path d="M508.3 244.02H513.3M508.3 253.23H513.3" stroke="#ff6414" stroke-width="1.5" fill="none"/>
<circle cx="510.8" cy="248.63" r="1.9" fill="#ff6414"/>
<polyline points="383,273.96 393.65,272.58 404.3,267.97 414.95,242.64 425.6,277.18 436.25,284.09 446.9,273.96 457.55,262.44 468.2,279.48 478.85,222.84 489.5,268.89 500.15,267.97 510.8,251.85" fill="none" stroke="#17996b" stroke-width="1.85" stroke-linejoin="round"/>
<path d="M383 271.19V276.72" stroke="#17996b" stroke-width="1.1" fill="none"/>
<path d="M380.5 271.19H385.5M380.5 276.72H385.5" stroke="#17996b" stroke-width="1.5" fill="none"/>
<rect x="381.1" y="272.06" width="3.8" height="3.8" fill="#17996b"/>
<path d="M393.65 268.89V276.26" stroke="#17996b" stroke-width="1.1" fill="none"/>
<path d="M391.15 268.89H396.15M391.15 276.26H396.15" stroke="#17996b" stroke-width="1.5" fill="none"/>
<rect x="391.75" y="270.68" width="3.8" height="3.8" fill="#17996b"/>
<path d="M404.3 264.29V271.65" stroke="#17996b" stroke-width="1.1" fill="none"/>
<path d="M401.8 264.29H406.8M401.8 271.65H406.8" stroke="#17996b" stroke-width="1.5" fill="none"/>
<rect x="402.4" y="266.07" width="3.8" height="3.8" fill="#17996b"/>
<path d="M414.95 238.04V247.25" stroke="#17996b" stroke-width="1.1" fill="none"/>
<path d="M412.45 238.04H417.45M412.45 247.25H417.45" stroke="#17996b" stroke-width="1.5" fill="none"/>
<rect x="413.05" y="240.74" width="3.8" height="3.8" fill="#17996b"/>
<path d="M425.6 274.42V279.94" stroke="#17996b" stroke-width="1.1" fill="none"/>
<path d="M423.1 274.42H428.1M423.1 279.94H428.1" stroke="#17996b" stroke-width="1.5" fill="none"/>
<rect x="423.7" y="275.28" width="3.8" height="3.8" fill="#17996b"/>
<path d="M436.25 281.69V286.49" stroke="#17996b" stroke-width="1.1" fill="none"/>
<path d="M433.75 281.69H438.75M433.75 286.49H438.75" stroke="#17996b" stroke-width="1.5" fill="none"/>
<rect x="434.35" y="282.19" width="3.8" height="3.8" fill="#17996b"/>
<path d="M446.9 271.56V276.36" stroke="#17996b" stroke-width="1.1" fill="none"/>
<path d="M444.4 271.56H449.4M444.4 276.36H449.4" stroke="#17996b" stroke-width="1.5" fill="none"/>
<rect x="445" y="272.06" width="3.8" height="3.8" fill="#17996b"/>
<path d="M457.55 258.76V266.13" stroke="#17996b" stroke-width="1.1" fill="none"/>
<path d="M455.05 258.76H460.05M455.05 266.13H460.05" stroke="#17996b" stroke-width="1.5" fill="none"/>
<rect x="455.65" y="260.54" width="3.8" height="3.8" fill="#17996b"/>
<path d="M468.2 277.08V281.88" stroke="#17996b" stroke-width="1.1" fill="none"/>
<path d="M465.7 277.08H470.7M465.7 281.88H470.7" stroke="#17996b" stroke-width="1.5" fill="none"/>
<rect x="466.3" y="277.58" width="3.8" height="3.8" fill="#17996b"/>
<path d="M478.85 217.31V228.37" stroke="#17996b" stroke-width="1.1" fill="none"/>
<path d="M476.35 217.31H481.35M476.35 228.37H481.35" stroke="#17996b" stroke-width="1.5" fill="none"/>
<rect x="476.95" y="220.94" width="3.8" height="3.8" fill="#17996b"/>
<path d="M489.5 266.49V271.29" stroke="#17996b" stroke-width="1.1" fill="none"/>
<path d="M487 266.49H492M487 271.29H492" stroke="#17996b" stroke-width="1.5" fill="none"/>
<rect x="487.6" y="266.99" width="3.8" height="3.8" fill="#17996b"/>
<path d="M500.15 265.21V270.73" stroke="#17996b" stroke-width="1.1" fill="none"/>
<path d="M497.65 265.21H502.65M497.65 270.73H502.65" stroke="#17996b" stroke-width="1.5" fill="none"/>
<rect x="498.25" y="266.07" width="3.8" height="3.8" fill="#17996b"/>
<path d="M510.8 249.09V254.62" stroke="#17996b" stroke-width="1.1" fill="none"/>
<path d="M508.3 249.09H513.3M508.3 254.62H513.3" stroke="#17996b" stroke-width="1.5" fill="none"/>
<rect x="508.9" y="249.95" width="3.8" height="3.8" fill="#17996b"/>
<path d="M541.5 203.5V295.5H680" fill="none" stroke="#1a1a1a" stroke-width="1"/>
<path d="M539.6 295.6H541.6" stroke="#1a1a1a" stroke-width="0.8"/>
<text x="538.5" y="299.5" text-anchor="end" font-family='"Liberation Sans", sans-serif' font-weight="bold" font-size="8.3" fill="#111" stroke="#111" stroke-width="0.3">0.0</text>
<path d="M539.6 272.58H541.6" stroke="#1a1a1a" stroke-width="0.8"/>
<text x="538.5" y="276.48" text-anchor="end" font-family='"Liberation Sans", sans-serif' font-weight="bold" font-size="8.3" fill="#111" stroke="#111" stroke-width="0.3">0.5</text>
<path d="M539.6 249.55H541.6" stroke="#1a1a1a" stroke-width="0.8"/>
<text x="538.5" y="253.45" text-anchor="end" font-family='"Liberation Sans", sans-serif' font-weight="bold" font-size="8.3" fill="#111" stroke="#111" stroke-width="0.3">1.0</text>
<path d="M539.6 226.53H541.6" stroke="#1a1a1a" stroke-width="0.8"/>
<text x="538.5" y="230.43" text-anchor="end" font-family='"Liberation Sans", sans-serif' font-weight="bold" font-size="8.3" fill="#111" stroke="#111" stroke-width="0.3">1.5</text>
<path d="M539.6 203.5H541.6" stroke="#1a1a1a" stroke-width="0.8"/>
<text x="538.5" y="207.4" text-anchor="end" font-family='"Liberation Sans", sans-serif' font-weight="bold" font-size="8.3" fill="#111" stroke="#111" stroke-width="0.3">2.0</text>
<path d="M547.3 295.5V297.5" stroke="#1a1a1a" stroke-width="0.8"/>
<path d="M557.91 295.5V297.5" stroke="#1a1a1a" stroke-width="0.8"/>
<path d="M568.52 295.5V297.5" stroke="#1a1a1a" stroke-width="0.8"/>
<path d="M579.12 295.5V297.5" stroke="#1a1a1a" stroke-width="0.8"/>
<path d="M589.73 295.5V297.5" stroke="#1a1a1a" stroke-width="0.8"/>
<path d="M600.34 295.5V297.5" stroke="#1a1a1a" stroke-width="0.8"/>
<path d="M610.95 295.5V297.5" stroke="#1a1a1a" stroke-width="0.8"/>
<path d="M621.56 295.5V297.5" stroke="#1a1a1a" stroke-width="0.8"/>
<path d="M632.17 295.5V297.5" stroke="#1a1a1a" stroke-width="0.8"/>
<path d="M642.77 295.5V297.5" stroke="#1a1a1a" stroke-width="0.8"/>
<path d="M653.38 295.5V297.5" stroke="#1a1a1a" stroke-width="0.8"/>
<path d="M663.99 295.5V297.5" stroke="#1a1a1a" stroke-width="0.8"/>
<path d="M674.6 295.5V297.5" stroke="#1a1a1a" stroke-width="0.8"/>
<text x="548.5" y="305" text-anchor="middle" font-family='"Liberation Sans", sans-serif' font-weight="bold" font-size="7.5" fill="#111" stroke="#111" stroke-width="0.25">ZT0</text>
<text x="569.72" y="305" text-anchor="middle" font-family='"Liberation Sans", sans-serif' font-weight="bold" font-size="7.5" fill="#111" stroke="#111" stroke-width="0.25">ZT8</text>
<text x="590.93" y="305" text-anchor="middle" font-family='"Liberation Sans", sans-serif' font-weight="bold" font-size="7.5" fill="#111" stroke="#111" stroke-width="0.25">ZT16</text>
<text x="612.15" y="305" text-anchor="middle" font-family='"Liberation Sans", sans-serif' font-weight="bold" font-size="7.5" fill="#111" stroke="#111" stroke-width="0.25">ZT24</text>
<text x="633.37" y="305" text-anchor="middle" font-family='"Liberation Sans", sans-serif' font-weight="bold" font-size="7.5" fill="#111" stroke="#111" stroke-width="0.25">ZT32</text>
<text x="654.58" y="305" text-anchor="middle" font-family='"Liberation Sans", sans-serif' font-weight="bold" font-size="7.5" fill="#111" stroke="#111" stroke-width="0.25">ZT40</text>
<text x="675.8" y="305" text-anchor="middle" font-family='"Liberation Sans", sans-serif' font-weight="bold" font-size="7.5" fill="#111" stroke="#111" stroke-width="0.25">ZT48</text>
<path d="M546.8 257.38H679" stroke="#222" stroke-width="1.4" stroke-dasharray="4.1,3.95"/>
<polyline points="547.3,281.79 557.91,268.89 568.52,267.05 579.12,216.39 589.73,258.76 600.34,272.58 610.95,269.35 621.56,274.88 632.17,267.97 642.77,227.45 653.38,255.54 663.99,265.67 674.6,250.47" fill="none" stroke="#ff6414" stroke-width="1.85" stroke-linejoin="round"/>
<path d="M547.3 277.18V286.39" stroke="#ff6414" stroke-width="1.1" fill="none"/>
<path d="M544.8 277.18H549.8M544.8 286.39H549.8" stroke="#ff6414" stroke-width="1.5" fill="none"/>
<circle cx="547.3" cy="281.79" r="1.9" fill="#ff6414"/>
<path d="M557.91 266.49V271.29" stroke="#ff6414" stroke-width="1.1" fill="none"/>
<path d="M555.41 266.49H560.41M555.41 271.29H560.41" stroke="#ff6414" stroke-width="1.5" fill="none"/>
<circle cx="557.91" cy="268.89" r="1.9" fill="#ff6414"/>
<path d="M568.52 264.65V269.45" stroke="#ff6414" stroke-width="1.1" fill="none"/>
<path d="M566.02 264.65H571.02M566.02 269.45H571.02" stroke="#ff6414" stroke-width="1.5" fill="none"/>
<circle cx="568.52" cy="267.05" r="1.9" fill="#ff6414"/>
<path d="M579.12 213.63V219.16" stroke="#ff6414" stroke-width="1.1" fill="none"/>
<path d="M576.62 213.63H581.62M576.62 219.16H581.62" stroke="#ff6414" stroke-width="1.5" fill="none"/>
<circle cx="579.12" cy="216.39" r="1.9" fill="#ff6414"/>
<path d="M589.73 256.36V261.16" stroke="#ff6414" stroke-width="1.1" fill="none"/>
<path d="M587.23 256.36H592.23M587.23 261.16H592.23" stroke="#ff6414" stroke-width="1.5" fill="none"/>
<circle cx="589.73" cy="258.76" r="1.9" fill="#ff6414"/>
<path d="M600.34 270.18V274.98" stroke="#ff6414" stroke-width="1.1" fill="none"/>
<path d="M597.84 270.18H602.84M597.84 274.98H602.84" stroke="#ff6414" stroke-width="1.5" fill="none"/>
<circle cx="600.34" cy="272.58" r="1.9" fill="#ff6414"/>
<path d="M610.95 266.95V271.75" stroke="#ff6414" stroke-width="1.1" fill="none"/>
<path d="M608.45 266.95H613.45M608.45 271.75H613.45" stroke="#ff6414" stroke-width="1.5" fill="none"/>
<circle cx="610.95" cy="269.35" r="1.9" fill="#ff6414"/>
<path d="M621.56 272.48V277.28" stroke="#ff6414" stroke-width="1.1" fill="none"/>
<path d="M619.06 272.48H624.06M619.06 277.28H624.06" stroke="#ff6414" stroke-width="1.5" fill="none"/>
<circle cx="621.56" cy="274.88" r="1.9" fill="#ff6414"/>
<path d="M632.17 265.57V270.37" stroke="#ff6414" stroke-width="1.1" fill="none"/>
<path d="M629.67 265.57H634.67M629.67 270.37H634.67" stroke="#ff6414" stroke-width="1.5" fill="none"/>
<circle cx="632.17" cy="267.97" r="1.9" fill="#ff6414"/>
<path d="M642.77 224.68V230.21" stroke="#ff6414" stroke-width="1.1" fill="none"/>
<path d="M640.27 224.68H645.27M640.27 230.21H645.27" stroke="#ff6414" stroke-width="1.5" fill="none"/>
<circle cx="642.77" cy="227.45" r="1.9" fill="#ff6414"/>
<path d="M653.38 253.14V257.94" stroke="#ff6414" stroke-width="1.1" fill="none"/>
<path d="M650.88 253.14H655.88M650.88 257.94H655.88" stroke="#ff6414" stroke-width="1.5" fill="none"/>
<circle cx="653.38" cy="255.54" r="1.9" fill="#ff6414"/>
<path d="M663.99 263.27V268.07" stroke="#ff6414" stroke-width="1.1" fill="none"/>
<path d="M661.49 263.27H666.49M661.49 268.07H666.49" stroke="#ff6414" stroke-width="1.5" fill="none"/>
<circle cx="663.99" cy="265.67" r="1.9" fill="#ff6414"/>
<path d="M674.6 247.71V253.23" stroke="#ff6414" stroke-width="1.1" fill="none"/>
<path d="M672.1 247.71H677.1M672.1 253.23H677.1" stroke="#ff6414" stroke-width="1.5" fill="none"/>
<circle cx="674.6" cy="250.47" r="1.9" fill="#ff6414"/>
<polyline points="547.3,280.86 557.91,274.88 568.52,277.18 579.12,237.12 589.73,273.5 600.34,264.75 610.95,276.26 621.56,276.26 632.17,280.86 642.77,233.43 653.38,257.84 663.99,266.59 674.6,248.63" fill="none" stroke="#17996b" stroke-width="1.85" stroke-linejoin="round"/>
<path d="M547.3 278.46V283.26" stroke="#17996b" stroke-width="1.1" fill="none"/>
<path d="M544.8 278.46H549.8M544.8 283.26H549.8" stroke="#17996b" stroke-width="1.5" fill="none"/>
<rect x="545.4" y="278.96" width="3.8" height="3.8" fill="#17996b"/>
<path d="M557.91 272.11V277.64" stroke="#17996b" stroke-width="1.1" fill="none"/>
<path d="M555.41 272.11H560.41M555.41 277.64H560.41" stroke="#17996b" stroke-width="1.5" fill="none"/>
<rect x="556.01" y="272.98" width="3.8" height="3.8" fill="#17996b"/>
<path d="M568.52 272.57V281.79" stroke="#17996b" stroke-width="1.1" fill="none"/>
<path d="M566.02 272.57H571.02M566.02 281.79H571.02" stroke="#17996b" stroke-width="1.5" fill="none"/>
<rect x="566.62" y="275.28" width="3.8" height="3.8" fill="#17996b"/>
<path d="M579.12 234.72V239.52" stroke="#17996b" stroke-width="1.1" fill="none"/>
<path d="M576.62 234.72H581.62M576.62 239.52H581.62" stroke="#17996b" stroke-width="1.5" fill="none"/>
<rect x="577.23" y="235.22" width="3.8" height="3.8" fill="#17996b"/>
<path d="M589.73 268.89V278.1" stroke="#17996b" stroke-width="1.1" fill="none"/>
<path d="M587.23 268.89H592.23M587.23 278.1H592.23" stroke="#17996b" stroke-width="1.5" fill="none"/>
<rect x="587.83" y="271.6" width="3.8" height="3.8" fill="#17996b"/>
<path d="M600.34 260.14V269.35" stroke="#17996b" stroke-width="1.1" fill="none"/>
<path d="M597.84 260.14H602.84M597.84 269.35H602.84" stroke="#17996b" stroke-width="1.5" fill="none"/>
<rect x="598.44" y="262.85" width="3.8" height="3.8" fill="#17996b"/>
<path d="M610.95 273.86V278.66" stroke="#17996b" stroke-width="1.1" fill="none"/>
<path d="M608.45 273.86H613.45M608.45 278.66H613.45" stroke="#17996b" stroke-width="1.5" fill="none"/>
<rect x="609.05" y="274.36" width="3.8" height="3.8" fill="#17996b"/>
<path d="M621.56 272.57V279.94" stroke="#17996b" stroke-width="1.1" fill="none"/>
<path d="M619.06 272.57H624.06M619.06 279.94H624.06" stroke="#17996b" stroke-width="1.5" fill="none"/>
<rect x="619.66" y="274.36" width="3.8" height="3.8" fill="#17996b"/>
<path d="M632.17 278.1V283.63" stroke="#17996b" stroke-width="1.1" fill="none"/>
<path d="M629.67 278.1H634.67M629.67 283.63H634.67" stroke="#17996b" stroke-width="1.5" fill="none"/>
<rect x="630.27" y="278.96" width="3.8" height="3.8" fill="#17996b"/>
<path d="M642.77 228.83V238.04" stroke="#17996b" stroke-width="1.1" fill="none"/>
<path d="M640.27 228.83H645.27M640.27 238.04H645.27" stroke="#17996b" stroke-width="1.5" fill="none"/>
<rect x="640.88" y="231.53" width="3.8" height="3.8" fill="#17996b"/>
<path d="M653.38 255.44V260.24" stroke="#17996b" stroke-width="1.1" fill="none"/>
<path d="M650.88 255.44H655.88M650.88 260.24H655.88" stroke="#17996b" stroke-width="1.5" fill="none"/>
<rect x="651.48" y="255.94" width="3.8" height="3.8" fill="#17996b"/>
<path d="M663.99 264.19V268.99" stroke="#17996b" stroke-width="1.1" fill="none"/>
<path d="M661.49 264.19H666.49M661.49 268.99H666.49" stroke="#17996b" stroke-width="1.5" fill="none"/>
<rect x="662.09" y="264.69" width="3.8" height="3.8" fill="#17996b"/>
<path d="M674.6 243.1V254.16" stroke="#17996b" stroke-width="1.1" fill="none"/>
<path d="M672.1 243.1H677.1M672.1 254.16H677.1" stroke="#17996b" stroke-width="1.5" fill="none"/>
<rect x="672.7" y="246.73" width="3.8" height="3.8" fill="#17996b"/>
<text transform="translate(37,387.5) rotate(-90)" text-anchor="middle" font-family='"Liberation Serif", serif' font-size="14" fill="#222">Relative mRNA level</text>
<text transform="translate(14.6,384) rotate(-90)" text-anchor="middle" font-family='"Liberation Sans", sans-serif' font-style="italic" font-size="16" fill="#111">nr1d1</text>
<path d="M51.5 345.7V438.5H191" fill="none" stroke="#1a1a1a" stroke-width="1"/>
<path d="M49.1 438.2H51.1" stroke="#1a1a1a" stroke-width="0.8"/>
<text x="48" y="442.1" text-anchor="end" font-family='"Liberation Sans", sans-serif' font-weight="bold" font-size="8.3" fill="#111" stroke="#111" stroke-width="0.3">0</text>
<path d="M49.1 415.07H51.1" stroke="#1a1a1a" stroke-width="0.8"/>
<text x="48" y="418.97" text-anchor="end" font-family='"Liberation Sans", sans-serif' font-weight="bold" font-size="8.3" fill="#111" stroke="#111" stroke-width="0.3">5</text>
<path d="M49.1 391.95H51.1" stroke="#1a1a1a" stroke-width="0.8"/>
<text x="48" y="395.85" text-anchor="end" font-family='"Liberation Sans", sans-serif' font-weight="bold" font-size="8.3" fill="#111" stroke="#111" stroke-width="0.3">10</text>
<path d="M49.1 368.82H51.1" stroke="#1a1a1a" stroke-width="0.8"/>
<text x="48" y="372.72" text-anchor="end" font-family='"Liberation Sans", sans-serif' font-weight="bold" font-size="8.3" fill="#111" stroke="#111" stroke-width="0.3">15</text>
<path d="M49.1 345.7H51.1" stroke="#1a1a1a" stroke-width="0.8"/>
<text x="48" y="349.6" text-anchor="end" font-family='"Liberation Sans", sans-serif' font-weight="bold" font-size="8.3" fill="#111" stroke="#111" stroke-width="0.3">20</text>
<path d="M57 438.5V440.5" stroke="#1a1a1a" stroke-width="0.8"/>
<path d="M67.58 438.5V440.5" stroke="#1a1a1a" stroke-width="0.8"/>
<path d="M78.17 438.5V440.5" stroke="#1a1a1a" stroke-width="0.8"/>
<path d="M88.75 438.5V440.5" stroke="#1a1a1a" stroke-width="0.8"/>
<path d="M99.33 438.5V440.5" stroke="#1a1a1a" stroke-width="0.8"/>
<path d="M109.92 438.5V440.5" stroke="#1a1a1a" stroke-width="0.8"/>
<path d="M120.5 438.5V440.5" stroke="#1a1a1a" stroke-width="0.8"/>
<path d="M131.08 438.5V440.5" stroke="#1a1a1a" stroke-width="0.8"/>
<path d="M141.67 438.5V440.5" stroke="#1a1a1a" stroke-width="0.8"/>
<path d="M152.25 438.5V440.5" stroke="#1a1a1a" stroke-width="0.8"/>
<path d="M162.83 438.5V440.5" stroke="#1a1a1a" stroke-width="0.8"/>
<path d="M173.42 438.5V440.5" stroke="#1a1a1a" stroke-width="0.8"/>
<path d="M184 438.5V440.5" stroke="#1a1a1a" stroke-width="0.8"/>
<text x="58.2" y="447.6" text-anchor="middle" font-family='"Liberation Sans", sans-serif' font-weight="bold" font-size="7.5" fill="#111" stroke="#111" stroke-width="0.25">ZT0</text>
<text x="79.37" y="447.6" text-anchor="middle" font-family='"Liberation Sans", sans-serif' font-weight="bold" font-size="7.5" fill="#111" stroke="#111" stroke-width="0.25">ZT8</text>
<text x="100.53" y="447.6" text-anchor="middle" font-family='"Liberation Sans", sans-serif' font-weight="bold" font-size="7.5" fill="#111" stroke="#111" stroke-width="0.25">ZT16</text>
<text x="121.7" y="447.6" text-anchor="middle" font-family='"Liberation Sans", sans-serif' font-weight="bold" font-size="7.5" fill="#111" stroke="#111" stroke-width="0.25">ZT24</text>
<text x="142.87" y="447.6" text-anchor="middle" font-family='"Liberation Sans", sans-serif' font-weight="bold" font-size="7.5" fill="#111" stroke="#111" stroke-width="0.25">ZT32</text>
<text x="164.03" y="447.6" text-anchor="middle" font-family='"Liberation Sans", sans-serif' font-weight="bold" font-size="7.5" fill="#111" stroke="#111" stroke-width="0.25">ZT40</text>
<text x="185.2" y="447.6" text-anchor="middle" font-family='"Liberation Sans", sans-serif' font-weight="bold" font-size="7.5" fill="#111" stroke="#111" stroke-width="0.25">ZT48</text>
<path d="M56.5 427.56H190" stroke="#222" stroke-width="1.4" stroke-dasharray="4.1,3.95"/>
<polyline points="57,432.65 67.58,428.95 78.17,432.65 88.75,429.88 99.33,432.19 109.92,419.7 120.5,431.26 131.08,433.57 141.67,428.02 152.25,427.56 162.83,423.4 173.42,418.31 184,428.02" fill="none" stroke="#ff6414" stroke-width="1.85" stroke-linejoin="round"/>
<path d="M57 430.45V434.85" stroke="#ff6414" stroke-width="1.1" fill="none"/>
<path d="M54.5 430.45H59.5M54.5 434.85H59.5" stroke="#ff6414" stroke-width="1.5" fill="none"/>
<circle cx="57" cy="432.65" r="1.9" fill="#ff6414"/>
<path d="M67.58 426.75V431.15" stroke="#ff6414" stroke-width="1.1" fill="none"/>
<path d="M65.08 426.75H70.08M65.08 431.15H70.08" stroke="#ff6414" stroke-width="1.5" fill="none"/>
<circle cx="67.58" cy="428.95" r="1.9" fill="#ff6414"/>
<path d="M78.17 429.88V435.42" stroke="#ff6414" stroke-width="1.1" fill="none"/>
<path d="M75.67 429.88H80.67M75.67 435.42H80.67" stroke="#ff6414" stroke-width="1.5" fill="none"/>
<circle cx="78.17" cy="432.65" r="1.9" fill="#ff6414"/>
<path d="M88.75 427.68V432.07" stroke="#ff6414" stroke-width="1.1" fill="none"/>
<path d="M86.25 427.68H91.25M86.25 432.07H91.25" stroke="#ff6414" stroke-width="1.5" fill="none"/>
<circle cx="88.75" cy="429.88" r="1.9" fill="#ff6414"/>
<path d="M99.33 428.95V435.43" stroke="#ff6414" stroke-width="1.1" fill="none"/>
<path d="M96.83 428.95H101.83M96.83 435.43H101.83" stroke="#ff6414" stroke-width="1.5" fill="none"/>
<circle cx="99.33" cy="432.19" r="1.9" fill="#ff6414"/>
<path d="M109.92 416.46V422.94" stroke="#ff6414" stroke-width="1.1" fill="none"/>
<path d="M107.42 416.46H112.42M107.42 422.94H112.42" stroke="#ff6414" stroke-width="1.5" fill="none"/>
<circle cx="109.92" cy="419.7" r="1.9" fill="#ff6414"/>
<path d="M120.5 429.06V433.46" stroke="#ff6414" stroke-width="1.1" fill="none"/>
<path d="M118 429.06H123M118 433.46H123" stroke="#ff6414" stroke-width="1.5" fill="none"/>
<circle cx="120.5" cy="431.26" r="1.9" fill="#ff6414"/>
<path d="M131.08 431.38V435.77" stroke="#ff6414" stroke-width="1.1" fill="none"/>
<path d="M128.58 431.38H133.58M128.58 435.77H133.58" stroke="#ff6414" stroke-width="1.5" fill="none"/>
<circle cx="131.08" cy="433.57" r="1.9" fill="#ff6414"/>
<path d="M141.67 425.82V430.22" stroke="#ff6414" stroke-width="1.1" fill="none"/>
<path d="M139.17 425.82H144.17M139.17 430.22H144.17" stroke="#ff6414" stroke-width="1.5" fill="none"/>
<circle cx="141.67" cy="428.02" r="1.9" fill="#ff6414"/>
<path d="M152.25 425.36V429.76" stroke="#ff6414" stroke-width="1.1" fill="none"/>
<path d="M149.75 425.36H154.75M149.75 429.76H154.75" stroke="#ff6414" stroke-width="1.5" fill="none"/>
<circle cx="152.25" cy="427.56" r="1.9" fill="#ff6414"/>
<path d="M162.83 421.2V425.6" stroke="#ff6414" stroke-width="1.1" fill="none"/>
<path d="M160.33 421.2H165.33M160.33 425.6H165.33" stroke="#ff6414" stroke-width="1.5" fill="none"/>
<circle cx="162.83" cy="423.4" r="1.9" fill="#ff6414"/>
<path d="M173.42 416.11V420.51" stroke="#ff6414" stroke-width="1.1" fill="none"/>
<path d="M170.92 416.11H175.92M170.92 420.51H175.92" stroke="#ff6414" stroke-width="1.5" fill="none"/>
<circle cx="173.42" cy="418.31" r="1.9" fill="#ff6414"/>
<path d="M184 425.82V430.22" stroke="#ff6414" stroke-width="1.1" fill="none"/>
<path d="M181.5 425.82H186.5M181.5 430.22H186.5" stroke="#ff6414" stroke-width="1.5" fill="none"/>
<circle cx="184" cy="428.02" r="1.9" fill="#ff6414"/>
<polyline points="57,431.26 67.58,436.81 78.17,431.26 88.75,428.95 99.33,428.02 109.92,422.01 120.5,431.26 131.08,433.57 141.67,426.64 152.25,428.02 162.83,425.25 173.42,418.77 184,428.95" fill="none" stroke="#17996b" stroke-width="1.85" stroke-linejoin="round"/>
<path d="M57 429.06V433.46" stroke="#17996b" stroke-width="1.1" fill="none"/>
<path d="M54.5 429.06H59.5M54.5 433.46H59.5" stroke="#17996b" stroke-width="1.5" fill="none"/>
<rect x="55.1" y="429.36" width="3.8" height="3.8" fill="#17996b"/>
<path d="M67.58 434.61V439.01" stroke="#17996b" stroke-width="1.1" fill="none"/>
<path d="M65.08 434.61H70.08M65.08 439.01H70.08" stroke="#17996b" stroke-width="1.5" fill="none"/>
<rect x="65.68" y="434.91" width="3.8" height="3.8" fill="#17996b"/>
<path d="M78.17 429.06V433.46" stroke="#17996b" stroke-width="1.1" fill="none"/>
<path d="M75.67 429.06H80.67M75.67 433.46H80.67" stroke="#17996b" stroke-width="1.5" fill="none"/>
<rect x="76.27" y="429.36" width="3.8" height="3.8" fill="#17996b"/>
<path d="M88.75 426.75V431.15" stroke="#17996b" stroke-width="1.1" fill="none"/>
<path d="M86.25 426.75H91.25M86.25 431.15H91.25" stroke="#17996b" stroke-width="1.5" fill="none"/>
<rect x="86.85" y="427.05" width="3.8" height="3.8" fill="#17996b"/>
<path d="M99.33 425.82V430.22" stroke="#17996b" stroke-width="1.1" fill="none"/>
<path d="M96.83 425.82H101.83M96.83 430.22H101.83" stroke="#17996b" stroke-width="1.5" fill="none"/>
<rect x="97.43" y="426.12" width="3.8" height="3.8" fill="#17996b"/>
<path d="M109.92 419.81V424.21" stroke="#17996b" stroke-width="1.1" fill="none"/>
<path d="M107.42 419.81H112.42M107.42 424.21H112.42" stroke="#17996b" stroke-width="1.5" fill="none"/>
<rect x="108.02" y="420.11" width="3.8" height="3.8" fill="#17996b"/>
<path d="M120.5 429.06V433.46" stroke="#17996b" stroke-width="1.1" fill="none"/>
<path d="M118 429.06H123M118 433.46H123" stroke="#17996b" stroke-width="1.5" fill="none"/>
<rect x="118.6" y="429.36" width="3.8" height="3.8" fill="#17996b"/>
<path d="M131.08 431.38V435.77" stroke="#17996b" stroke-width="1.1" fill="none"/>
<path d="M128.58 431.38H133.58M128.58 435.77H133.58" stroke="#17996b" stroke-width="1.5" fill="none"/>
<rect x="129.18" y="431.68" width="3.8" height="3.8" fill="#17996b"/>
<path d="M141.67 422.01V431.26" stroke="#17996b" stroke-width="1.1" fill="none"/>
<path d="M139.17 422.01H144.17M139.17 431.26H144.17" stroke="#17996b" stroke-width="1.5" fill="none"/>
<rect x="139.77" y="424.74" width="3.8" height="3.8" fill="#17996b"/>
<path d="M152.25 425.82V430.22" stroke="#17996b" stroke-width="1.1" fill="none"/>
<path d="M149.75 425.82H154.75M149.75 430.22H154.75" stroke="#17996b" stroke-width="1.5" fill="none"/>
<rect x="150.35" y="426.12" width="3.8" height="3.8" fill="#17996b"/>
<path d="M162.83 420.62V429.88" stroke="#17996b" stroke-width="1.1" fill="none"/>
<path d="M160.33 420.62H165.33M160.33 429.88H165.33" stroke="#17996b" stroke-width="1.5" fill="none"/>
<rect x="160.93" y="423.35" width="3.8" height="3.8" fill="#17996b"/>
<path d="M173.42 415.07V422.47" stroke="#17996b" stroke-width="1.1" fill="none"/>
<path d="M170.92 415.07H175.92M170.92 422.47H175.92" stroke="#17996b" stroke-width="1.5" fill="none"/>
<rect x="171.52" y="416.88" width="3.8" height="3.8" fill="#17996b"/>
<path d="M184 426.75V431.15" stroke="#17996b" stroke-width="1.1" fill="none"/>
<path d="M181.5 426.75H186.5M181.5 431.15H186.5" stroke="#17996b" stroke-width="1.5" fill="none"/>
<rect x="182.1" y="427.05" width="3.8" height="3.8" fill="#17996b"/>
<path d="M212.5 346V438.5H352.6" fill="none" stroke="#1a1a1a" stroke-width="1"/>
<path d="M210.8 438.6H212.8" stroke="#1a1a1a" stroke-width="0.8"/>
<text x="209.7" y="442.5" text-anchor="end" font-family='"Liberation Sans", sans-serif' font-weight="bold" font-size="8.3" fill="#111" stroke="#111" stroke-width="0.3">0</text>
<path d="M210.8 415.45H212.8" stroke="#1a1a1a" stroke-width="0.8"/>
<text x="209.7" y="419.35" text-anchor="end" font-family='"Liberation Sans", sans-serif' font-weight="bold" font-size="8.3" fill="#111" stroke="#111" stroke-width="0.3">5</text>
<path d="M210.8 392.3H212.8" stroke="#1a1a1a" stroke-width="0.8"/>
<text x="209.7" y="396.2" text-anchor="end" font-family='"Liberation Sans", sans-serif' font-weight="bold" font-size="8.3" fill="#111" stroke="#111" stroke-width="0.3">10</text>
<path d="M210.8 369.15H212.8" stroke="#1a1a1a" stroke-width="0.8"/>
<text x="209.7" y="373.05" text-anchor="end" font-family='"Liberation Sans", sans-serif' font-weight="bold" font-size="8.3" fill="#111" stroke="#111" stroke-width="0.3">15</text>
<path d="M210.8 346H212.8" stroke="#1a1a1a" stroke-width="0.8"/>
<text x="209.7" y="349.9" text-anchor="end" font-family='"Liberation Sans", sans-serif' font-weight="bold" font-size="8.3" fill="#111" stroke="#111" stroke-width="0.3">20</text>
<path d="M217.8 438.5V440.5" stroke="#1a1a1a" stroke-width="0.8"/>
<path d="M228.56 438.5V440.5" stroke="#1a1a1a" stroke-width="0.8"/>
<path d="M239.32 438.5V440.5" stroke="#1a1a1a" stroke-width="0.8"/>
<path d="M250.07 438.5V440.5" stroke="#1a1a1a" stroke-width="0.8"/>
<path d="M260.83 438.5V440.5" stroke="#1a1a1a" stroke-width="0.8"/>
<path d="M271.59 438.5V440.5" stroke="#1a1a1a" stroke-width="0.8"/>
<path d="M282.35 438.5V440.5" stroke="#1a1a1a" stroke-width="0.8"/>
<path d="M293.11 438.5V440.5" stroke="#1a1a1a" stroke-width="0.8"/>
<path d="M303.87 438.5V440.5" stroke="#1a1a1a" stroke-width="0.8"/>
<path d="M314.62 438.5V440.5" stroke="#1a1a1a" stroke-width="0.8"/>
<path d="M325.38 438.5V440.5" stroke="#1a1a1a" stroke-width="0.8"/>
<path d="M336.14 438.5V440.5" stroke="#1a1a1a" stroke-width="0.8"/>
<path d="M346.9 438.5V440.5" stroke="#1a1a1a" stroke-width="0.8"/>
<text x="219" y="448" text-anchor="middle" font-family='"Liberation Sans", sans-serif' font-weight="bold" font-size="7.5" fill="#111" stroke="#111" stroke-width="0.25">ZT0</text>
<text x="240.52" y="448" text-anchor="middle" font-family='"Liberation Sans", sans-serif' font-weight="bold" font-size="7.5" fill="#111" stroke="#111" stroke-width="0.25">ZT8</text>
<text x="262.03" y="448" text-anchor="middle" font-family='"Liberation Sans", sans-serif' font-weight="bold" font-size="7.5" fill="#111" stroke="#111" stroke-width="0.25">ZT16</text>
<text x="283.55" y="448" text-anchor="middle" font-family='"Liberation Sans", sans-serif' font-weight="bold" font-size="7.5" fill="#111" stroke="#111" stroke-width="0.25">ZT24</text>
<text x="305.07" y="448" text-anchor="middle" font-family='"Liberation Sans", sans-serif' font-weight="bold" font-size="7.5" fill="#111" stroke="#111" stroke-width="0.25">ZT32</text>
<text x="326.58" y="448" text-anchor="middle" font-family='"Liberation Sans", sans-serif' font-weight="bold" font-size="7.5" fill="#111" stroke="#111" stroke-width="0.25">ZT40</text>
<text x="348.1" y="448" text-anchor="middle" font-family='"Liberation Sans", sans-serif' font-weight="bold" font-size="7.5" fill="#111" stroke="#111" stroke-width="0.25">ZT48</text>
<path d="M217.3 406.19H351.6" stroke="#222" stroke-width="1.4" stroke-dasharray="4.1,3.95"/>
<polyline points="217.8,433.97 228.56,420.08 239.32,426.1 250.07,427.95 260.83,413.13 271.59,371.47 282.35,423.78 293.11,417.77 303.87,423.78 314.62,413.13 325.38,396.93 336.14,381.65 346.9,406.19" fill="none" stroke="#ff6414" stroke-width="1.85" stroke-linejoin="round"/>
<path d="M217.8 431.77V436.17" stroke="#ff6414" stroke-width="1.1" fill="none"/>
<path d="M215.3 431.77H220.3M215.3 436.17H220.3" stroke="#ff6414" stroke-width="1.5" fill="none"/>
<circle cx="217.8" cy="433.97" r="1.9" fill="#ff6414"/>
<path d="M228.56 417.3V422.86" stroke="#ff6414" stroke-width="1.1" fill="none"/>
<path d="M226.06 417.3H231.06M226.06 422.86H231.06" stroke="#ff6414" stroke-width="1.5" fill="none"/>
<circle cx="228.56" cy="420.08" r="1.9" fill="#ff6414"/>
<path d="M239.32 423.9V428.3" stroke="#ff6414" stroke-width="1.1" fill="none"/>
<path d="M236.82 423.9H241.82M236.82 428.3H241.82" stroke="#ff6414" stroke-width="1.5" fill="none"/>
<circle cx="239.32" cy="426.1" r="1.9" fill="#ff6414"/>
<path d="M250.07 425.75V430.15" stroke="#ff6414" stroke-width="1.1" fill="none"/>
<path d="M247.57 425.75H252.57M247.57 430.15H252.57" stroke="#ff6414" stroke-width="1.5" fill="none"/>
<circle cx="250.07" cy="427.95" r="1.9" fill="#ff6414"/>
<path d="M260.83 410.94V415.33" stroke="#ff6414" stroke-width="1.1" fill="none"/>
<path d="M258.33 410.94H263.33M258.33 415.33H263.33" stroke="#ff6414" stroke-width="1.5" fill="none"/>
<circle cx="260.83" cy="413.13" r="1.9" fill="#ff6414"/>
<path d="M271.59 363.13V379.8" stroke="#ff6414" stroke-width="1.1" fill="none"/>
<path d="M269.09 363.13H274.09M269.09 379.8H274.09" stroke="#ff6414" stroke-width="1.5" fill="none"/>
<circle cx="271.59" cy="371.47" r="1.9" fill="#ff6414"/>
<path d="M282.35 419.15V428.41" stroke="#ff6414" stroke-width="1.1" fill="none"/>
<path d="M279.85 419.15H284.85M279.85 428.41H284.85" stroke="#ff6414" stroke-width="1.5" fill="none"/>
<circle cx="282.35" cy="423.78" r="1.9" fill="#ff6414"/>
<path d="M293.11 414.06V421.47" stroke="#ff6414" stroke-width="1.1" fill="none"/>
<path d="M290.61 414.06H295.61M290.61 421.47H295.61" stroke="#ff6414" stroke-width="1.5" fill="none"/>
<circle cx="293.11" cy="417.77" r="1.9" fill="#ff6414"/>
<path d="M303.87 420.08V427.49" stroke="#ff6414" stroke-width="1.1" fill="none"/>
<path d="M301.37 420.08H306.37M301.37 427.49H306.37" stroke="#ff6414" stroke-width="1.5" fill="none"/>
<circle cx="303.87" cy="423.78" r="1.9" fill="#ff6414"/>
<path d="M314.62 410.94V415.33" stroke="#ff6414" stroke-width="1.1" fill="none"/>
<path d="M312.12 410.94H317.12M312.12 415.33H317.12" stroke="#ff6414" stroke-width="1.5" fill="none"/>
<circle cx="314.62" cy="413.13" r="1.9" fill="#ff6414"/>
<path d="M325.38 393.23V400.63" stroke="#ff6414" stroke-width="1.1" fill="none"/>
<path d="M322.88 393.23H327.88M322.88 400.63H327.88" stroke="#ff6414" stroke-width="1.5" fill="none"/>
<circle cx="325.38" cy="396.93" r="1.9" fill="#ff6414"/>
<path d="M336.14 379.45V383.85" stroke="#ff6414" stroke-width="1.1" fill="none"/>
<path d="M333.64 379.45H338.64M333.64 383.85H338.64" stroke="#ff6414" stroke-width="1.5" fill="none"/>
<circle cx="336.14" cy="381.65" r="1.9" fill="#ff6414"/>
<path d="M346.9 403.41V408.97" stroke="#ff6414" stroke-width="1.1" fill="none"/>
<path d="M344.4 403.41H349.4M344.4 408.97H349.4" stroke="#ff6414" stroke-width="1.5" fill="none"/>
<circle cx="346.9" cy="406.19" r="1.9" fill="#ff6414"/>
<polyline points="217.8,431.66 228.56,423.78 239.32,429.34 250.07,425.64 260.83,408.5 271.59,383.04 282.35,422.4 293.11,409.89 303.87,423.32 314.62,411.75 325.38,386.74 336.14,380.73 346.9,417.77" fill="none" stroke="#17996b" stroke-width="1.85" stroke-linejoin="round"/>
<path d="M217.8 429.46V433.86" stroke="#17996b" stroke-width="1.1" fill="none"/>
<path d="M215.3 429.46H220.3M215.3 433.86H220.3" stroke="#17996b" stroke-width="1.5" fill="none"/>
<rect x="215.9" y="429.76" width="3.8" height="3.8" fill="#17996b"/>
<path d="M228.56 421.58V425.98" stroke="#17996b" stroke-width="1.1" fill="none"/>
<path d="M226.06 421.58H231.06M226.06 425.98H231.06" stroke="#17996b" stroke-width="1.5" fill="none"/>
<rect x="226.66" y="421.88" width="3.8" height="3.8" fill="#17996b"/>
<path d="M239.32 427.14V431.54" stroke="#17996b" stroke-width="1.1" fill="none"/>
<path d="M236.82 427.14H241.82M236.82 431.54H241.82" stroke="#17996b" stroke-width="1.5" fill="none"/>
<rect x="237.42" y="427.44" width="3.8" height="3.8" fill="#17996b"/>
<path d="M250.07 423.44V427.84" stroke="#17996b" stroke-width="1.1" fill="none"/>
<path d="M247.57 423.44H252.57M247.57 427.84H252.57" stroke="#17996b" stroke-width="1.5" fill="none"/>
<rect x="248.17" y="423.74" width="3.8" height="3.8" fill="#17996b"/>
<path d="M260.83 406.31V410.7" stroke="#17996b" stroke-width="1.1" fill="none"/>
<path d="M258.33 406.31H263.33M258.33 410.7H263.33" stroke="#17996b" stroke-width="1.5" fill="none"/>
<rect x="258.93" y="406.61" width="3.8" height="3.8" fill="#17996b"/>
<path d="M271.59 380.84V385.24" stroke="#17996b" stroke-width="1.1" fill="none"/>
<path d="M269.09 380.84H274.09M269.09 385.24H274.09" stroke="#17996b" stroke-width="1.5" fill="none"/>
<rect x="269.69" y="381.14" width="3.8" height="3.8" fill="#17996b"/>
<path d="M282.35 419.62V425.17" stroke="#17996b" stroke-width="1.1" fill="none"/>
<path d="M279.85 419.62H284.85M279.85 425.17H284.85" stroke="#17996b" stroke-width="1.5" fill="none"/>
<rect x="280.45" y="420.5" width="3.8" height="3.8" fill="#17996b"/>
<path d="M293.11 406.19V413.6" stroke="#17996b" stroke-width="1.1" fill="none"/>
<path d="M290.61 406.19H295.61M290.61 413.6H295.61" stroke="#17996b" stroke-width="1.5" fill="none"/>
<rect x="291.21" y="407.99" width="3.8" height="3.8" fill="#17996b"/>
<path d="M303.87 421.12V425.52" stroke="#17996b" stroke-width="1.1" fill="none"/>
<path d="M301.37 421.12H306.37M301.37 425.52H306.37" stroke="#17996b" stroke-width="1.5" fill="none"/>
<rect x="301.97" y="421.42" width="3.8" height="3.8" fill="#17996b"/>
<path d="M314.62 409.55V413.95" stroke="#17996b" stroke-width="1.1" fill="none"/>
<path d="M312.12 409.55H317.12M312.12 413.95H317.12" stroke="#17996b" stroke-width="1.5" fill="none"/>
<rect x="312.73" y="409.85" width="3.8" height="3.8" fill="#17996b"/>
<path d="M325.38 384.54V388.94" stroke="#17996b" stroke-width="1.1" fill="none"/>
<path d="M322.88 384.54H327.88M322.88 388.94H327.88" stroke="#17996b" stroke-width="1.5" fill="none"/>
<rect x="323.48" y="384.84" width="3.8" height="3.8" fill="#17996b"/>
<path d="M336.14 376.1V385.36" stroke="#17996b" stroke-width="1.1" fill="none"/>
<path d="M333.64 376.1H338.64M333.64 385.36H338.64" stroke="#17996b" stroke-width="1.5" fill="none"/>
<rect x="334.24" y="378.83" width="3.8" height="3.8" fill="#17996b"/>
<path d="M346.9 414.06V421.47" stroke="#17996b" stroke-width="1.1" fill="none"/>
<path d="M344.4 414.06H349.4M344.4 421.47H349.4" stroke="#17996b" stroke-width="1.5" fill="none"/>
<rect x="345" y="415.87" width="3.8" height="3.8" fill="#17996b"/>
<path d="M374.5 344.8V438.5H516" fill="none" stroke="#1a1a1a" stroke-width="1"/>
<path d="M372 438.6H374" stroke="#1a1a1a" stroke-width="0.8"/>
<text x="370.9" y="442.5" text-anchor="end" font-family='"Liberation Sans", sans-serif' font-weight="bold" font-size="8.3" fill="#111" stroke="#111" stroke-width="0.3">0</text>
<path d="M372 415.15H374" stroke="#1a1a1a" stroke-width="0.8"/>
<text x="370.9" y="419.05" text-anchor="end" font-family='"Liberation Sans", sans-serif' font-weight="bold" font-size="8.3" fill="#111" stroke="#111" stroke-width="0.3">5</text>
<path d="M372 391.7H374" stroke="#1a1a1a" stroke-width="0.8"/>
<text x="370.9" y="395.6" text-anchor="end" font-family='"Liberation Sans", sans-serif' font-weight="bold" font-size="8.3" fill="#111" stroke="#111" stroke-width="0.3">10</text>
<path d="M372 368.25H374" stroke="#1a1a1a" stroke-width="0.8"/>
<text x="370.9" y="372.15" text-anchor="end" font-family='"Liberation Sans", sans-serif' font-weight="bold" font-size="8.3" fill="#111" stroke="#111" stroke-width="0.3">15</text>
<path d="M372 344.8H374" stroke="#1a1a1a" stroke-width="0.8"/>
<text x="370.9" y="348.7" text-anchor="end" font-family='"Liberation Sans", sans-serif' font-weight="bold" font-size="8.3" fill="#111" stroke="#111" stroke-width="0.3">20</text>
<path d="M379.3 438.5V440.5" stroke="#1a1a1a" stroke-width="0.8"/>
<path d="M390.19 438.5V440.5" stroke="#1a1a1a" stroke-width="0.8"/>
<path d="M401.08 438.5V440.5" stroke="#1a1a1a" stroke-width="0.8"/>
<path d="M411.98 438.5V440.5" stroke="#1a1a1a" stroke-width="0.8"/>
<path d="M422.87 438.5V440.5" stroke="#1a1a1a" stroke-width="0.8"/>
<path d="M433.76 438.5V440.5" stroke="#1a1a1a" stroke-width="0.8"/>
<path d="M444.65 438.5V440.5" stroke="#1a1a1a" stroke-width="0.8"/>
<path d="M455.54 438.5V440.5" stroke="#1a1a1a" stroke-width="0.8"/>
<path d="M466.43 438.5V440.5" stroke="#1a1a1a" stroke-width="0.8"/>
<path d="M477.32 438.5V440.5" stroke="#1a1a1a" stroke-width="0.8"/>
<path d="M488.22 438.5V440.5" stroke="#1a1a1a" stroke-width="0.8"/>
<path d="M499.11 438.5V440.5" stroke="#1a1a1a" stroke-width="0.8"/>
<path d="M510 438.5V440.5" stroke="#1a1a1a" stroke-width="0.8"/>
<text x="380.5" y="448" text-anchor="middle" font-family='"Liberation Sans", sans-serif' font-weight="bold" font-size="7.5" fill="#111" stroke="#111" stroke-width="0.25">ZT0</text>
<text x="402.28" y="448" text-anchor="middle" font-family='"Liberation Sans", sans-serif' font-weight="bold" font-size="7.5" fill="#111" stroke="#111" stroke-width="0.25">ZT8</text>
<text x="424.07" y="448" text-anchor="middle" font-family='"Liberation Sans", sans-serif' font-weight="bold" font-size="7.5" fill="#111" stroke="#111" stroke-width="0.25">ZT16</text>
<text x="445.85" y="448" text-anchor="middle" font-family='"Liberation Sans", sans-serif' font-weight="bold" font-size="7.5" fill="#111" stroke="#111" stroke-width="0.25">ZT24</text>
<text x="467.63" y="448" text-anchor="middle" font-family='"Liberation Sans", sans-serif' font-weight="bold" font-size="7.5" fill="#111" stroke="#111" stroke-width="0.25">ZT32</text>
<text x="489.42" y="448" text-anchor="middle" font-family='"Liberation Sans", sans-serif' font-weight="bold" font-size="7.5" fill="#111" stroke="#111" stroke-width="0.25">ZT40</text>
<text x="511.2" y="448" text-anchor="middle" font-family='"Liberation Sans", sans-serif' font-weight="bold" font-size="7.5" fill="#111" stroke="#111" stroke-width="0.25">ZT48</text>
<path d="M378.8 428.75H515" stroke="#222" stroke-width="1.4" stroke-dasharray="4.1,3.95"/>
<polyline points="379.3,433.91 390.19,428.28 401.08,418.9 411.98,423.59 422.87,418.9 433.76,416.56 444.65,432.97 455.54,427.81 466.43,433.44 477.32,422.19 488.22,431.56 499.11,417.03 510,428.75" fill="none" stroke="#ff6414" stroke-width="1.85" stroke-linejoin="round"/>
<circle cx="379.3" cy="433.91" r="1.9" fill="#ff6414"/>
<circle cx="390.19" cy="428.28" r="1.9" fill="#ff6414"/>
<circle cx="401.08" cy="418.9" r="1.9" fill="#ff6414"/>
<circle cx="411.98" cy="423.59" r="1.9" fill="#ff6414"/>
<circle cx="422.87" cy="418.9" r="1.9" fill="#ff6414"/>
<circle cx="433.76" cy="416.56" r="1.9" fill="#ff6414"/>
<circle cx="444.65" cy="432.97" r="1.9" fill="#ff6414"/>
<circle cx="455.54" cy="427.81" r="1.9" fill="#ff6414"/>
<circle cx="466.43" cy="433.44" r="1.9" fill="#ff6414"/>
<circle cx="477.32" cy="422.19" r="1.9" fill="#ff6414"/>
<circle cx="488.22" cy="431.56" r="1.9" fill="#ff6414"/>
<circle cx="499.11" cy="417.03" r="1.9" fill="#ff6414"/>
<circle cx="510" cy="428.75" r="1.9" fill="#ff6414"/>
<polyline points="379.3,429.22 390.19,435.79 401.08,436.25 411.98,434.85 422.87,433.91 433.76,421.72 444.65,433.44 455.54,434.38 466.43,430.16 477.32,430.63 488.22,427.81 499.11,414.68 510,433.91" fill="none" stroke="#17996b" stroke-width="1.85" stroke-linejoin="round"/>
<rect x="377.4" y="427.32" width="3.8" height="3.8" fill="#17996b"/>
<rect x="388.29" y="433.89" width="3.8" height="3.8" fill="#17996b"/>
<rect x="399.18" y="434.36" width="3.8" height="3.8" fill="#17996b"/>
<rect x="410.08" y="432.95" width="3.8" height="3.8" fill="#17996b"/>
<rect x="420.97" y="432.01" width="3.8" height="3.8" fill="#17996b"/>
<rect x="431.86" y="419.82" width="3.8" height="3.8" fill="#17996b"/>
<rect x="442.75" y="431.54" width="3.8" height="3.8" fill="#17996b"/>
<rect x="453.64" y="432.48" width="3.8" height="3.8" fill="#17996b"/>
<rect x="464.53" y="428.26" width="3.8" height="3.8" fill="#17996b"/>
<rect x="475.43" y="428.73" width="3.8" height="3.8" fill="#17996b"/>
<rect x="486.32" y="425.91" width="3.8" height="3.8" fill="#17996b"/>
<rect x="497.21" y="412.78" width="3.8" height="3.8" fill="#17996b"/>
<rect x="508.1" y="432.01" width="3.8" height="3.8" fill="#17996b"/>
<path d="M537.5 345.6V438.5H678" fill="none" stroke="#1a1a1a" stroke-width="1"/>
<path d="M535.8 438.4H537.8" stroke="#1a1a1a" stroke-width="0.8"/>
<text x="534.7" y="442.3" text-anchor="end" font-family='"Liberation Sans", sans-serif' font-weight="bold" font-size="8.3" fill="#111" stroke="#111" stroke-width="0.3">0</text>
<path d="M535.8 415.2H537.8" stroke="#1a1a1a" stroke-width="0.8"/>
<text x="534.7" y="419.1" text-anchor="end" font-family='"Liberation Sans", sans-serif' font-weight="bold" font-size="8.3" fill="#111" stroke="#111" stroke-width="0.3">5</text>
<path d="M535.8 392H537.8" stroke="#1a1a1a" stroke-width="0.8"/>
<text x="534.7" y="395.9" text-anchor="end" font-family='"Liberation Sans", sans-serif' font-weight="bold" font-size="8.3" fill="#111" stroke="#111" stroke-width="0.3">10</text>
<path d="M535.8 368.8H537.8" stroke="#1a1a1a" stroke-width="0.8"/>
<text x="534.7" y="372.7" text-anchor="end" font-family='"Liberation Sans", sans-serif' font-weight="bold" font-size="8.3" fill="#111" stroke="#111" stroke-width="0.3">15</text>
<path d="M535.8 345.6H537.8" stroke="#1a1a1a" stroke-width="0.8"/>
<text x="534.7" y="349.5" text-anchor="end" font-family='"Liberation Sans", sans-serif' font-weight="bold" font-size="8.3" fill="#111" stroke="#111" stroke-width="0.3">20</text>
<path d="M542.3 438.5V440.5" stroke="#1a1a1a" stroke-width="0.8"/>
<path d="M553.1 438.5V440.5" stroke="#1a1a1a" stroke-width="0.8"/>
<path d="M563.9 438.5V440.5" stroke="#1a1a1a" stroke-width="0.8"/>
<path d="M574.7 438.5V440.5" stroke="#1a1a1a" stroke-width="0.8"/>
<path d="M585.5 438.5V440.5" stroke="#1a1a1a" stroke-width="0.8"/>
<path d="M596.3 438.5V440.5" stroke="#1a1a1a" stroke-width="0.8"/>
<path d="M607.1 438.5V440.5" stroke="#1a1a1a" stroke-width="0.8"/>
<path d="M617.9 438.5V440.5" stroke="#1a1a1a" stroke-width="0.8"/>
<path d="M628.7 438.5V440.5" stroke="#1a1a1a" stroke-width="0.8"/>
<path d="M639.5 438.5V440.5" stroke="#1a1a1a" stroke-width="0.8"/>
<path d="M650.3 438.5V440.5" stroke="#1a1a1a" stroke-width="0.8"/>
<path d="M661.1 438.5V440.5" stroke="#1a1a1a" stroke-width="0.8"/>
<path d="M671.9 438.5V440.5" stroke="#1a1a1a" stroke-width="0.8"/>
<text x="543.5" y="447.8" text-anchor="middle" font-family='"Liberation Sans", sans-serif' font-weight="bold" font-size="7.5" fill="#111" stroke="#111" stroke-width="0.25">ZT0</text>
<text x="565.1" y="447.8" text-anchor="middle" font-family='"Liberation Sans", sans-serif' font-weight="bold" font-size="7.5" fill="#111" stroke="#111" stroke-width="0.25">ZT8</text>
<text x="586.7" y="447.8" text-anchor="middle" font-family='"Liberation Sans", sans-serif' font-weight="bold" font-size="7.5" fill="#111" stroke="#111" stroke-width="0.25">ZT16</text>
<text x="608.3" y="447.8" text-anchor="middle" font-family='"Liberation Sans", sans-serif' font-weight="bold" font-size="7.5" fill="#111" stroke="#111" stroke-width="0.25">ZT24</text>
<text x="629.9" y="447.8" text-anchor="middle" font-family='"Liberation Sans", sans-serif' font-weight="bold" font-size="7.5" fill="#111" stroke="#111" stroke-width="0.25">ZT32</text>
<text x="651.5" y="447.8" text-anchor="middle" font-family='"Liberation Sans", sans-serif' font-weight="bold" font-size="7.5" fill="#111" stroke="#111" stroke-width="0.25">ZT40</text>
<text x="673.1" y="447.8" text-anchor="middle" font-family='"Liberation Sans", sans-serif' font-weight="bold" font-size="7.5" fill="#111" stroke="#111" stroke-width="0.25">ZT48</text>
<path d="M541.8 416.13H677" stroke="#222" stroke-width="1.4" stroke-dasharray="4.1,3.95"/>
<polyline points="542.3,433.76 553.1,418.91 563.9,411.95 574.7,423.09 585.5,421.23 596.3,399.89 607.1,421.7 617.9,418.45 628.7,403.6 639.5,418.91 650.3,422.16 661.1,429.12 671.9,429.58" fill="none" stroke="#ff6414" stroke-width="1.85" stroke-linejoin="round"/>
<circle cx="542.3" cy="433.76" r="1.9" fill="#ff6414"/>
<path d="M553.1 416.51V421.31" stroke="#ff6414" stroke-width="1.1" fill="none"/>
<path d="M550.6 416.51H555.6M550.6 421.31H555.6" stroke="#ff6414" stroke-width="1.5" fill="none"/>
<circle cx="553.1" cy="418.91" r="1.9" fill="#ff6414"/>
<path d="M563.9 408.7V415.2" stroke="#ff6414" stroke-width="1.1" fill="none"/>
<path d="M561.4 408.7H566.4M561.4 415.2H566.4" stroke="#ff6414" stroke-width="1.5" fill="none"/>
<circle cx="563.9" cy="411.95" r="1.9" fill="#ff6414"/>
<path d="M574.7 420.3V425.87" stroke="#ff6414" stroke-width="1.1" fill="none"/>
<path d="M572.2 420.3H577.2M572.2 425.87H577.2" stroke="#ff6414" stroke-width="1.5" fill="none"/>
<circle cx="574.7" cy="423.09" r="1.9" fill="#ff6414"/>
<path d="M585.5 418.83V423.63" stroke="#ff6414" stroke-width="1.1" fill="none"/>
<path d="M583 418.83H588M583 423.63H588" stroke="#ff6414" stroke-width="1.5" fill="none"/>
<circle cx="585.5" cy="421.23" r="1.9" fill="#ff6414"/>
<path d="M596.3 395.25V404.53" stroke="#ff6414" stroke-width="1.1" fill="none"/>
<path d="M593.8 395.25H598.8M593.8 404.53H598.8" stroke="#ff6414" stroke-width="1.5" fill="none"/>
<circle cx="596.3" cy="399.89" r="1.9" fill="#ff6414"/>
<path d="M607.1 419.3V424.1" stroke="#ff6414" stroke-width="1.1" fill="none"/>
<path d="M604.6 419.3H609.6M604.6 424.1H609.6" stroke="#ff6414" stroke-width="1.5" fill="none"/>
<circle cx="607.1" cy="421.7" r="1.9" fill="#ff6414"/>
<path d="M617.9 415.66V421.23" stroke="#ff6414" stroke-width="1.1" fill="none"/>
<path d="M615.4 415.66H620.4M615.4 421.23H620.4" stroke="#ff6414" stroke-width="1.5" fill="none"/>
<circle cx="617.9" cy="418.45" r="1.9" fill="#ff6414"/>
<path d="M628.7 401.2V406" stroke="#ff6414" stroke-width="1.1" fill="none"/>
<path d="M626.2 401.2H631.2M626.2 406H631.2" stroke="#ff6414" stroke-width="1.5" fill="none"/>
<circle cx="628.7" cy="403.6" r="1.9" fill="#ff6414"/>
<path d="M639.5 415.2V422.62" stroke="#ff6414" stroke-width="1.1" fill="none"/>
<path d="M637 415.2H642M637 422.62H642" stroke="#ff6414" stroke-width="1.5" fill="none"/>
<circle cx="639.5" cy="418.91" r="1.9" fill="#ff6414"/>
<path d="M650.3 418.45V425.87" stroke="#ff6414" stroke-width="1.1" fill="none"/>
<path d="M647.8 418.45H652.8M647.8 425.87H652.8" stroke="#ff6414" stroke-width="1.5" fill="none"/>
<circle cx="650.3" cy="422.16" r="1.9" fill="#ff6414"/>
<path d="M661.1 426.72V431.52" stroke="#ff6414" stroke-width="1.1" fill="none"/>
<path d="M658.6 426.72H663.6M658.6 431.52H663.6" stroke="#ff6414" stroke-width="1.5" fill="none"/>
<circle cx="661.1" cy="429.12" r="1.9" fill="#ff6414"/>
<path d="M671.9 427.18V431.98" stroke="#ff6414" stroke-width="1.1" fill="none"/>
<path d="M669.4 427.18H674.4M669.4 431.98H674.4" stroke="#ff6414" stroke-width="1.5" fill="none"/>
<circle cx="671.9" cy="429.58" r="1.9" fill="#ff6414"/>
<polyline points="542.3,417.52 553.1,433.76 563.9,429.12 574.7,419.84 585.5,420.77 596.3,395.25 607.1,418.91 617.9,405.92 628.7,379.01 639.5,413.81 650.3,405.92 661.1,416.13 671.9,420.77" fill="none" stroke="#17996b" stroke-width="1.85" stroke-linejoin="round"/>
<path d="M542.3 415.12V419.92" stroke="#17996b" stroke-width="1.1" fill="none"/>
<path d="M539.8 415.12H544.8M539.8 419.92H544.8" stroke="#17996b" stroke-width="1.5" fill="none"/>
<rect x="540.4" y="415.62" width="3.8" height="3.8" fill="#17996b"/>
<rect x="551.2" y="431.86" width="3.8" height="3.8" fill="#17996b"/>
<rect x="562" y="427.22" width="3.8" height="3.8" fill="#17996b"/>
<path d="M574.7 417.44V422.24" stroke="#17996b" stroke-width="1.1" fill="none"/>
<path d="M572.2 417.44H577.2M572.2 422.24H577.2" stroke="#17996b" stroke-width="1.5" fill="none"/>
<rect x="572.8" y="417.94" width="3.8" height="3.8" fill="#17996b"/>
<path d="M585.5 418.37V423.17" stroke="#17996b" stroke-width="1.1" fill="none"/>
<path d="M583 418.37H588M583 423.17H588" stroke="#17996b" stroke-width="1.5" fill="none"/>
<rect x="583.6" y="418.87" width="3.8" height="3.8" fill="#17996b"/>
<path d="M596.3 391.54V398.96" stroke="#17996b" stroke-width="1.1" fill="none"/>
<path d="M593.8 391.54H598.8M593.8 398.96H598.8" stroke="#17996b" stroke-width="1.5" fill="none"/>
<rect x="594.4" y="393.35" width="3.8" height="3.8" fill="#17996b"/>
<rect x="605.2" y="417.01" width="3.8" height="3.8" fill="#17996b"/>
<path d="M617.9 403.52V408.32" stroke="#17996b" stroke-width="1.1" fill="none"/>
<path d="M615.4 403.52H620.4M615.4 408.32H620.4" stroke="#17996b" stroke-width="1.5" fill="none"/>
<rect x="616" y="404.02" width="3.8" height="3.8" fill="#17996b"/>
<path d="M628.7 376.61V381.41" stroke="#17996b" stroke-width="1.1" fill="none"/>
<path d="M626.2 376.61H631.2M626.2 381.41H631.2" stroke="#17996b" stroke-width="1.5" fill="none"/>
<rect x="626.8" y="377.11" width="3.8" height="3.8" fill="#17996b"/>
<path d="M639.5 411.41V416.21" stroke="#17996b" stroke-width="1.1" fill="none"/>
<path d="M637 411.41H642M637 416.21H642" stroke="#17996b" stroke-width="1.5" fill="none"/>
<rect x="637.6" y="411.91" width="3.8" height="3.8" fill="#17996b"/>
<path d="M650.3 402.21V409.63" stroke="#17996b" stroke-width="1.1" fill="none"/>
<path d="M647.8 402.21H652.8M647.8 409.63H652.8" stroke="#17996b" stroke-width="1.5" fill="none"/>
<rect x="648.4" y="404.02" width="3.8" height="3.8" fill="#17996b"/>
<path d="M661.1 413.73V418.53" stroke="#17996b" stroke-width="1.1" fill="none"/>
<path d="M658.6 413.73H663.6M658.6 418.53H663.6" stroke="#17996b" stroke-width="1.5" fill="none"/>
<rect x="659.2" y="414.23" width="3.8" height="3.8" fill="#17996b"/>
<path d="M671.9 417.98V423.55" stroke="#17996b" stroke-width="1.1" fill="none"/>
<path d="M669.4 417.98H674.4M669.4 423.55H674.4" stroke="#17996b" stroke-width="1.5" fill="none"/>
<rect x="670" y="418.87" width="3.8" height="3.8" fill="#17996b"/>
<text transform="translate(37,527.5) rotate(-90)" text-anchor="middle" font-family='"Liberation Serif", serif' font-size="14" fill="#222">Relative mRNA level</text>
<text transform="translate(14.6,524.5) rotate(-90)" text-anchor="middle" font-family='"Liberation Sans", sans-serif' font-style="italic" font-size="16" fill="#111">per1a</text>
<path d="M52.5 489.9V582.5H191" fill="none" stroke="#1a1a1a" stroke-width="1"/>
<path d="M50 582.4H52" stroke="#1a1a1a" stroke-width="0.8"/>
<text x="48.9" y="586.3" text-anchor="end" font-family='"Liberation Sans", sans-serif' font-weight="bold" font-size="8.3" fill="#111" stroke="#111" stroke-width="0.3">0</text>
<path d="M50 559.27H52" stroke="#1a1a1a" stroke-width="0.8"/>
<text x="48.9" y="563.17" text-anchor="end" font-family='"Liberation Sans", sans-serif' font-weight="bold" font-size="8.3" fill="#111" stroke="#111" stroke-width="0.3">5</text>
<path d="M50 536.15H52" stroke="#1a1a1a" stroke-width="0.8"/>
<text x="48.9" y="540.05" text-anchor="end" font-family='"Liberation Sans", sans-serif' font-weight="bold" font-size="8.3" fill="#111" stroke="#111" stroke-width="0.3">10</text>
<path d="M50 513.02H52" stroke="#1a1a1a" stroke-width="0.8"/>
<text x="48.9" y="516.92" text-anchor="end" font-family='"Liberation Sans", sans-serif' font-weight="bold" font-size="8.3" fill="#111" stroke="#111" stroke-width="0.3">15</text>
<path d="M50 489.9H52" stroke="#1a1a1a" stroke-width="0.8"/>
<text x="48.9" y="493.8" text-anchor="end" font-family='"Liberation Sans", sans-serif' font-weight="bold" font-size="8.3" fill="#111" stroke="#111" stroke-width="0.3">20</text>
<path d="M57.5 582.5V584.5" stroke="#1a1a1a" stroke-width="0.8"/>
<path d="M68.11 582.5V584.5" stroke="#1a1a1a" stroke-width="0.8"/>
<path d="M78.72 582.5V584.5" stroke="#1a1a1a" stroke-width="0.8"/>
<path d="M89.33 582.5V584.5" stroke="#1a1a1a" stroke-width="0.8"/>
<path d="M99.93 582.5V584.5" stroke="#1a1a1a" stroke-width="0.8"/>
<path d="M110.54 582.5V584.5" stroke="#1a1a1a" stroke-width="0.8"/>
<path d="M121.15 582.5V584.5" stroke="#1a1a1a" stroke-width="0.8"/>
<path d="M131.76 582.5V584.5" stroke="#1a1a1a" stroke-width="0.8"/>
<path d="M142.37 582.5V584.5" stroke="#1a1a1a" stroke-width="0.8"/>
<path d="M152.98 582.5V584.5" stroke="#1a1a1a" stroke-width="0.8"/>
<path d="M163.58 582.5V584.5" stroke="#1a1a1a" stroke-width="0.8"/>
<path d="M174.19 582.5V584.5" stroke="#1a1a1a" stroke-width="0.8"/>
<path d="M184.8 582.5V584.5" stroke="#1a1a1a" stroke-width="0.8"/>
<text x="58.7" y="591.8" text-anchor="middle" font-family='"Liberation Sans", sans-serif' font-weight="bold" font-size="7.5" fill="#111" stroke="#111" stroke-width="0.25">ZT0</text>
<text x="79.92" y="591.8" text-anchor="middle" font-family='"Liberation Sans", sans-serif' font-weight="bold" font-size="7.5" fill="#111" stroke="#111" stroke-width="0.25">ZT8</text>
<text x="101.13" y="591.8" text-anchor="middle" font-family='"Liberation Sans", sans-serif' font-weight="bold" font-size="7.5" fill="#111" stroke="#111" stroke-width="0.25">ZT16</text>
<text x="122.35" y="591.8" text-anchor="middle" font-family='"Liberation Sans", sans-serif' font-weight="bold" font-size="7.5" fill="#111" stroke="#111" stroke-width="0.25">ZT24</text>
<text x="143.57" y="591.8" text-anchor="middle" font-family='"Liberation Sans", sans-serif' font-weight="bold" font-size="7.5" fill="#111" stroke="#111" stroke-width="0.25">ZT32</text>
<text x="164.78" y="591.8" text-anchor="middle" font-family='"Liberation Sans", sans-serif' font-weight="bold" font-size="7.5" fill="#111" stroke="#111" stroke-width="0.25">ZT40</text>
<text x="186" y="591.8" text-anchor="middle" font-family='"Liberation Sans", sans-serif' font-weight="bold" font-size="7.5" fill="#111" stroke="#111" stroke-width="0.25">ZT48</text>
<path d="M57 573.15H190" stroke="#222" stroke-width="1.4" stroke-dasharray="4.1,3.95"/>
<polyline points="57.5,577.77 68.11,575.46 78.72,567.14 89.33,581.01 99.93,578.24 110.54,579.16 121.15,577.31 131.76,575 142.37,561.59 152.98,575.46 163.58,571.3 174.19,581.01 184.8,579.62" fill="none" stroke="#ff6414" stroke-width="1.85" stroke-linejoin="round"/>
<circle cx="57.5" cy="577.77" r="1.9" fill="#ff6414"/>
<circle cx="68.11" cy="575.46" r="1.9" fill="#ff6414"/>
<circle cx="78.72" cy="567.14" r="1.9" fill="#ff6414"/>
<circle cx="89.33" cy="581.01" r="1.9" fill="#ff6414"/>
<circle cx="99.93" cy="578.24" r="1.9" fill="#ff6414"/>
<circle cx="110.54" cy="579.16" r="1.9" fill="#ff6414"/>
<circle cx="121.15" cy="577.31" r="1.9" fill="#ff6414"/>
<circle cx="131.76" cy="575" r="1.9" fill="#ff6414"/>
<circle cx="142.37" cy="561.59" r="1.9" fill="#ff6414"/>
<circle cx="152.98" cy="575.46" r="1.9" fill="#ff6414"/>
<circle cx="163.58" cy="571.3" r="1.9" fill="#ff6414"/>
<circle cx="174.19" cy="581.01" r="1.9" fill="#ff6414"/>
<circle cx="184.8" cy="579.62" r="1.9" fill="#ff6414"/>
<polyline points="57.5,576.85 68.11,575.46 78.72,563.9 89.33,580.55 99.93,578.24 110.54,575.46 121.15,575 131.76,580.09 142.37,556.96 152.98,579.62 163.58,574.07 174.19,574.07 184.8,569.45" fill="none" stroke="#17996b" stroke-width="1.85" stroke-linejoin="round"/>
<rect x="55.6" y="574.95" width="3.8" height="3.8" fill="#17996b"/>
<rect x="66.21" y="573.56" width="3.8" height="3.8" fill="#17996b"/>
<rect x="76.82" y="562" width="3.8" height="3.8" fill="#17996b"/>
<rect x="87.42" y="578.65" width="3.8" height="3.8" fill="#17996b"/>
<rect x="98.03" y="576.34" width="3.8" height="3.8" fill="#17996b"/>
<rect x="108.64" y="573.56" width="3.8" height="3.8" fill="#17996b"/>
<rect x="119.25" y="573.1" width="3.8" height="3.8" fill="#17996b"/>
<rect x="129.86" y="578.19" width="3.8" height="3.8" fill="#17996b"/>
<rect x="140.47" y="555.06" width="3.8" height="3.8" fill="#17996b"/>
<rect x="151.08" y="577.73" width="3.8" height="3.8" fill="#17996b"/>
<rect x="161.68" y="572.17" width="3.8" height="3.8" fill="#17996b"/>
<rect x="172.29" y="572.17" width="3.8" height="3.8" fill="#17996b"/>
<rect x="182.9" y="567.55" width="3.8" height="3.8" fill="#17996b"/>
<path d="M212.5 489.4V582.5H353" fill="none" stroke="#1a1a1a" stroke-width="1"/>
<path d="M210.8 582.4H212.8" stroke="#1a1a1a" stroke-width="0.8"/>
<text x="209.7" y="586.3" text-anchor="end" font-family='"Liberation Sans", sans-serif' font-weight="bold" font-size="8.3" fill="#111" stroke="#111" stroke-width="0.3">0</text>
<path d="M210.8 559.15H212.8" stroke="#1a1a1a" stroke-width="0.8"/>
<text x="209.7" y="563.05" text-anchor="end" font-family='"Liberation Sans", sans-serif' font-weight="bold" font-size="8.3" fill="#111" stroke="#111" stroke-width="0.3">5</text>
<path d="M210.8 535.9H212.8" stroke="#1a1a1a" stroke-width="0.8"/>
<text x="209.7" y="539.8" text-anchor="end" font-family='"Liberation Sans", sans-serif' font-weight="bold" font-size="8.3" fill="#111" stroke="#111" stroke-width="0.3">10</text>
<path d="M210.8 512.65H212.8" stroke="#1a1a1a" stroke-width="0.8"/>
<text x="209.7" y="516.55" text-anchor="end" font-family='"Liberation Sans", sans-serif' font-weight="bold" font-size="8.3" fill="#111" stroke="#111" stroke-width="0.3">15</text>
<path d="M210.8 489.4H212.8" stroke="#1a1a1a" stroke-width="0.8"/>
<text x="209.7" y="493.3" text-anchor="end" font-family='"Liberation Sans", sans-serif' font-weight="bold" font-size="8.3" fill="#111" stroke="#111" stroke-width="0.3">20</text>
<path d="M217.8 582.5V584.5" stroke="#1a1a1a" stroke-width="0.8"/>
<path d="M228.62 582.5V584.5" stroke="#1a1a1a" stroke-width="0.8"/>
<path d="M239.43 582.5V584.5" stroke="#1a1a1a" stroke-width="0.8"/>
<path d="M250.25 582.5V584.5" stroke="#1a1a1a" stroke-width="0.8"/>
<path d="M261.07 582.5V584.5" stroke="#1a1a1a" stroke-width="0.8"/>
<path d="M271.88 582.5V584.5" stroke="#1a1a1a" stroke-width="0.8"/>
<path d="M282.7 582.5V584.5" stroke="#1a1a1a" stroke-width="0.8"/>
<path d="M293.52 582.5V584.5" stroke="#1a1a1a" stroke-width="0.8"/>
<path d="M304.33 582.5V584.5" stroke="#1a1a1a" stroke-width="0.8"/>
<path d="M315.15 582.5V584.5" stroke="#1a1a1a" stroke-width="0.8"/>
<path d="M325.97 582.5V584.5" stroke="#1a1a1a" stroke-width="0.8"/>
<path d="M336.78 582.5V584.5" stroke="#1a1a1a" stroke-width="0.8"/>
<path d="M347.6 582.5V584.5" stroke="#1a1a1a" stroke-width="0.8"/>
<text x="219" y="591.8" text-anchor="middle" font-family='"Liberation Sans", sans-serif' font-weight="bold" font-size="7.5" fill="#111" stroke="#111" stroke-width="0.25">ZT0</text>
<text x="240.63" y="591.8" text-anchor="middle" font-family='"Liberation Sans", sans-serif' font-weight="bold" font-size="7.5" fill="#111" stroke="#111" stroke-width="0.25">ZT8</text>
<text x="262.27" y="591.8" text-anchor="middle" font-family='"Liberation Sans", sans-serif' font-weight="bold" font-size="7.5" fill="#111" stroke="#111" stroke-width="0.25">ZT16</text>
<text x="283.9" y="591.8" text-anchor="middle" font-family='"Liberation Sans", sans-serif' font-weight="bold" font-size="7.5" fill="#111" stroke="#111" stroke-width="0.25">ZT24</text>
<text x="305.53" y="591.8" text-anchor="middle" font-family='"Liberation Sans", sans-serif' font-weight="bold" font-size="7.5" fill="#111" stroke="#111" stroke-width="0.25">ZT32</text>
<text x="327.17" y="591.8" text-anchor="middle" font-family='"Liberation Sans", sans-serif' font-weight="bold" font-size="7.5" fill="#111" stroke="#111" stroke-width="0.25">ZT40</text>
<text x="348.8" y="591.8" text-anchor="middle" font-family='"Liberation Sans", sans-serif' font-weight="bold" font-size="7.5" fill="#111" stroke="#111" stroke-width="0.25">ZT48</text>
<path d="M217.3 545.2H352" stroke="#222" stroke-width="1.4" stroke-dasharray="4.1,3.95"/>
<polyline points="217.8,577.75 228.62,573.1 239.43,524.27 250.25,552.17 261.07,568.45 271.88,552.17 282.7,567.99 293.52,563.8 304.33,518.23 315.15,542.88 325.97,560.54 336.78,566.59 347.6,579.61" fill="none" stroke="#ff6414" stroke-width="1.85" stroke-linejoin="round"/>
<circle cx="217.8" cy="577.75" r="1.9" fill="#ff6414"/>
<path d="M228.62 570.31V575.89" stroke="#ff6414" stroke-width="1.1" fill="none"/>
<path d="M226.12 570.31H231.12M226.12 575.89H231.12" stroke="#ff6414" stroke-width="1.5" fill="none"/>
<circle cx="228.62" cy="573.1" r="1.9" fill="#ff6414"/>
<path d="M239.43 515.9V532.64" stroke="#ff6414" stroke-width="1.1" fill="none"/>
<path d="M236.93 515.9H241.93M236.93 532.64H241.93" stroke="#ff6414" stroke-width="1.5" fill="none"/>
<circle cx="239.43" cy="524.27" r="1.9" fill="#ff6414"/>
<path d="M250.25 548.45V555.89" stroke="#ff6414" stroke-width="1.1" fill="none"/>
<path d="M247.75 548.45H252.75M247.75 555.89H252.75" stroke="#ff6414" stroke-width="1.5" fill="none"/>
<circle cx="250.25" cy="552.17" r="1.9" fill="#ff6414"/>
<circle cx="261.07" cy="568.45" r="1.9" fill="#ff6414"/>
<path d="M271.88 549.38V554.96" stroke="#ff6414" stroke-width="1.1" fill="none"/>
<path d="M269.38 549.38H274.38M269.38 554.96H274.38" stroke="#ff6414" stroke-width="1.5" fill="none"/>
<circle cx="271.88" cy="552.17" r="1.9" fill="#ff6414"/>
<path d="M282.7 564.26V571.71" stroke="#ff6414" stroke-width="1.1" fill="none"/>
<path d="M280.2 564.26H285.2M280.2 571.71H285.2" stroke="#ff6414" stroke-width="1.5" fill="none"/>
<circle cx="282.7" cy="567.99" r="1.9" fill="#ff6414"/>
<circle cx="293.52" cy="563.8" r="1.9" fill="#ff6414"/>
<circle cx="304.33" cy="518.23" r="1.9" fill="#ff6414"/>
<path d="M315.15 540.48V545.27" stroke="#ff6414" stroke-width="1.1" fill="none"/>
<path d="M312.65 540.48H317.65M312.65 545.27H317.65" stroke="#ff6414" stroke-width="1.5" fill="none"/>
<circle cx="315.15" cy="542.88" r="1.9" fill="#ff6414"/>
<path d="M325.97 558.14V562.94" stroke="#ff6414" stroke-width="1.1" fill="none"/>
<path d="M323.47 558.14H328.47M323.47 562.94H328.47" stroke="#ff6414" stroke-width="1.5" fill="none"/>
<circle cx="325.97" cy="560.54" r="1.9" fill="#ff6414"/>
<circle cx="336.78" cy="566.59" r="1.9" fill="#ff6414"/>
<circle cx="347.6" cy="579.61" r="1.9" fill="#ff6414"/>
<polyline points="217.8,580.07 228.62,579.61 239.43,534.5 250.25,545.2 261.07,568.45 271.88,554.5 282.7,564.26 293.52,571.7 304.33,510.32 315.15,550.78 325.97,569.38 336.78,574.03 347.6,579.61" fill="none" stroke="#17996b" stroke-width="1.85" stroke-linejoin="round"/>
<rect x="215.9" y="578.17" width="3.8" height="3.8" fill="#17996b"/>
<rect x="226.72" y="577.71" width="3.8" height="3.8" fill="#17996b"/>
<path d="M239.43 529.86V539.15" stroke="#17996b" stroke-width="1.1" fill="none"/>
<path d="M236.93 529.86H241.93M236.93 539.15H241.93" stroke="#17996b" stroke-width="1.5" fill="none"/>
<rect x="237.53" y="532.61" width="3.8" height="3.8" fill="#17996b"/>
<path d="M250.25 540.55V549.85" stroke="#17996b" stroke-width="1.1" fill="none"/>
<path d="M247.75 540.55H252.75M247.75 549.85H252.75" stroke="#17996b" stroke-width="1.5" fill="none"/>
<rect x="248.35" y="543.3" width="3.8" height="3.8" fill="#17996b"/>
<rect x="259.17" y="566.55" width="3.8" height="3.8" fill="#17996b"/>
<rect x="269.98" y="552.6" width="3.8" height="3.8" fill="#17996b"/>
<rect x="280.8" y="562.37" width="3.8" height="3.8" fill="#17996b"/>
<path d="M293.52 569.3V574.1" stroke="#17996b" stroke-width="1.1" fill="none"/>
<path d="M291.02 569.3H296.02M291.02 574.1H296.02" stroke="#17996b" stroke-width="1.5" fill="none"/>
<rect x="291.62" y="569.8" width="3.8" height="3.8" fill="#17996b"/>
<path d="M304.33 504.75V515.9" stroke="#17996b" stroke-width="1.1" fill="none"/>
<path d="M301.83 504.75H306.83M301.83 515.9H306.83" stroke="#17996b" stroke-width="1.5" fill="none"/>
<rect x="302.43" y="508.43" width="3.8" height="3.8" fill="#17996b"/>
<path d="M315.15 547.99V553.57" stroke="#17996b" stroke-width="1.1" fill="none"/>
<path d="M312.65 547.99H317.65M312.65 553.57H317.65" stroke="#17996b" stroke-width="1.5" fill="none"/>
<rect x="313.25" y="548.88" width="3.8" height="3.8" fill="#17996b"/>
<rect x="324.07" y="567.48" width="3.8" height="3.8" fill="#17996b"/>
<path d="M336.78 571.63V576.43" stroke="#17996b" stroke-width="1.1" fill="none"/>
<path d="M334.28 571.63H339.28M334.28 576.43H339.28" stroke="#17996b" stroke-width="1.5" fill="none"/>
<rect x="334.88" y="572.13" width="3.8" height="3.8" fill="#17996b"/>
<rect x="345.7" y="577.71" width="3.8" height="3.8" fill="#17996b"/>
<path d="M374.5 490.6V583.5H516" fill="none" stroke="#1a1a1a" stroke-width="1"/>
<path d="M372.8 583.7H374.8" stroke="#1a1a1a" stroke-width="0.8"/>
<text x="371.7" y="587.6" text-anchor="end" font-family='"Liberation Sans", sans-serif' font-weight="bold" font-size="8.3" fill="#111" stroke="#111" stroke-width="0.3">0</text>
<path d="M372.8 560.43H374.8" stroke="#1a1a1a" stroke-width="0.8"/>
<text x="371.7" y="564.33" text-anchor="end" font-family='"Liberation Sans", sans-serif' font-weight="bold" font-size="8.3" fill="#111" stroke="#111" stroke-width="0.3">5</text>
<path d="M372.8 537.15H374.8" stroke="#1a1a1a" stroke-width="0.8"/>
<text x="371.7" y="541.05" text-anchor="end" font-family='"Liberation Sans", sans-serif' font-weight="bold" font-size="8.3" fill="#111" stroke="#111" stroke-width="0.3">10</text>
<path d="M372.8 513.88H374.8" stroke="#1a1a1a" stroke-width="0.8"/>
<text x="371.7" y="517.77" text-anchor="end" font-family='"Liberation Sans", sans-serif' font-weight="bold" font-size="8.3" fill="#111" stroke="#111" stroke-width="0.3">15</text>
<path d="M372.8 490.6H374.8" stroke="#1a1a1a" stroke-width="0.8"/>
<text x="371.7" y="494.5" text-anchor="end" font-family='"Liberation Sans", sans-serif' font-weight="bold" font-size="8.3" fill="#111" stroke="#111" stroke-width="0.3">20</text>
<path d="M381 583.5V585.5" stroke="#1a1a1a" stroke-width="0.8"/>
<path d="M391.75 583.5V585.5" stroke="#1a1a1a" stroke-width="0.8"/>
<path d="M402.5 583.5V585.5" stroke="#1a1a1a" stroke-width="0.8"/>
<path d="M413.25 583.5V585.5" stroke="#1a1a1a" stroke-width="0.8"/>
<path d="M424 583.5V585.5" stroke="#1a1a1a" stroke-width="0.8"/>
<path d="M434.75 583.5V585.5" stroke="#1a1a1a" stroke-width="0.8"/>
<path d="M445.5 583.5V585.5" stroke="#1a1a1a" stroke-width="0.8"/>
<path d="M456.25 583.5V585.5" stroke="#1a1a1a" stroke-width="0.8"/>
<path d="M467 583.5V585.5" stroke="#1a1a1a" stroke-width="0.8"/>
<path d="M477.75 583.5V585.5" stroke="#1a1a1a" stroke-width="0.8"/>
<path d="M488.5 583.5V585.5" stroke="#1a1a1a" stroke-width="0.8"/>
<path d="M499.25 583.5V585.5" stroke="#1a1a1a" stroke-width="0.8"/>
<path d="M510 583.5V585.5" stroke="#1a1a1a" stroke-width="0.8"/>
<text x="382.2" y="593.1" text-anchor="middle" font-family='"Liberation Sans", sans-serif' font-weight="bold" font-size="7.5" fill="#111" stroke="#111" stroke-width="0.25">ZT0</text>
<text x="403.7" y="593.1" text-anchor="middle" font-family='"Liberation Sans", sans-serif' font-weight="bold" font-size="7.5" fill="#111" stroke="#111" stroke-width="0.25">ZT8</text>
<text x="425.2" y="593.1" text-anchor="middle" font-family='"Liberation Sans", sans-serif' font-weight="bold" font-size="7.5" fill="#111" stroke="#111" stroke-width="0.25">ZT16</text>
<text x="446.7" y="593.1" text-anchor="middle" font-family='"Liberation Sans", sans-serif' font-weight="bold" font-size="7.5" fill="#111" stroke="#111" stroke-width="0.25">ZT24</text>
<text x="468.2" y="593.1" text-anchor="middle" font-family='"Liberation Sans", sans-serif' font-weight="bold" font-size="7.5" fill="#111" stroke="#111" stroke-width="0.25">ZT32</text>
<text x="489.7" y="593.1" text-anchor="middle" font-family='"Liberation Sans", sans-serif' font-weight="bold" font-size="7.5" fill="#111" stroke="#111" stroke-width="0.25">ZT40</text>
<text x="511.2" y="593.1" text-anchor="middle" font-family='"Liberation Sans", sans-serif' font-weight="bold" font-size="7.5" fill="#111" stroke="#111" stroke-width="0.25">ZT48</text>
<path d="M380.5 561.36H515" stroke="#222" stroke-width="1.4" stroke-dasharray="4.1,3.95"/>
<polyline points="381,579.98 391.75,579.05 402.5,547.39 413.25,554.37 424,558.1 434.75,571.6 445.5,575.79 456.25,577.18 467,526.44 477.75,542.74 488.5,544.13 499.25,573.46 510,573.92" fill="none" stroke="#ff6414" stroke-width="1.85" stroke-linejoin="round"/>
<circle cx="381" cy="579.98" r="1.9" fill="#ff6414"/>
<circle cx="391.75" cy="579.05" r="1.9" fill="#ff6414"/>
<path d="M402.5 544.99V549.79" stroke="#ff6414" stroke-width="1.1" fill="none"/>
<path d="M400 544.99H405M400 549.79H405" stroke="#ff6414" stroke-width="1.5" fill="none"/>
<circle cx="402.5" cy="547.39" r="1.9" fill="#ff6414"/>
<path d="M413.25 550.65V558.1" stroke="#ff6414" stroke-width="1.1" fill="none"/>
<path d="M410.75 550.65H415.75M410.75 558.1H415.75" stroke="#ff6414" stroke-width="1.5" fill="none"/>
<circle cx="413.25" cy="554.37" r="1.9" fill="#ff6414"/>
<path d="M424 555.7V560.5" stroke="#ff6414" stroke-width="1.1" fill="none"/>
<path d="M421.5 555.7H426.5M421.5 560.5H426.5" stroke="#ff6414" stroke-width="1.5" fill="none"/>
<circle cx="424" cy="558.1" r="1.9" fill="#ff6414"/>
<path d="M434.75 569.2V574" stroke="#ff6414" stroke-width="1.1" fill="none"/>
<path d="M432.25 569.2H437.25M432.25 574H437.25" stroke="#ff6414" stroke-width="1.5" fill="none"/>
<circle cx="434.75" cy="571.6" r="1.9" fill="#ff6414"/>
<circle cx="445.5" cy="575.79" r="1.9" fill="#ff6414"/>
<circle cx="456.25" cy="577.18" r="1.9" fill="#ff6414"/>
<path d="M467 522.72V530.17" stroke="#ff6414" stroke-width="1.1" fill="none"/>
<path d="M464.5 522.72H469.5M464.5 530.17H469.5" stroke="#ff6414" stroke-width="1.5" fill="none"/>
<circle cx="467" cy="526.44" r="1.9" fill="#ff6414"/>
<path d="M477.75 540.34V545.14" stroke="#ff6414" stroke-width="1.1" fill="none"/>
<path d="M475.25 540.34H480.25M475.25 545.14H480.25" stroke="#ff6414" stroke-width="1.5" fill="none"/>
<circle cx="477.75" cy="542.74" r="1.9" fill="#ff6414"/>
<path d="M488.5 540.87V547.39" stroke="#ff6414" stroke-width="1.1" fill="none"/>
<path d="M486 540.87H491M486 547.39H491" stroke="#ff6414" stroke-width="1.5" fill="none"/>
<circle cx="488.5" cy="544.13" r="1.9" fill="#ff6414"/>
<circle cx="499.25" cy="573.46" r="1.9" fill="#ff6414"/>
<path d="M510 571.52V576.32" stroke="#ff6414" stroke-width="1.1" fill="none"/>
<path d="M507.5 571.52H512.5M507.5 576.32H512.5" stroke="#ff6414" stroke-width="1.5" fill="none"/>
<circle cx="510" cy="573.92" r="1.9" fill="#ff6414"/>
<polyline points="381,579.98 391.75,580.44 402.5,540.41 413.25,544.13 424,572.53 434.75,577.18 445.5,577.18 456.25,577.18 467,535.75 477.75,545.06 488.5,552.98 499.25,575.32 510,566.94" fill="none" stroke="#17996b" stroke-width="1.85" stroke-linejoin="round"/>
<rect x="379.1" y="578.08" width="3.8" height="3.8" fill="#17996b"/>
<rect x="389.85" y="578.54" width="3.8" height="3.8" fill="#17996b"/>
<path d="M402.5 535.75V545.06" stroke="#17996b" stroke-width="1.1" fill="none"/>
<path d="M400 535.75H405M400 545.06H405" stroke="#17996b" stroke-width="1.5" fill="none"/>
<rect x="400.6" y="538.51" width="3.8" height="3.8" fill="#17996b"/>
<path d="M413.25 539.48V548.79" stroke="#17996b" stroke-width="1.1" fill="none"/>
<path d="M410.75 539.48H415.75M410.75 548.79H415.75" stroke="#17996b" stroke-width="1.5" fill="none"/>
<rect x="411.35" y="542.23" width="3.8" height="3.8" fill="#17996b"/>
<rect x="422.1" y="570.63" width="3.8" height="3.8" fill="#17996b"/>
<path d="M434.75 574.78V579.58" stroke="#17996b" stroke-width="1.1" fill="none"/>
<path d="M432.25 574.78H437.25M432.25 579.58H437.25" stroke="#17996b" stroke-width="1.5" fill="none"/>
<rect x="432.85" y="575.28" width="3.8" height="3.8" fill="#17996b"/>
<rect x="443.6" y="575.28" width="3.8" height="3.8" fill="#17996b"/>
<rect x="454.35" y="575.28" width="3.8" height="3.8" fill="#17996b"/>
<path d="M467 531.1V540.41" stroke="#17996b" stroke-width="1.1" fill="none"/>
<path d="M464.5 531.1H469.5M464.5 540.41H469.5" stroke="#17996b" stroke-width="1.5" fill="none"/>
<rect x="465.1" y="533.85" width="3.8" height="3.8" fill="#17996b"/>
<path d="M477.75 542.66V547.46" stroke="#17996b" stroke-width="1.1" fill="none"/>
<path d="M475.25 542.66H480.25M475.25 547.46H480.25" stroke="#17996b" stroke-width="1.5" fill="none"/>
<rect x="475.85" y="543.16" width="3.8" height="3.8" fill="#17996b"/>
<path d="M488.5 549.25V556.7" stroke="#17996b" stroke-width="1.1" fill="none"/>
<path d="M486 549.25H491M486 556.7H491" stroke="#17996b" stroke-width="1.5" fill="none"/>
<rect x="486.6" y="551.08" width="3.8" height="3.8" fill="#17996b"/>
<rect x="497.35" y="573.42" width="3.8" height="3.8" fill="#17996b"/>
<path d="M510 563.22V570.67" stroke="#17996b" stroke-width="1.1" fill="none"/>
<path d="M507.5 563.22H512.5M507.5 570.67H512.5" stroke="#17996b" stroke-width="1.5" fill="none"/>
<rect x="508.1" y="565.04" width="3.8" height="3.8" fill="#17996b"/>
<path d="M538.5 489.4V583.5H679" fill="none" stroke="#1a1a1a" stroke-width="1"/>
<path d="M536.6 583H538.6" stroke="#1a1a1a" stroke-width="0.8"/>
<text x="535.5" y="586.9" text-anchor="end" font-family='"Liberation Sans", sans-serif' font-weight="bold" font-size="8.3" fill="#111" stroke="#111" stroke-width="0.3">0</text>
<path d="M536.6 559.6H538.6" stroke="#1a1a1a" stroke-width="0.8"/>
<text x="535.5" y="563.5" text-anchor="end" font-family='"Liberation Sans", sans-serif' font-weight="bold" font-size="8.3" fill="#111" stroke="#111" stroke-width="0.3">5</text>
<path d="M536.6 536.2H538.6" stroke="#1a1a1a" stroke-width="0.8"/>
<text x="535.5" y="540.1" text-anchor="end" font-family='"Liberation Sans", sans-serif' font-weight="bold" font-size="8.3" fill="#111" stroke="#111" stroke-width="0.3">10</text>
<path d="M536.6 512.8H538.6" stroke="#1a1a1a" stroke-width="0.8"/>
<text x="535.5" y="516.7" text-anchor="end" font-family='"Liberation Sans", sans-serif' font-weight="bold" font-size="8.3" fill="#111" stroke="#111" stroke-width="0.3">15</text>
<path d="M536.6 489.4H538.6" stroke="#1a1a1a" stroke-width="0.8"/>
<text x="535.5" y="493.3" text-anchor="end" font-family='"Liberation Sans", sans-serif' font-weight="bold" font-size="8.3" fill="#111" stroke="#111" stroke-width="0.3">20</text>
<path d="M544.3 583.5V585.5" stroke="#1a1a1a" stroke-width="0.8"/>
<path d="M555.09 583.5V585.5" stroke="#1a1a1a" stroke-width="0.8"/>
<path d="M565.88 583.5V585.5" stroke="#1a1a1a" stroke-width="0.8"/>
<path d="M576.67 583.5V585.5" stroke="#1a1a1a" stroke-width="0.8"/>
<path d="M587.47 583.5V585.5" stroke="#1a1a1a" stroke-width="0.8"/>
<path d="M598.26 583.5V585.5" stroke="#1a1a1a" stroke-width="0.8"/>
<path d="M609.05 583.5V585.5" stroke="#1a1a1a" stroke-width="0.8"/>
<path d="M619.84 583.5V585.5" stroke="#1a1a1a" stroke-width="0.8"/>
<path d="M630.63 583.5V585.5" stroke="#1a1a1a" stroke-width="0.8"/>
<path d="M641.42 583.5V585.5" stroke="#1a1a1a" stroke-width="0.8"/>
<path d="M652.22 583.5V585.5" stroke="#1a1a1a" stroke-width="0.8"/>
<path d="M663.01 583.5V585.5" stroke="#1a1a1a" stroke-width="0.8"/>
<path d="M673.8 583.5V585.5" stroke="#1a1a1a" stroke-width="0.8"/>
<text x="545.5" y="592.4" text-anchor="middle" font-family='"Liberation Sans", sans-serif' font-weight="bold" font-size="7.5" fill="#111" stroke="#111" stroke-width="0.25">ZT0</text>
<text x="567.08" y="592.4" text-anchor="middle" font-family='"Liberation Sans", sans-serif' font-weight="bold" font-size="7.5" fill="#111" stroke="#111" stroke-width="0.25">ZT8</text>
<text x="588.67" y="592.4" text-anchor="middle" font-family='"Liberation Sans", sans-serif' font-weight="bold" font-size="7.5" fill="#111" stroke="#111" stroke-width="0.25">ZT16</text>
<text x="610.25" y="592.4" text-anchor="middle" font-family='"Liberation Sans", sans-serif' font-weight="bold" font-size="7.5" fill="#111" stroke="#111" stroke-width="0.25">ZT24</text>
<text x="631.83" y="592.4" text-anchor="middle" font-family='"Liberation Sans", sans-serif' font-weight="bold" font-size="7.5" fill="#111" stroke="#111" stroke-width="0.25">ZT32</text>
<text x="653.42" y="592.4" text-anchor="middle" font-family='"Liberation Sans", sans-serif' font-weight="bold" font-size="7.5" fill="#111" stroke="#111" stroke-width="0.25">ZT40</text>
<text x="675" y="592.4" text-anchor="middle" font-family='"Liberation Sans", sans-serif' font-weight="bold" font-size="7.5" fill="#111" stroke="#111" stroke-width="0.25">ZT48</text>
<path d="M543.8 570.83H678" stroke="#222" stroke-width="1.4" stroke-dasharray="4.1,3.95"/>
<polyline points="544.3,577.85 555.09,571.77 565.88,558.2 576.67,573.64 587.47,567.56 598.26,573.64 609.05,576.45 619.84,572.24 630.63,564.75 641.42,577.38 652.22,575.98 663.01,578.79 673.8,579.26" fill="none" stroke="#ff6414" stroke-width="1.85" stroke-linejoin="round"/>
<circle cx="544.3" cy="577.85" r="1.9" fill="#ff6414"/>
<circle cx="555.09" cy="571.77" r="1.9" fill="#ff6414"/>
<path d="M565.88 554.92V561.47" stroke="#ff6414" stroke-width="1.1" fill="none"/>
<path d="M563.38 554.92H568.38M563.38 561.47H568.38" stroke="#ff6414" stroke-width="1.5" fill="none"/>
<circle cx="565.88" cy="558.2" r="1.9" fill="#ff6414"/>
<path d="M576.67 571.24V576.04" stroke="#ff6414" stroke-width="1.1" fill="none"/>
<path d="M574.17 571.24H579.17M574.17 576.04H579.17" stroke="#ff6414" stroke-width="1.5" fill="none"/>
<circle cx="576.67" cy="573.64" r="1.9" fill="#ff6414"/>
<path d="M587.47 564.75V570.36" stroke="#ff6414" stroke-width="1.1" fill="none"/>
<path d="M584.97 564.75H589.97M584.97 570.36H589.97" stroke="#ff6414" stroke-width="1.5" fill="none"/>
<circle cx="587.47" cy="567.56" r="1.9" fill="#ff6414"/>
<circle cx="598.26" cy="573.64" r="1.9" fill="#ff6414"/>
<path d="M609.05 574.05V578.85" stroke="#ff6414" stroke-width="1.1" fill="none"/>
<path d="M606.55 574.05H611.55M606.55 578.85H611.55" stroke="#ff6414" stroke-width="1.5" fill="none"/>
<circle cx="609.05" cy="576.45" r="1.9" fill="#ff6414"/>
<path d="M619.84 569.84V574.64" stroke="#ff6414" stroke-width="1.1" fill="none"/>
<path d="M617.34 569.84H622.34M617.34 574.64H622.34" stroke="#ff6414" stroke-width="1.5" fill="none"/>
<circle cx="619.84" cy="572.24" r="1.9" fill="#ff6414"/>
<path d="M630.63 561V568.49" stroke="#ff6414" stroke-width="1.1" fill="none"/>
<path d="M628.13 561H633.13M628.13 568.49H633.13" stroke="#ff6414" stroke-width="1.5" fill="none"/>
<circle cx="630.63" cy="564.75" r="1.9" fill="#ff6414"/>
<path d="M641.42 574.98V579.78" stroke="#ff6414" stroke-width="1.1" fill="none"/>
<path d="M638.92 574.98H643.92M638.92 579.78H643.92" stroke="#ff6414" stroke-width="1.5" fill="none"/>
<circle cx="641.42" cy="577.38" r="1.9" fill="#ff6414"/>
<circle cx="652.22" cy="575.98" r="1.9" fill="#ff6414"/>
<circle cx="663.01" cy="578.79" r="1.9" fill="#ff6414"/>
<path d="M673.8 576.86V581.66" stroke="#ff6414" stroke-width="1.1" fill="none"/>
<path d="M671.3 576.86H676.3M671.3 581.66H676.3" stroke="#ff6414" stroke-width="1.5" fill="none"/>
<circle cx="673.8" cy="579.26" r="1.9" fill="#ff6414"/>
<polyline points="544.3,579.26 555.09,579.72 565.88,561.47 576.67,566.62 587.47,573.64 598.26,574.58 609.05,570.83 619.84,566.62 630.63,557.26 641.42,565.22 652.22,576.92 663.01,575.04 673.8,570.83" fill="none" stroke="#17996b" stroke-width="1.85" stroke-linejoin="round"/>
<rect x="542.4" y="577.36" width="3.8" height="3.8" fill="#17996b"/>
<rect x="553.19" y="577.82" width="3.8" height="3.8" fill="#17996b"/>
<rect x="563.98" y="559.57" width="3.8" height="3.8" fill="#17996b"/>
<rect x="574.77" y="564.72" width="3.8" height="3.8" fill="#17996b"/>
<rect x="585.57" y="571.74" width="3.8" height="3.8" fill="#17996b"/>
<rect x="596.36" y="572.68" width="3.8" height="3.8" fill="#17996b"/>
<rect x="607.15" y="568.93" width="3.8" height="3.8" fill="#17996b"/>
<rect x="617.94" y="564.72" width="3.8" height="3.8" fill="#17996b"/>
<rect x="628.73" y="555.36" width="3.8" height="3.8" fill="#17996b"/>
<rect x="639.52" y="563.32" width="3.8" height="3.8" fill="#17996b"/>
<rect x="650.32" y="575.02" width="3.8" height="3.8" fill="#17996b"/>
<rect x="661.11" y="573.14" width="3.8" height="3.8" fill="#17996b"/>
<rect x="671.9" y="568.93" width="3.8" height="3.8" fill="#17996b"/>
<text transform="translate(37,671.5) rotate(-90)" text-anchor="middle" font-family='"Liberation Serif", serif' font-size="14" fill="#222">Relative mRNA level</text>
<text transform="translate(14.6,665.5) rotate(-90)" text-anchor="middle" font-family='"Liberation Sans", sans-serif' font-style="italic" font-size="16" fill="#111">per2</text>
<path d="M51.5 632.2V724.5H191" fill="none" stroke="#1a1a1a" stroke-width="1"/>
<path d="M49.1 724.5H51.1" stroke="#1a1a1a" stroke-width="0.8"/>
<text x="48" y="728.4" text-anchor="end" font-family='"Liberation Sans", sans-serif' font-weight="bold" font-size="8.3" fill="#111" stroke="#111" stroke-width="0.3">0</text>
<path d="M49.1 706.04H51.1" stroke="#1a1a1a" stroke-width="0.8"/>
<text x="48" y="709.94" text-anchor="end" font-family='"Liberation Sans", sans-serif' font-weight="bold" font-size="8.3" fill="#111" stroke="#111" stroke-width="0.3">10</text>
<path d="M49.1 687.58H51.1" stroke="#1a1a1a" stroke-width="0.8"/>
<text x="48" y="691.48" text-anchor="end" font-family='"Liberation Sans", sans-serif' font-weight="bold" font-size="8.3" fill="#111" stroke="#111" stroke-width="0.3">20</text>
<path d="M49.1 669.12H51.1" stroke="#1a1a1a" stroke-width="0.8"/>
<text x="48" y="673.02" text-anchor="end" font-family='"Liberation Sans", sans-serif' font-weight="bold" font-size="8.3" fill="#111" stroke="#111" stroke-width="0.3">30</text>
<path d="M49.1 650.66H51.1" stroke="#1a1a1a" stroke-width="0.8"/>
<text x="48" y="654.56" text-anchor="end" font-family='"Liberation Sans", sans-serif' font-weight="bold" font-size="8.3" fill="#111" stroke="#111" stroke-width="0.3">40</text>
<path d="M49.1 632.2H51.1" stroke="#1a1a1a" stroke-width="0.8"/>
<text x="48" y="636.1" text-anchor="end" font-family='"Liberation Sans", sans-serif' font-weight="bold" font-size="8.3" fill="#111" stroke="#111" stroke-width="0.3">50</text>
<path d="M57 724.5V726.5" stroke="#1a1a1a" stroke-width="0.8"/>
<path d="M67.62 724.5V726.5" stroke="#1a1a1a" stroke-width="0.8"/>
<path d="M78.25 724.5V726.5" stroke="#1a1a1a" stroke-width="0.8"/>
<path d="M88.88 724.5V726.5" stroke="#1a1a1a" stroke-width="0.8"/>
<path d="M99.5 724.5V726.5" stroke="#1a1a1a" stroke-width="0.8"/>
<path d="M110.12 724.5V726.5" stroke="#1a1a1a" stroke-width="0.8"/>
<path d="M120.75 724.5V726.5" stroke="#1a1a1a" stroke-width="0.8"/>
<path d="M131.38 724.5V726.5" stroke="#1a1a1a" stroke-width="0.8"/>
<path d="M142 724.5V726.5" stroke="#1a1a1a" stroke-width="0.8"/>
<path d="M152.62 724.5V726.5" stroke="#1a1a1a" stroke-width="0.8"/>
<path d="M163.25 724.5V726.5" stroke="#1a1a1a" stroke-width="0.8"/>
<path d="M173.88 724.5V726.5" stroke="#1a1a1a" stroke-width="0.8"/>
<path d="M184.5 724.5V726.5" stroke="#1a1a1a" stroke-width="0.8"/>
<text x="58.2" y="733.9" text-anchor="middle" font-family='"Liberation Sans", sans-serif' font-weight="bold" font-size="7.5" fill="#111" stroke="#111" stroke-width="0.25">ZT0</text>
<text x="79.45" y="733.9" text-anchor="middle" font-family='"Liberation Sans", sans-serif' font-weight="bold" font-size="7.5" fill="#111" stroke="#111" stroke-width="0.25">ZT8</text>
<text x="100.7" y="733.9" text-anchor="middle" font-family='"Liberation Sans", sans-serif' font-weight="bold" font-size="7.5" fill="#111" stroke="#111" stroke-width="0.25">ZT16</text>
<text x="121.95" y="733.9" text-anchor="middle" font-family='"Liberation Sans", sans-serif' font-weight="bold" font-size="7.5" fill="#111" stroke="#111" stroke-width="0.25">ZT24</text>
<text x="143.2" y="733.9" text-anchor="middle" font-family='"Liberation Sans", sans-serif' font-weight="bold" font-size="7.5" fill="#111" stroke="#111" stroke-width="0.25">ZT32</text>
<text x="164.45" y="733.9" text-anchor="middle" font-family='"Liberation Sans", sans-serif' font-weight="bold" font-size="7.5" fill="#111" stroke="#111" stroke-width="0.25">ZT40</text>
<text x="185.7" y="733.9" text-anchor="middle" font-family='"Liberation Sans", sans-serif' font-weight="bold" font-size="7.5" fill="#111" stroke="#111" stroke-width="0.25">ZT48</text>
<path d="M56.5 711.58H190" stroke="#222" stroke-width="1.4" stroke-dasharray="4.1,3.95"/>
<polyline points="57,723.58 67.62,696.81 78.25,693.12 88.88,691.27 99.5,704.19 110.12,712.5 120.75,715.27 131.38,711.58 142,702.35 152.62,692.2 163.25,707.89 173.88,712.5 184.5,709.73" fill="none" stroke="#ff6414" stroke-width="1.85" stroke-linejoin="round"/>
<circle cx="57" cy="723.58" r="1.9" fill="#ff6414"/>
<path d="M67.62 694.04V699.58" stroke="#ff6414" stroke-width="1.1" fill="none"/>
<path d="M65.12 694.04H70.12M65.12 699.58H70.12" stroke="#ff6414" stroke-width="1.5" fill="none"/>
<circle cx="67.62" cy="696.81" r="1.9" fill="#ff6414"/>
<path d="M78.25 690.35V695.89" stroke="#ff6414" stroke-width="1.1" fill="none"/>
<path d="M75.75 690.35H80.75M75.75 695.89H80.75" stroke="#ff6414" stroke-width="1.5" fill="none"/>
<circle cx="78.25" cy="693.12" r="1.9" fill="#ff6414"/>
<path d="M88.88 688.5V694.04" stroke="#ff6414" stroke-width="1.1" fill="none"/>
<path d="M86.38 688.5H91.38M86.38 694.04H91.38" stroke="#ff6414" stroke-width="1.5" fill="none"/>
<circle cx="88.88" cy="691.27" r="1.9" fill="#ff6414"/>
<path d="M99.5 701.42V706.96" stroke="#ff6414" stroke-width="1.1" fill="none"/>
<path d="M97 701.42H102M97 706.96H102" stroke="#ff6414" stroke-width="1.5" fill="none"/>
<circle cx="99.5" cy="704.19" r="1.9" fill="#ff6414"/>
<circle cx="110.12" cy="712.5" r="1.9" fill="#ff6414"/>
<path d="M120.75 712.5V718.04" stroke="#ff6414" stroke-width="1.1" fill="none"/>
<path d="M118.25 712.5H123.25M118.25 718.04H123.25" stroke="#ff6414" stroke-width="1.5" fill="none"/>
<circle cx="120.75" cy="715.27" r="1.9" fill="#ff6414"/>
<path d="M131.38 709.18V713.98" stroke="#ff6414" stroke-width="1.1" fill="none"/>
<path d="M128.88 709.18H133.88M128.88 713.98H133.88" stroke="#ff6414" stroke-width="1.5" fill="none"/>
<circle cx="131.38" cy="711.58" r="1.9" fill="#ff6414"/>
<path d="M142 698.66V706.04" stroke="#ff6414" stroke-width="1.1" fill="none"/>
<path d="M139.5 698.66H144.5M139.5 706.04H144.5" stroke="#ff6414" stroke-width="1.5" fill="none"/>
<circle cx="142" cy="702.35" r="1.9" fill="#ff6414"/>
<path d="M152.62 688.5V695.89" stroke="#ff6414" stroke-width="1.1" fill="none"/>
<path d="M150.12 688.5H155.12M150.12 695.89H155.12" stroke="#ff6414" stroke-width="1.5" fill="none"/>
<circle cx="152.62" cy="692.2" r="1.9" fill="#ff6414"/>
<path d="M163.25 705.49V710.29" stroke="#ff6414" stroke-width="1.1" fill="none"/>
<path d="M160.75 705.49H165.75M160.75 710.29H165.75" stroke="#ff6414" stroke-width="1.5" fill="none"/>
<circle cx="163.25" cy="707.89" r="1.9" fill="#ff6414"/>
<circle cx="173.88" cy="712.5" r="1.9" fill="#ff6414"/>
<path d="M184.5 706.04V713.42" stroke="#ff6414" stroke-width="1.1" fill="none"/>
<path d="M182 706.04H187M182 713.42H187" stroke="#ff6414" stroke-width="1.5" fill="none"/>
<circle cx="184.5" cy="709.73" r="1.9" fill="#ff6414"/>
<polyline points="57,723.58 67.62,698.66 78.25,696.81 88.88,693.12 99.5,709.73 110.12,712.5 120.75,712.5 131.38,713.42 142,706.04 152.62,694.96 163.25,712.5 173.88,711.58 184.5,714.35" fill="none" stroke="#17996b" stroke-width="1.85" stroke-linejoin="round"/>
<rect x="55.1" y="721.68" width="3.8" height="3.8" fill="#17996b"/>
<path d="M67.62 695.89V701.43" stroke="#17996b" stroke-width="1.1" fill="none"/>
<path d="M65.12 695.89H70.12M65.12 701.43H70.12" stroke="#17996b" stroke-width="1.5" fill="none"/>
<rect x="65.72" y="696.76" width="3.8" height="3.8" fill="#17996b"/>
<rect x="76.35" y="694.91" width="3.8" height="3.8" fill="#17996b"/>
<path d="M88.88 690.35V695.89" stroke="#17996b" stroke-width="1.1" fill="none"/>
<path d="M86.38 690.35H91.38M86.38 695.89H91.38" stroke="#17996b" stroke-width="1.5" fill="none"/>
<rect x="86.97" y="691.22" width="3.8" height="3.8" fill="#17996b"/>
<rect x="97.6" y="707.83" width="3.8" height="3.8" fill="#17996b"/>
<path d="M110.12 709.73V715.27" stroke="#17996b" stroke-width="1.1" fill="none"/>
<path d="M107.62 709.73H112.62M107.62 715.27H112.62" stroke="#17996b" stroke-width="1.5" fill="none"/>
<rect x="108.22" y="710.6" width="3.8" height="3.8" fill="#17996b"/>
<path d="M120.75 708.81V716.19" stroke="#17996b" stroke-width="1.1" fill="none"/>
<path d="M118.25 708.81H123.25M118.25 716.19H123.25" stroke="#17996b" stroke-width="1.5" fill="none"/>
<rect x="118.85" y="710.6" width="3.8" height="3.8" fill="#17996b"/>
<path d="M131.38 709.73V717.12" stroke="#17996b" stroke-width="1.1" fill="none"/>
<path d="M128.88 709.73H133.88M128.88 717.12H133.88" stroke="#17996b" stroke-width="1.5" fill="none"/>
<rect x="129.47" y="711.52" width="3.8" height="3.8" fill="#17996b"/>
<rect x="140.1" y="704.14" width="3.8" height="3.8" fill="#17996b"/>
<path d="M152.62 692.56V697.36" stroke="#17996b" stroke-width="1.1" fill="none"/>
<path d="M150.12 692.56H155.12M150.12 697.36H155.12" stroke="#17996b" stroke-width="1.5" fill="none"/>
<rect x="150.72" y="693.06" width="3.8" height="3.8" fill="#17996b"/>
<path d="M163.25 710.1V714.9" stroke="#17996b" stroke-width="1.1" fill="none"/>
<path d="M160.75 710.1H165.75M160.75 714.9H165.75" stroke="#17996b" stroke-width="1.5" fill="none"/>
<rect x="161.35" y="710.6" width="3.8" height="3.8" fill="#17996b"/>
<path d="M173.88 709.18V713.98" stroke="#17996b" stroke-width="1.1" fill="none"/>
<path d="M171.38 709.18H176.38M171.38 713.98H176.38" stroke="#17996b" stroke-width="1.5" fill="none"/>
<rect x="171.97" y="709.68" width="3.8" height="3.8" fill="#17996b"/>
<path d="M184.5 711.58V717.12" stroke="#17996b" stroke-width="1.1" fill="none"/>
<path d="M182 711.58H187M182 717.12H187" stroke="#17996b" stroke-width="1.5" fill="none"/>
<rect x="182.6" y="712.45" width="3.8" height="3.8" fill="#17996b"/>
<path d="M214.5 629.9V723.5H354" fill="none" stroke="#1a1a1a" stroke-width="1"/>
<path d="M212.3 723.4H214.3" stroke="#1a1a1a" stroke-width="0.8"/>
<text x="211.2" y="727.3" text-anchor="end" font-family='"Liberation Sans", sans-serif' font-weight="bold" font-size="8.3" fill="#111" stroke="#111" stroke-width="0.3">0</text>
<path d="M212.3 704.7H214.3" stroke="#1a1a1a" stroke-width="0.8"/>
<text x="211.2" y="708.6" text-anchor="end" font-family='"Liberation Sans", sans-serif' font-weight="bold" font-size="8.3" fill="#111" stroke="#111" stroke-width="0.3">10</text>
<path d="M212.3 686H214.3" stroke="#1a1a1a" stroke-width="0.8"/>
<text x="211.2" y="689.9" text-anchor="end" font-family='"Liberation Sans", sans-serif' font-weight="bold" font-size="8.3" fill="#111" stroke="#111" stroke-width="0.3">20</text>
<path d="M212.3 667.3H214.3" stroke="#1a1a1a" stroke-width="0.8"/>
<text x="211.2" y="671.2" text-anchor="end" font-family='"Liberation Sans", sans-serif' font-weight="bold" font-size="8.3" fill="#111" stroke="#111" stroke-width="0.3">30</text>
<path d="M212.3 648.6H214.3" stroke="#1a1a1a" stroke-width="0.8"/>
<text x="211.2" y="652.5" text-anchor="end" font-family='"Liberation Sans", sans-serif' font-weight="bold" font-size="8.3" fill="#111" stroke="#111" stroke-width="0.3">40</text>
<path d="M212.3 629.9H214.3" stroke="#1a1a1a" stroke-width="0.8"/>
<text x="211.2" y="633.8" text-anchor="end" font-family='"Liberation Sans", sans-serif' font-weight="bold" font-size="8.3" fill="#111" stroke="#111" stroke-width="0.3">50</text>
<path d="M219.8 723.5V725.5" stroke="#1a1a1a" stroke-width="0.8"/>
<path d="M230.62 723.5V725.5" stroke="#1a1a1a" stroke-width="0.8"/>
<path d="M241.43 723.5V725.5" stroke="#1a1a1a" stroke-width="0.8"/>
<path d="M252.25 723.5V725.5" stroke="#1a1a1a" stroke-width="0.8"/>
<path d="M263.07 723.5V725.5" stroke="#1a1a1a" stroke-width="0.8"/>
<path d="M273.88 723.5V725.5" stroke="#1a1a1a" stroke-width="0.8"/>
<path d="M284.7 723.5V725.5" stroke="#1a1a1a" stroke-width="0.8"/>
<path d="M295.52 723.5V725.5" stroke="#1a1a1a" stroke-width="0.8"/>
<path d="M306.33 723.5V725.5" stroke="#1a1a1a" stroke-width="0.8"/>
<path d="M317.15 723.5V725.5" stroke="#1a1a1a" stroke-width="0.8"/>
<path d="M327.97 723.5V725.5" stroke="#1a1a1a" stroke-width="0.8"/>
<path d="M338.78 723.5V725.5" stroke="#1a1a1a" stroke-width="0.8"/>
<path d="M349.6 723.5V725.5" stroke="#1a1a1a" stroke-width="0.8"/>
<text x="221" y="732.8" text-anchor="middle" font-family='"Liberation Sans", sans-serif' font-weight="bold" font-size="7.5" fill="#111" stroke="#111" stroke-width="0.25">ZT0</text>
<text x="242.63" y="732.8" text-anchor="middle" font-family='"Liberation Sans", sans-serif' font-weight="bold" font-size="7.5" fill="#111" stroke="#111" stroke-width="0.25">ZT8</text>
<text x="264.27" y="732.8" text-anchor="middle" font-family='"Liberation Sans", sans-serif' font-weight="bold" font-size="7.5" fill="#111" stroke="#111" stroke-width="0.25">ZT16</text>
<text x="285.9" y="732.8" text-anchor="middle" font-family='"Liberation Sans", sans-serif' font-weight="bold" font-size="7.5" fill="#111" stroke="#111" stroke-width="0.25">ZT24</text>
<text x="307.53" y="732.8" text-anchor="middle" font-family='"Liberation Sans", sans-serif' font-weight="bold" font-size="7.5" fill="#111" stroke="#111" stroke-width="0.25">ZT32</text>
<text x="329.17" y="732.8" text-anchor="middle" font-family='"Liberation Sans", sans-serif' font-weight="bold" font-size="7.5" fill="#111" stroke="#111" stroke-width="0.25">ZT40</text>
<text x="350.8" y="732.8" text-anchor="middle" font-family='"Liberation Sans", sans-serif' font-weight="bold" font-size="7.5" fill="#111" stroke="#111" stroke-width="0.25">ZT48</text>
<path d="M219.3 688.8H341" stroke="#222" stroke-width="1.4" stroke-dasharray="4.1,3.95"/>
<polyline points="219.8,721.53 230.62,711.25 241.43,714.05 252.25,669.17 263.07,700.96 273.88,712.18 284.7,700.96 295.52,684.13 306.33,672.91 317.15,646.73 327.97,700.02 338.78,699.09 349.6,697.22" fill="none" stroke="#ff6414" stroke-width="1.85" stroke-linejoin="round"/>
<circle cx="219.8" cy="721.53" r="1.9" fill="#ff6414"/>
<circle cx="230.62" cy="711.25" r="1.9" fill="#ff6414"/>
<circle cx="241.43" cy="714.05" r="1.9" fill="#ff6414"/>
<circle cx="252.25" cy="669.17" r="1.9" fill="#ff6414"/>
<path d="M263.07 696.28V705.63" stroke="#ff6414" stroke-width="1.1" fill="none"/>
<path d="M260.57 696.28H265.57M260.57 705.63H265.57" stroke="#ff6414" stroke-width="1.5" fill="none"/>
<circle cx="263.07" cy="700.96" r="1.9" fill="#ff6414"/>
<circle cx="273.88" cy="712.18" r="1.9" fill="#ff6414"/>
<path d="M284.7 698.56V703.36" stroke="#ff6414" stroke-width="1.1" fill="none"/>
<path d="M282.2 698.56H287.2M282.2 703.36H287.2" stroke="#ff6414" stroke-width="1.5" fill="none"/>
<circle cx="284.7" cy="700.96" r="1.9" fill="#ff6414"/>
<path d="M295.52 681.33V686.93" stroke="#ff6414" stroke-width="1.1" fill="none"/>
<path d="M293.02 681.33H298.02M293.02 686.93H298.02" stroke="#ff6414" stroke-width="1.5" fill="none"/>
<circle cx="295.52" cy="684.13" r="1.9" fill="#ff6414"/>
<path d="M306.33 669.17V676.65" stroke="#ff6414" stroke-width="1.1" fill="none"/>
<path d="M303.83 669.17H308.83M303.83 676.65H308.83" stroke="#ff6414" stroke-width="1.5" fill="none"/>
<circle cx="306.33" cy="672.91" r="1.9" fill="#ff6414"/>
<path d="M317.15 640.19V653.27" stroke="#ff6414" stroke-width="1.1" fill="none"/>
<path d="M314.65 640.19H319.65M314.65 653.27H319.65" stroke="#ff6414" stroke-width="1.5" fill="none"/>
<circle cx="317.15" cy="646.73" r="1.9" fill="#ff6414"/>
<circle cx="327.97" cy="700.02" r="1.9" fill="#ff6414"/>
<circle cx="338.78" cy="699.09" r="1.9" fill="#ff6414"/>
<path d="M349.6 693.48V700.96" stroke="#ff6414" stroke-width="1.1" fill="none"/>
<path d="M347.1 693.48H352.1M347.1 700.96H352.1" stroke="#ff6414" stroke-width="1.5" fill="none"/>
<circle cx="349.6" cy="697.22" r="1.9" fill="#ff6414"/>
<polyline points="219.8,721.53 230.62,702.83 241.43,714.05 252.25,663.56 263.07,690.67 273.88,713.12 284.7,714.99 295.52,696.28 306.33,680.39 317.15,655.14 327.97,703.76 338.78,700.02 349.6,709.38" fill="none" stroke="#17996b" stroke-width="1.85" stroke-linejoin="round"/>
<rect x="217.9" y="719.63" width="3.8" height="3.8" fill="#17996b"/>
<path d="M230.62 698.15V707.5" stroke="#17996b" stroke-width="1.1" fill="none"/>
<path d="M228.12 698.15H233.12M228.12 707.5H233.12" stroke="#17996b" stroke-width="1.5" fill="none"/>
<rect x="228.72" y="700.93" width="3.8" height="3.8" fill="#17996b"/>
<rect x="239.53" y="712.15" width="3.8" height="3.8" fill="#17996b"/>
<path d="M252.25 660.75V666.36" stroke="#17996b" stroke-width="1.1" fill="none"/>
<path d="M249.75 660.75H254.75M249.75 666.36H254.75" stroke="#17996b" stroke-width="1.5" fill="none"/>
<rect x="250.35" y="661.66" width="3.8" height="3.8" fill="#17996b"/>
<path d="M263.07 687.87V693.48" stroke="#17996b" stroke-width="1.1" fill="none"/>
<path d="M260.57 687.87H265.57M260.57 693.48H265.57" stroke="#17996b" stroke-width="1.5" fill="none"/>
<rect x="261.17" y="688.77" width="3.8" height="3.8" fill="#17996b"/>
<rect x="271.98" y="711.22" width="3.8" height="3.8" fill="#17996b"/>
<rect x="282.8" y="713.09" width="3.8" height="3.8" fill="#17996b"/>
<rect x="293.62" y="694.38" width="3.8" height="3.8" fill="#17996b"/>
<path d="M306.33 675.72V685.06" stroke="#17996b" stroke-width="1.1" fill="none"/>
<path d="M303.83 675.72H308.83M303.83 685.06H308.83" stroke="#17996b" stroke-width="1.5" fill="none"/>
<rect x="304.43" y="678.49" width="3.8" height="3.8" fill="#17996b"/>
<rect x="315.25" y="653.25" width="3.8" height="3.8" fill="#17996b"/>
<rect x="326.07" y="701.87" width="3.8" height="3.8" fill="#17996b"/>
<rect x="336.88" y="698.12" width="3.8" height="3.8" fill="#17996b"/>
<rect x="347.7" y="707.48" width="3.8" height="3.8" fill="#17996b"/>
<path d="M374.5 630.4V724.5H516" fill="none" stroke="#1a1a1a" stroke-width="1"/>
<path d="M372.8 724.2H374.8" stroke="#1a1a1a" stroke-width="0.8"/>
<text x="371.7" y="728.1" text-anchor="end" font-family='"Liberation Sans", sans-serif' font-weight="bold" font-size="8.3" fill="#111" stroke="#111" stroke-width="0.3">0</text>
<path d="M372.8 705.44H374.8" stroke="#1a1a1a" stroke-width="0.8"/>
<text x="371.7" y="709.34" text-anchor="end" font-family='"Liberation Sans", sans-serif' font-weight="bold" font-size="8.3" fill="#111" stroke="#111" stroke-width="0.3">10</text>
<path d="M372.8 686.68H374.8" stroke="#1a1a1a" stroke-width="0.8"/>
<text x="371.7" y="690.58" text-anchor="end" font-family='"Liberation Sans", sans-serif' font-weight="bold" font-size="8.3" fill="#111" stroke="#111" stroke-width="0.3">20</text>
<path d="M372.8 667.92H374.8" stroke="#1a1a1a" stroke-width="0.8"/>
<text x="371.7" y="671.82" text-anchor="end" font-family='"Liberation Sans", sans-serif' font-weight="bold" font-size="8.3" fill="#111" stroke="#111" stroke-width="0.3">30</text>
<path d="M372.8 649.16H374.8" stroke="#1a1a1a" stroke-width="0.8"/>
<text x="371.7" y="653.06" text-anchor="end" font-family='"Liberation Sans", sans-serif' font-weight="bold" font-size="8.3" fill="#111" stroke="#111" stroke-width="0.3">40</text>
<path d="M372.8 630.4H374.8" stroke="#1a1a1a" stroke-width="0.8"/>
<text x="371.7" y="634.3" text-anchor="end" font-family='"Liberation Sans", sans-serif' font-weight="bold" font-size="8.3" fill="#111" stroke="#111" stroke-width="0.3">50</text>
<path d="M380.5 724.5V726.5" stroke="#1a1a1a" stroke-width="0.8"/>
<path d="M391.36 724.5V726.5" stroke="#1a1a1a" stroke-width="0.8"/>
<path d="M402.22 724.5V726.5" stroke="#1a1a1a" stroke-width="0.8"/>
<path d="M413.07 724.5V726.5" stroke="#1a1a1a" stroke-width="0.8"/>
<path d="M423.93 724.5V726.5" stroke="#1a1a1a" stroke-width="0.8"/>
<path d="M434.79 724.5V726.5" stroke="#1a1a1a" stroke-width="0.8"/>
<path d="M445.65 724.5V726.5" stroke="#1a1a1a" stroke-width="0.8"/>
<path d="M456.51 724.5V726.5" stroke="#1a1a1a" stroke-width="0.8"/>
<path d="M467.37 724.5V726.5" stroke="#1a1a1a" stroke-width="0.8"/>
<path d="M478.23 724.5V726.5" stroke="#1a1a1a" stroke-width="0.8"/>
<path d="M489.08 724.5V726.5" stroke="#1a1a1a" stroke-width="0.8"/>
<path d="M499.94 724.5V726.5" stroke="#1a1a1a" stroke-width="0.8"/>
<path d="M510.8 724.5V726.5" stroke="#1a1a1a" stroke-width="0.8"/>
<text x="381.7" y="733.6" text-anchor="middle" font-family='"Liberation Sans", sans-serif' font-weight="bold" font-size="7.5" fill="#111" stroke="#111" stroke-width="0.25">ZT0</text>
<text x="403.42" y="733.6" text-anchor="middle" font-family='"Liberation Sans", sans-serif' font-weight="bold" font-size="7.5" fill="#111" stroke="#111" stroke-width="0.25">ZT8</text>
<text x="425.13" y="733.6" text-anchor="middle" font-family='"Liberation Sans", sans-serif' font-weight="bold" font-size="7.5" fill="#111" stroke="#111" stroke-width="0.25">ZT16</text>
<text x="446.85" y="733.6" text-anchor="middle" font-family='"Liberation Sans", sans-serif' font-weight="bold" font-size="7.5" fill="#111" stroke="#111" stroke-width="0.25">ZT24</text>
<text x="468.57" y="733.6" text-anchor="middle" font-family='"Liberation Sans", sans-serif' font-weight="bold" font-size="7.5" fill="#111" stroke="#111" stroke-width="0.25">ZT32</text>
<text x="490.28" y="733.6" text-anchor="middle" font-family='"Liberation Sans", sans-serif' font-weight="bold" font-size="7.5" fill="#111" stroke="#111" stroke-width="0.25">ZT40</text>
<text x="512" y="733.6" text-anchor="middle" font-family='"Liberation Sans", sans-serif' font-weight="bold" font-size="7.5" fill="#111" stroke="#111" stroke-width="0.25">ZT48</text>
<path d="M380 705.44H506" stroke="#222" stroke-width="1.4" stroke-dasharray="4.1,3.95"/>
<polyline points="380.5,718.57 391.36,718.57 402.22,721.39 413.07,718.57 423.93,722.32 434.79,713.88 445.65,677.3 456.51,708.25 467.37,688.56 478.23,723.26 489.08,719.51 499.94,722.32 510.8,720.45" fill="none" stroke="#ff6414" stroke-width="1.85" stroke-linejoin="round"/>
<circle cx="380.5" cy="718.57" r="1.9" fill="#ff6414"/>
<circle cx="391.36" cy="718.57" r="1.9" fill="#ff6414"/>
<circle cx="402.22" cy="721.39" r="1.9" fill="#ff6414"/>
<circle cx="413.07" cy="718.57" r="1.9" fill="#ff6414"/>
<circle cx="423.93" cy="722.32" r="1.9" fill="#ff6414"/>
<circle cx="434.79" cy="713.88" r="1.9" fill="#ff6414"/>
<path d="M445.65 672.61V681.99" stroke="#ff6414" stroke-width="1.1" fill="none"/>
<path d="M443.15 672.61H448.15M443.15 681.99H448.15" stroke="#ff6414" stroke-width="1.5" fill="none"/>
<circle cx="445.65" cy="677.3" r="1.9" fill="#ff6414"/>
<circle cx="456.51" cy="708.25" r="1.9" fill="#ff6414"/>
<circle cx="467.37" cy="688.56" r="1.9" fill="#ff6414"/>
<circle cx="478.23" cy="723.26" r="1.9" fill="#ff6414"/>
<circle cx="489.08" cy="719.51" r="1.9" fill="#ff6414"/>
<circle cx="499.94" cy="722.32" r="1.9" fill="#ff6414"/>
<circle cx="510.8" cy="720.45" r="1.9" fill="#ff6414"/>
<polyline points="380.5,721.39 391.36,723.26 402.22,720.45 413.07,716.7 423.93,718.57 434.79,724.2 445.65,684.8 456.51,699.81 467.37,686.68 478.23,712.94 489.08,712.01 499.94,719.51 510.8,724.2" fill="none" stroke="#17996b" stroke-width="1.85" stroke-linejoin="round"/>
<rect x="378.6" y="719.49" width="3.8" height="3.8" fill="#17996b"/>
<rect x="389.46" y="721.36" width="3.8" height="3.8" fill="#17996b"/>
<rect x="400.32" y="718.55" width="3.8" height="3.8" fill="#17996b"/>
<rect x="411.18" y="714.8" width="3.8" height="3.8" fill="#17996b"/>
<rect x="422.03" y="716.67" width="3.8" height="3.8" fill="#17996b"/>
<rect x="432.89" y="722.3" width="3.8" height="3.8" fill="#17996b"/>
<rect x="443.75" y="682.9" width="3.8" height="3.8" fill="#17996b"/>
<rect x="454.61" y="697.91" width="3.8" height="3.8" fill="#17996b"/>
<rect x="465.47" y="684.78" width="3.8" height="3.8" fill="#17996b"/>
<rect x="476.33" y="711.04" width="3.8" height="3.8" fill="#17996b"/>
<rect x="487.18" y="710.11" width="3.8" height="3.8" fill="#17996b"/>
<rect x="498.04" y="717.61" width="3.8" height="3.8" fill="#17996b"/>
<rect x="508.9" y="722.3" width="3.8" height="3.8" fill="#17996b"/>
<path d="M538.5 630.6V724.5H679" fill="none" stroke="#1a1a1a" stroke-width="1"/>
<path d="M536.6 724.2H538.6" stroke="#1a1a1a" stroke-width="0.8"/>
<text x="535.5" y="728.1" text-anchor="end" font-family='"Liberation Sans", sans-serif' font-weight="bold" font-size="8.3" fill="#111" stroke="#111" stroke-width="0.3">0</text>
<path d="M536.6 705.48H538.6" stroke="#1a1a1a" stroke-width="0.8"/>
<text x="535.5" y="709.38" text-anchor="end" font-family='"Liberation Sans", sans-serif' font-weight="bold" font-size="8.3" fill="#111" stroke="#111" stroke-width="0.3">10</text>
<path d="M536.6 686.76H538.6" stroke="#1a1a1a" stroke-width="0.8"/>
<text x="535.5" y="690.66" text-anchor="end" font-family='"Liberation Sans", sans-serif' font-weight="bold" font-size="8.3" fill="#111" stroke="#111" stroke-width="0.3">20</text>
<path d="M536.6 668.04H538.6" stroke="#1a1a1a" stroke-width="0.8"/>
<text x="535.5" y="671.94" text-anchor="end" font-family='"Liberation Sans", sans-serif' font-weight="bold" font-size="8.3" fill="#111" stroke="#111" stroke-width="0.3">30</text>
<path d="M536.6 649.32H538.6" stroke="#1a1a1a" stroke-width="0.8"/>
<text x="535.5" y="653.22" text-anchor="end" font-family='"Liberation Sans", sans-serif' font-weight="bold" font-size="8.3" fill="#111" stroke="#111" stroke-width="0.3">40</text>
<path d="M536.6 630.6H538.6" stroke="#1a1a1a" stroke-width="0.8"/>
<text x="535.5" y="634.5" text-anchor="end" font-family='"Liberation Sans", sans-serif' font-weight="bold" font-size="8.3" fill="#111" stroke="#111" stroke-width="0.3">50</text>
<path d="M544.3 724.5V726.5" stroke="#1a1a1a" stroke-width="0.8"/>
<path d="M555.13 724.5V726.5" stroke="#1a1a1a" stroke-width="0.8"/>
<path d="M565.97 724.5V726.5" stroke="#1a1a1a" stroke-width="0.8"/>
<path d="M576.8 724.5V726.5" stroke="#1a1a1a" stroke-width="0.8"/>
<path d="M587.63 724.5V726.5" stroke="#1a1a1a" stroke-width="0.8"/>
<path d="M598.47 724.5V726.5" stroke="#1a1a1a" stroke-width="0.8"/>
<path d="M609.3 724.5V726.5" stroke="#1a1a1a" stroke-width="0.8"/>
<path d="M620.13 724.5V726.5" stroke="#1a1a1a" stroke-width="0.8"/>
<path d="M630.97 724.5V726.5" stroke="#1a1a1a" stroke-width="0.8"/>
<path d="M641.8 724.5V726.5" stroke="#1a1a1a" stroke-width="0.8"/>
<path d="M652.63 724.5V726.5" stroke="#1a1a1a" stroke-width="0.8"/>
<path d="M663.47 724.5V726.5" stroke="#1a1a1a" stroke-width="0.8"/>
<path d="M674.3 724.5V726.5" stroke="#1a1a1a" stroke-width="0.8"/>
<text x="545.5" y="733.6" text-anchor="middle" font-family='"Liberation Sans", sans-serif' font-weight="bold" font-size="7.5" fill="#111" stroke="#111" stroke-width="0.25">ZT0</text>
<text x="567.17" y="733.6" text-anchor="middle" font-family='"Liberation Sans", sans-serif' font-weight="bold" font-size="7.5" fill="#111" stroke="#111" stroke-width="0.25">ZT8</text>
<text x="588.83" y="733.6" text-anchor="middle" font-family='"Liberation Sans", sans-serif' font-weight="bold" font-size="7.5" fill="#111" stroke="#111" stroke-width="0.25">ZT16</text>
<text x="610.5" y="733.6" text-anchor="middle" font-family='"Liberation Sans", sans-serif' font-weight="bold" font-size="7.5" fill="#111" stroke="#111" stroke-width="0.25">ZT24</text>
<text x="632.17" y="733.6" text-anchor="middle" font-family='"Liberation Sans", sans-serif' font-weight="bold" font-size="7.5" fill="#111" stroke="#111" stroke-width="0.25">ZT32</text>
<text x="653.83" y="733.6" text-anchor="middle" font-family='"Liberation Sans", sans-serif' font-weight="bold" font-size="7.5" fill="#111" stroke="#111" stroke-width="0.25">ZT40</text>
<text x="675.5" y="733.6" text-anchor="middle" font-family='"Liberation Sans", sans-serif' font-weight="bold" font-size="7.5" fill="#111" stroke="#111" stroke-width="0.25">ZT48</text>
<path d="M543.8 705.48H672" stroke="#222" stroke-width="1.4" stroke-dasharray="4.1,3.95"/>
<polyline points="544.3,718.58 555.13,721.39 565.97,722.33 576.8,717.09 587.63,721.39 598.47,719.52 609.3,678.34 620.13,717.65 630.97,682.08 641.8,721.39 652.63,719.52 663.47,721.39 674.3,719.52" fill="none" stroke="#ff6414" stroke-width="1.85" stroke-linejoin="round"/>
<circle cx="544.3" cy="718.58" r="1.9" fill="#ff6414"/>
<circle cx="555.13" cy="721.39" r="1.9" fill="#ff6414"/>
<circle cx="565.97" cy="722.33" r="1.9" fill="#ff6414"/>
<circle cx="576.8" cy="717.09" r="1.9" fill="#ff6414"/>
<circle cx="587.63" cy="721.39" r="1.9" fill="#ff6414"/>
<circle cx="598.47" cy="719.52" r="1.9" fill="#ff6414"/>
<path d="M609.3 672.72V683.95" stroke="#ff6414" stroke-width="1.1" fill="none"/>
<path d="M606.8 672.72H611.8M606.8 683.95H611.8" stroke="#ff6414" stroke-width="1.5" fill="none"/>
<circle cx="609.3" cy="678.34" r="1.9" fill="#ff6414"/>
<circle cx="620.13" cy="717.65" r="1.9" fill="#ff6414"/>
<path d="M630.97 677.4V686.76" stroke="#ff6414" stroke-width="1.1" fill="none"/>
<path d="M628.47 677.4H633.47M628.47 686.76H633.47" stroke="#ff6414" stroke-width="1.5" fill="none"/>
<circle cx="630.97" cy="682.08" r="1.9" fill="#ff6414"/>
<circle cx="641.8" cy="721.39" r="1.9" fill="#ff6414"/>
<circle cx="652.63" cy="719.52" r="1.9" fill="#ff6414"/>
<circle cx="663.47" cy="721.39" r="1.9" fill="#ff6414"/>
<circle cx="674.3" cy="719.52" r="1.9" fill="#ff6414"/>
<polyline points="544.3,723.26 555.13,723.64 565.97,719.89 576.8,718.58 587.63,721.39 598.47,712.03 609.3,691.44 620.13,722.33 630.97,684.89 641.8,717.65 652.63,721.39 663.47,722.33 674.3,723.64" fill="none" stroke="#17996b" stroke-width="1.85" stroke-linejoin="round"/>
<rect x="542.4" y="721.36" width="3.8" height="3.8" fill="#17996b"/>
<rect x="553.23" y="721.74" width="3.8" height="3.8" fill="#17996b"/>
<rect x="564.07" y="717.99" width="3.8" height="3.8" fill="#17996b"/>
<rect x="574.9" y="716.68" width="3.8" height="3.8" fill="#17996b"/>
<rect x="585.73" y="719.49" width="3.8" height="3.8" fill="#17996b"/>
<rect x="596.57" y="710.13" width="3.8" height="3.8" fill="#17996b"/>
<path d="M609.3 689.04V693.84" stroke="#17996b" stroke-width="1.1" fill="none"/>
<path d="M606.8 689.04H611.8M606.8 693.84H611.8" stroke="#17996b" stroke-width="1.5" fill="none"/>
<rect x="607.4" y="689.54" width="3.8" height="3.8" fill="#17996b"/>
<rect x="618.23" y="720.43" width="3.8" height="3.8" fill="#17996b"/>
<rect x="629.07" y="682.99" width="3.8" height="3.8" fill="#17996b"/>
<rect x="639.9" y="715.75" width="3.8" height="3.8" fill="#17996b"/>
<rect x="650.73" y="719.49" width="3.8" height="3.8" fill="#17996b"/>
<rect x="661.57" y="720.43" width="3.8" height="3.8" fill="#17996b"/>
<rect x="672.4" y="721.74" width="3.8" height="3.8" fill="#17996b"/>
<text x="25.2" y="768.4" font-family='"Liberation Serif", serif' font-size="28" fill="#222">b</text>
<text transform="translate(52.5,851.6) rotate(-90)" text-anchor="middle" font-family='"Liberation Sans", sans-serif' font-size="13" fill="#111" textLength="125.5" lengthAdjust="spacingAndGlyphs">Median value of qPCR</text>
<text x="79.4" y="764.5" font-family='"Liberation Sans", sans-serif' font-style="italic" font-size="18.2" fill="#111" textLength="60.8" lengthAdjust="spacingAndGlyphs">bmal1a</text>
<rect x="83.9" y="823.7" width="12.2" height="89.4" fill="#00f000"/>
<rect x="101.9" y="815.9" width="12.2" height="97.2" fill="#ff8000"/>
<rect x="119.9" y="817.1" width="12.2" height="96" fill="#569cf8"/>
<rect x="138" y="815.9" width="12.2" height="97.2" fill="#f24fd8"/>
<path d="M77.5 795.8V913.5H156" fill="none" stroke="#555" stroke-width="1.1"/>
<path d="M75.3 913.1H77.3" stroke="#555" stroke-width="0.9"/>
<text x="72.7" y="917.1" text-anchor="end" font-family='"Liberation Sans", sans-serif' font-weight="bold" font-size="11" fill="#111" stroke="#111" stroke-width="0.25">0.0</text>
<path d="M75.3 883.77H77.3" stroke="#555" stroke-width="0.9"/>
<text x="72.7" y="887.77" text-anchor="end" font-family='"Liberation Sans", sans-serif' font-weight="bold" font-size="11" fill="#111" stroke="#111" stroke-width="0.25">0.5</text>
<path d="M75.3 854.45H77.3" stroke="#555" stroke-width="0.9"/>
<text x="72.7" y="858.45" text-anchor="end" font-family='"Liberation Sans", sans-serif' font-weight="bold" font-size="11" fill="#111" stroke="#111" stroke-width="0.25">1.0</text>
<path d="M75.3 825.12H77.3" stroke="#555" stroke-width="0.9"/>
<text x="72.7" y="829.12" text-anchor="end" font-family='"Liberation Sans", sans-serif' font-weight="bold" font-size="11" fill="#111" stroke="#111" stroke-width="0.25">1.5</text>
<path d="M75.3 795.8H77.3" stroke="#555" stroke-width="0.9"/>
<text x="72.7" y="799.8" text-anchor="end" font-family='"Liberation Sans", sans-serif' font-weight="bold" font-size="11" fill="#111" stroke="#111" stroke-width="0.25">2.0</text>
<path d="M90 817.5V829M85.9 817.5H94.1M85.9 829H94.1" stroke="#333" stroke-width="0.9" fill="none"/>
<circle cx="85.6" cy="816.4" r="1.65" fill="#111"/>
<circle cx="94.3" cy="818.1" r="1.65" fill="#111"/>
<circle cx="90" cy="824.2" r="1.65" fill="#111"/>
<circle cx="85.6" cy="829.4" r="1.65" fill="#111"/>
<circle cx="94.3" cy="829.2" r="1.65" fill="#111"/>
<path d="M108 807.6V825.1M105.1 807.6H110.9M105.1 825.1H110.9" stroke="#333" stroke-width="0.9" fill="none"/>
<circle cx="108" cy="803.3" r="1.65" fill="#111"/>
<circle cx="108" cy="813.4" r="1.65" fill="#111"/>
<circle cx="108" cy="817" r="1.65" fill="#111"/>
<circle cx="108" cy="821.6" r="1.65" fill="#111"/>
<circle cx="108" cy="825.1" r="1.65" fill="#111"/>
<path d="M126 812.3V822.2M121.5 812.3H130.5M121.5 822.2H130.5" stroke="#333" stroke-width="0.9" fill="none"/>
<circle cx="121.6" cy="812.3" r="1.65" fill="#111"/>
<circle cx="130.6" cy="812.3" r="1.65" fill="#111"/>
<circle cx="126" cy="817.5" r="1.65" fill="#111"/>
<circle cx="121.6" cy="823.4" r="1.65" fill="#111"/>
<circle cx="130.6" cy="821" r="1.65" fill="#111"/>
<path d="M144.1 811.3V821.4M141.35 811.3H146.85M141.35 821.4H146.85" stroke="#333" stroke-width="0.9" fill="none"/>
<circle cx="139.7" cy="811.3" r="1.65" fill="#111"/>
<circle cx="148.7" cy="811.3" r="1.65" fill="#111"/>
<circle cx="139.7" cy="816.4" r="1.65" fill="#111"/>
<circle cx="148.7" cy="817.5" r="1.65" fill="#111"/>
<circle cx="144.1" cy="824" r="1.65" fill="#111"/>
<path d="M108 798.4V796H126V798.4" fill="none" stroke="#333" stroke-width="1"/>
<text x="105.8" y="791.7" font-family='"Liberation Sans", sans-serif' font-weight="bold" font-size="9" fill="#222" textLength="26.9" lengthAdjust="spacingAndGlyphs">p=0.06</text>
<path d="M108 782.2V779.9H144.1V782.2" fill="none" stroke="#333" stroke-width="1"/>
<text x="110.2" y="776.4" font-family='"Liberation Sans", sans-serif' font-weight="bold" font-size="9" fill="#222" textLength="31.1" lengthAdjust="spacingAndGlyphs">p=0.087</text>
<text x="191.5" y="764.5" font-family='"Liberation Sans", sans-serif' font-style="italic" font-size="18.2" fill="#111" textLength="66.5" lengthAdjust="spacingAndGlyphs">clock1a</text>
<rect x="196.1" y="818" width="12.2" height="95.3" fill="#00f000"/>
<rect x="214.6" y="814.3" width="12.2" height="99" fill="#ff8000"/>
<rect x="233.2" y="816.3" width="12.2" height="97" fill="#569cf8"/>
<rect x="251.6" y="812.2" width="12.2" height="101.1" fill="#f24fd8"/>
<path d="M189.5 793.8V913.5H269.7" fill="none" stroke="#555" stroke-width="1.1"/>
<path d="M187.4 913.3H189.4" stroke="#555" stroke-width="0.9"/>
<text x="184.8" y="917.3" text-anchor="end" font-family='"Liberation Sans", sans-serif' font-weight="bold" font-size="11" fill="#111" stroke="#111" stroke-width="0.25">0.0</text>
<path d="M187.4 889.4H189.4" stroke="#555" stroke-width="0.9"/>
<text x="184.8" y="893.4" text-anchor="end" font-family='"Liberation Sans", sans-serif' font-weight="bold" font-size="11" fill="#111" stroke="#111" stroke-width="0.25">0.2</text>
<path d="M187.4 865.5H189.4" stroke="#555" stroke-width="0.9"/>
<text x="184.8" y="869.5" text-anchor="end" font-family='"Liberation Sans", sans-serif' font-weight="bold" font-size="11" fill="#111" stroke="#111" stroke-width="0.25">0.4</text>
<path d="M187.4 841.6H189.4" stroke="#555" stroke-width="0.9"/>
<text x="184.8" y="845.6" text-anchor="end" font-family='"Liberation Sans", sans-serif' font-weight="bold" font-size="11" fill="#111" stroke="#111" stroke-width="0.25">0.6</text>
<path d="M187.4 817.7H189.4" stroke="#555" stroke-width="0.9"/>
<text x="184.8" y="821.7" text-anchor="end" font-family='"Liberation Sans", sans-serif' font-weight="bold" font-size="11" fill="#111" stroke="#111" stroke-width="0.25">0.8</text>
<path d="M187.4 793.8H189.4" stroke="#555" stroke-width="0.9"/>
<text x="184.8" y="797.8" text-anchor="end" font-family='"Liberation Sans", sans-serif' font-weight="bold" font-size="11" fill="#111" stroke="#111" stroke-width="0.25">1.0</text>
<path d="M202.2 810.8V824.8M199.85 810.8H204.55M199.85 824.8H204.55" stroke="#333" stroke-width="0.9" fill="none"/>
<circle cx="197.8" cy="811.3" r="1.65" fill="#111"/>
<circle cx="206.9" cy="812.2" r="1.65" fill="#111"/>
<circle cx="202.2" cy="815.9" r="1.65" fill="#111"/>
<circle cx="202.2" cy="820.4" r="1.65" fill="#111"/>
<circle cx="202.2" cy="828.5" r="1.65" fill="#111"/>
<path d="M220.7 806.4V822.1M217.5 806.4H223.9M217.5 822.1H223.9" stroke="#333" stroke-width="0.9" fill="none"/>
<circle cx="220.7" cy="801.9" r="1.65" fill="#111"/>
<circle cx="225.1" cy="812.2" r="1.65" fill="#111"/>
<circle cx="216.1" cy="814.8" r="1.65" fill="#111"/>
<circle cx="225.1" cy="817.4" r="1.65" fill="#111"/>
<circle cx="220.7" cy="823.9" r="1.65" fill="#111"/>
<path d="M239.3 811V820.4M236.95 811H241.65M236.95 820.4H241.65" stroke="#333" stroke-width="0.9" fill="none"/>
<circle cx="239.9" cy="810.4" r="1.65" fill="#111"/>
<circle cx="234.7" cy="815.7" r="1.65" fill="#111"/>
<circle cx="244" cy="817.4" r="1.65" fill="#111"/>
<circle cx="234.7" cy="820.4" r="1.65" fill="#111"/>
<circle cx="239.3" cy="818" r="1.65" fill="#111"/>
<path d="M257.7 801.4V823.3M254.8 801.4H260.6M254.8 823.3H260.6" stroke="#333" stroke-width="0.9" fill="none"/>
<circle cx="253.1" cy="805.8" r="1.65" fill="#111"/>
<circle cx="262.4" cy="804.6" r="1.65" fill="#111"/>
<circle cx="257.7" cy="811" r="1.65" fill="#111"/>
<circle cx="257.7" cy="827.4" r="1.65" fill="#111"/>
<circle cx="257.7" cy="818" r="1.65" fill="#111"/>
<path d="M220.7 796.8V794.2H239.3V796.8" fill="none" stroke="#333" stroke-width="1"/>
<text x="196.8" y="792.4" font-family='"Liberation Sans", sans-serif' font-weight="bold" font-size="9" fill="#222" textLength="33.5" lengthAdjust="spacingAndGlyphs">p=0.072</text>
<path d="M220.7 783.5V780.4H257.7V783.5" fill="none" stroke="#333" stroke-width="1"/>
<text x="225" y="776.9" font-family='"Liberation Sans", sans-serif' font-weight="bold" font-size="9" fill="#222" textLength="22.8" lengthAdjust="spacingAndGlyphs">p=0.1</text>
<text x="312.3" y="764.5" font-family='"Liberation Sans", sans-serif' font-style="italic" font-size="18.2" fill="#111" textLength="49.7" lengthAdjust="spacingAndGlyphs">nr1d1</text>
<rect x="305.2" y="883.9" width="12.2" height="29.4" fill="#00f000"/>
<rect x="324" y="818" width="12.2" height="95.3" fill="#ff8000"/>
<rect x="342.4" y="884.1" width="12.2" height="29.2" fill="#569cf8"/>
<rect x="361.1" y="875.5" width="12.2" height="37.8" fill="#f24fd8"/>
<path d="M298.5 793.2V913.5H379.5" fill="none" stroke="#555" stroke-width="1.1"/>
<path d="M296.8 913.3H298.8" stroke="#555" stroke-width="0.9"/>
<text x="294.2" y="917.3" text-anchor="end" font-family='"Liberation Sans", sans-serif' font-weight="bold" font-size="11" fill="#111" stroke="#111" stroke-width="0.25">0</text>
<path d="M296.8 889.28H298.8" stroke="#555" stroke-width="0.9"/>
<text x="294.2" y="893.28" text-anchor="end" font-family='"Liberation Sans", sans-serif' font-weight="bold" font-size="11" fill="#111" stroke="#111" stroke-width="0.25">2</text>
<path d="M296.8 865.26H298.8" stroke="#555" stroke-width="0.9"/>
<text x="294.2" y="869.26" text-anchor="end" font-family='"Liberation Sans", sans-serif' font-weight="bold" font-size="11" fill="#111" stroke="#111" stroke-width="0.25">4</text>
<path d="M296.8 841.24H298.8" stroke="#555" stroke-width="0.9"/>
<text x="294.2" y="845.24" text-anchor="end" font-family='"Liberation Sans", sans-serif' font-weight="bold" font-size="11" fill="#111" stroke="#111" stroke-width="0.25">6</text>
<path d="M296.8 817.22H298.8" stroke="#555" stroke-width="0.9"/>
<text x="294.2" y="821.22" text-anchor="end" font-family='"Liberation Sans", sans-serif' font-weight="bold" font-size="11" fill="#111" stroke="#111" stroke-width="0.25">8</text>
<path d="M296.8 793.2H298.8" stroke="#555" stroke-width="0.9"/>
<text x="294.2" y="797.2" text-anchor="end" font-family='"Liberation Sans", sans-serif' font-weight="bold" font-size="11" fill="#111" stroke="#111" stroke-width="0.25">10</text>
<path d="M311.3 880.6V887.6M308.8 880.6H313.8M308.8 887.6H313.8" stroke="#333" stroke-width="0.9" fill="none"/>
<circle cx="306.8" cy="881.8" r="1.65" fill="#111"/>
<circle cx="311.3" cy="880.1" r="1.65" fill="#111"/>
<circle cx="316" cy="883.3" r="1.65" fill="#111"/>
<circle cx="311.3" cy="884.5" r="1.65" fill="#111"/>
<circle cx="311.3" cy="889.7" r="1.65" fill="#111"/>
<path d="M330.1 809.3V826.2M326.9 809.3H333.3M326.9 826.2H333.3" stroke="#333" stroke-width="0.9" fill="none"/>
<circle cx="330.1" cy="805.8" r="1.65" fill="#111"/>
<circle cx="325.5" cy="817.1" r="1.65" fill="#111"/>
<circle cx="334.8" cy="818" r="1.65" fill="#111"/>
<circle cx="330.1" cy="819.2" r="1.65" fill="#111"/>
<circle cx="330.1" cy="829.1" r="1.65" fill="#111"/>
<path d="M348.5 879.2V888M346 879.2H351M346 888H351" stroke="#333" stroke-width="0.9" fill="none"/>
<circle cx="348.5" cy="876.6" r="1.65" fill="#111"/>
<circle cx="344" cy="883.6" r="1.65" fill="#111"/>
<circle cx="348.5" cy="883.9" r="1.65" fill="#111"/>
<circle cx="353.1" cy="886.4" r="1.65" fill="#111"/>
<circle cx="344" cy="889.1" r="1.65" fill="#111"/>
<path d="M367.2 864.8V886.4M364.3 864.8H370.1M364.3 886.4H370.1" stroke="#333" stroke-width="0.9" fill="none"/>
<circle cx="367.2" cy="857.6" r="1.65" fill="#111"/>
<circle cx="362.7" cy="876.6" r="1.65" fill="#111"/>
<circle cx="371.6" cy="876.3" r="1.65" fill="#111"/>
<circle cx="371.6" cy="882.1" r="1.65" fill="#111"/>
<circle cx="362.7" cy="885" r="1.65" fill="#111"/>
<path d="M330.1 794.4V791.4H367.2V794.4" fill="none" stroke="#333" stroke-width="1"/>
<text x="333.4" y="787.4" font-family='"Liberation Sans", sans-serif' font-weight="bold" font-size="9" fill="#222" textLength="33" lengthAdjust="spacingAndGlyphs">p=0.041</text>
<path d="M330.1 802.3V799.1H348.5V802.3" fill="none" stroke="#333" stroke-width="1"/>
<text x="339.7" y="811.4" font-family='"Liberation Sans", sans-serif' font-weight="bold" font-size="9" fill="#222" textLength="33.8" lengthAdjust="spacingAndGlyphs">p=0.003</text>
<text x="418" y="764.5" font-family='"Liberation Sans", sans-serif' font-style="italic" font-size="18.2" fill="#111" textLength="49" lengthAdjust="spacingAndGlyphs">per1a</text>
<rect x="412.9" y="879" width="12.2" height="34.6" fill="#00f000"/>
<rect x="431" y="828.8" width="12.2" height="84.8" fill="#ff8000"/>
<rect x="449.4" y="855.9" width="12.2" height="57.7" fill="#569cf8"/>
<rect x="467.6" y="874.1" width="12.2" height="39.5" fill="#f24fd8"/>
<path d="M406.5 795.8V913.5H486.6" fill="none" stroke="#555" stroke-width="1.1"/>
<path d="M404.9 913.6H406.9" stroke="#555" stroke-width="0.9"/>
<text x="402.3" y="917.6" text-anchor="end" font-family='"Liberation Sans", sans-serif' font-weight="bold" font-size="11" fill="#111" stroke="#111" stroke-width="0.25">0</text>
<path d="M404.9 890.04H406.9" stroke="#555" stroke-width="0.9"/>
<text x="402.3" y="894.04" text-anchor="end" font-family='"Liberation Sans", sans-serif' font-weight="bold" font-size="11" fill="#111" stroke="#111" stroke-width="0.25">2</text>
<path d="M404.9 866.48H406.9" stroke="#555" stroke-width="0.9"/>
<text x="402.3" y="870.48" text-anchor="end" font-family='"Liberation Sans", sans-serif' font-weight="bold" font-size="11" fill="#111" stroke="#111" stroke-width="0.25">4</text>
<path d="M404.9 842.92H406.9" stroke="#555" stroke-width="0.9"/>
<text x="402.3" y="846.92" text-anchor="end" font-family='"Liberation Sans", sans-serif' font-weight="bold" font-size="11" fill="#111" stroke="#111" stroke-width="0.25">6</text>
<path d="M404.9 819.36H406.9" stroke="#555" stroke-width="0.9"/>
<text x="402.3" y="823.36" text-anchor="end" font-family='"Liberation Sans", sans-serif' font-weight="bold" font-size="11" fill="#111" stroke="#111" stroke-width="0.25">8</text>
<path d="M404.9 795.8H406.9" stroke="#555" stroke-width="0.9"/>
<text x="402.3" y="799.8" text-anchor="end" font-family='"Liberation Sans", sans-serif' font-weight="bold" font-size="11" fill="#111" stroke="#111" stroke-width="0.25">10</text>
<path d="M419 871.8V884.9M416.1 871.8H421.9M416.1 884.9H421.9" stroke="#333" stroke-width="0.9" fill="none"/>
<circle cx="419" cy="868" r="1.65" fill="#111"/>
<circle cx="414.6" cy="877.9" r="1.65" fill="#111"/>
<circle cx="423.5" cy="877.9" r="1.65" fill="#111"/>
<circle cx="414.6" cy="885.5" r="1.65" fill="#111"/>
<circle cx="423.5" cy="884.1" r="1.65" fill="#111"/>
<path d="M437.1 818V839.4M434.45 818H439.75M434.45 839.4H439.75" stroke="#333" stroke-width="0.9" fill="none"/>
<circle cx="432.7" cy="818.3" r="1.65" fill="#111"/>
<circle cx="441.8" cy="815.3" r="1.65" fill="#111"/>
<circle cx="432.7" cy="834.4" r="1.65" fill="#111"/>
<circle cx="441.8" cy="835.9" r="1.65" fill="#111"/>
<circle cx="432.7" cy="839.3" r="1.65" fill="#111"/>
<path d="M455.5 850.4V861M452.7 850.4H458.3M452.7 861H458.3" stroke="#333" stroke-width="0.9" fill="none"/>
<circle cx="450.9" cy="848.7" r="1.65" fill="#111"/>
<circle cx="455.5" cy="851.6" r="1.65" fill="#111"/>
<circle cx="450.9" cy="860.1" r="1.65" fill="#111"/>
<circle cx="455.5" cy="859.2" r="1.65" fill="#111"/>
<circle cx="459.7" cy="859.4" r="1.65" fill="#111"/>
<path d="M473.7 868.3V879.6M470.95 868.3H476.45M470.95 879.6H476.45" stroke="#333" stroke-width="0.9" fill="none"/>
<circle cx="469.2" cy="869.1" r="1.65" fill="#111"/>
<circle cx="477.9" cy="869.7" r="1.65" fill="#111"/>
<circle cx="473.7" cy="873.5" r="1.65" fill="#111"/>
<circle cx="473.7" cy="877.7" r="1.65" fill="#111"/>
<circle cx="473.7" cy="881.4" r="1.65" fill="#111"/>
<path d="M437.1 801.9V799.6H473.7V801.9" fill="none" stroke="#333" stroke-width="1"/>
<text x="440.6" y="794.7" font-family='"Liberation Sans", sans-serif' font-weight="bold" font-size="9" fill="#222" textLength="38.2" lengthAdjust="spacingAndGlyphs">p=0.0002</text>
<path d="M437.1 808.7V805.8H455.5V808.7" fill="none" stroke="#333" stroke-width="1"/>
<text x="447" y="818" font-family='"Liberation Sans", sans-serif' font-weight="bold" font-size="9" fill="#222" textLength="38.7" lengthAdjust="spacingAndGlyphs">p=0.0004</text>
<text x="528.8" y="764.5" font-family='"Liberation Sans", sans-serif' font-style="italic" font-size="18.2" fill="#111" textLength="38.5" lengthAdjust="spacingAndGlyphs">per2</text>
<rect x="519.6" y="873.9" width="12.2" height="40.3" fill="#00f000"/>
<rect x="537.4" y="821.8" width="12.2" height="92.4" fill="#ff8000"/>
<rect x="555.8" y="854.6" width="12.2" height="59.6" fill="#569cf8"/>
<rect x="573.7" y="860.1" width="12.2" height="54.1" fill="#f24fd8"/>
<path d="M513.5 796.7V914.5H591.6" fill="none" stroke="#555" stroke-width="1.1"/>
<path d="M511.4 914.2H513.4" stroke="#555" stroke-width="0.9"/>
<text x="508.8" y="918.2" text-anchor="end" font-family='"Liberation Sans", sans-serif' font-weight="bold" font-size="11" fill="#111" stroke="#111" stroke-width="0.25">0</text>
<path d="M511.4 890.7H513.4" stroke="#555" stroke-width="0.9"/>
<text x="508.8" y="894.7" text-anchor="end" font-family='"Liberation Sans", sans-serif' font-weight="bold" font-size="11" fill="#111" stroke="#111" stroke-width="0.25">5</text>
<path d="M511.4 867.2H513.4" stroke="#555" stroke-width="0.9"/>
<text x="508.8" y="871.2" text-anchor="end" font-family='"Liberation Sans", sans-serif' font-weight="bold" font-size="11" fill="#111" stroke="#111" stroke-width="0.25">10</text>
<path d="M511.4 843.7H513.4" stroke="#555" stroke-width="0.9"/>
<text x="508.8" y="847.7" text-anchor="end" font-family='"Liberation Sans", sans-serif' font-weight="bold" font-size="11" fill="#111" stroke="#111" stroke-width="0.25">15</text>
<path d="M511.4 820.2H513.4" stroke="#555" stroke-width="0.9"/>
<text x="508.8" y="824.2" text-anchor="end" font-family='"Liberation Sans", sans-serif' font-weight="bold" font-size="11" fill="#111" stroke="#111" stroke-width="0.25">20</text>
<path d="M511.4 796.7H513.4" stroke="#555" stroke-width="0.9"/>
<text x="508.8" y="800.7" text-anchor="end" font-family='"Liberation Sans", sans-serif' font-weight="bold" font-size="11" fill="#111" stroke="#111" stroke-width="0.25">25</text>
<path d="M525.7 871.3V875M523.2 871.3H528.2M523.2 875H528.2" stroke="#333" stroke-width="0.9" fill="none"/>
<circle cx="521.1" cy="872.5" r="1.65" fill="#111"/>
<circle cx="530.1" cy="870.6" r="1.65" fill="#111"/>
<circle cx="525.7" cy="874.5" r="1.65" fill="#111"/>
<circle cx="530.1" cy="874.5" r="1.65" fill="#111"/>
<circle cx="521.1" cy="876.8" r="1.65" fill="#111"/>
<path d="M543.5 814V829M541 814H546M541 829H546" stroke="#333" stroke-width="0.9" fill="none"/>
<circle cx="539.1" cy="816.3" r="1.65" fill="#111"/>
<circle cx="543.5" cy="814.5" r="1.65" fill="#111"/>
<circle cx="548.2" cy="817.8" r="1.65" fill="#111"/>
<circle cx="541.4" cy="831.8" r="1.65" fill="#111"/>
<circle cx="545.9" cy="829.5" r="1.65" fill="#111"/>
<path d="M561.9 847.9V861.4M559.15 847.9H564.65M559.15 861.4H564.65" stroke="#333" stroke-width="0.9" fill="none"/>
<circle cx="561.9" cy="845.3" r="1.65" fill="#111"/>
<circle cx="557.3" cy="853.4" r="1.65" fill="#111"/>
<circle cx="561.9" cy="855.4" r="1.65" fill="#111"/>
<circle cx="566.3" cy="854.6" r="1.65" fill="#111"/>
<circle cx="561.9" cy="864.8" r="1.65" fill="#111"/>
<path d="M579.8 858.1V862.2M577.05 858.1H582.55M577.05 862.2H582.55" stroke="#333" stroke-width="0.9" fill="none"/>
<circle cx="575.4" cy="857.5" r="1.65" fill="#111"/>
<circle cx="584.4" cy="858.3" r="1.65" fill="#111"/>
<circle cx="579.8" cy="860.1" r="1.65" fill="#111"/>
<circle cx="575.4" cy="863.1" r="1.65" fill="#111"/>
<circle cx="584.4" cy="861.6" r="1.65" fill="#111"/>
<path d="M543.5 798.4V795.6H579.8V798.4" fill="none" stroke="#333" stroke-width="1"/>
<text x="548.6" y="791.5" font-family='"Liberation Sans", sans-serif' font-weight="bold" font-size="9" fill="#222" textLength="27.8" lengthAdjust="spacingAndGlyphs">p=0.02</text>
<path d="M543.5 808.1V805.2H561.9V808.1" fill="none" stroke="#333" stroke-width="1"/>
<text x="554" y="815.7" font-family='"Liberation Sans", sans-serif' font-weight="bold" font-size="9" fill="#222" textLength="32.2" lengthAdjust="spacingAndGlyphs">p=0.036</text>
<rect x="600" y="787.2" width="5" height="8" fill="#00f000"/>
<text x="607.5" y="794.3" font-family='"Liberation Sans", sans-serif' font-style="normal" font-size="11.2" fill="#111" textLength="46" lengthAdjust="spacingAndGlyphs">WT+PBS</text>
<rect x="600" y="798.75" width="5" height="8" fill="#ff8000"/>
<text x="607.5" y="805.85" font-family='"Liberation Sans", sans-serif' font-style="normal" font-size="11.2" fill="#111" textLength="50.3" lengthAdjust="spacingAndGlyphs">WT+Gent</text>
<rect x="600" y="810.3" width="5" height="8" fill="#569cf8"/>
<text x="607.5" y="817.4" font-family='"Liberation Sans", sans-serif' font-style="italic" font-size="11.2" fill="#111" textLength="28.2" lengthAdjust="spacingAndGlyphs">nr1d1</text>
<text x="636.2" y="813.4" font-family='"Liberation Sans", sans-serif' font-style="normal" font-size="6.5" fill="#111" textLength="7.5" lengthAdjust="spacingAndGlyphs">-/-</text>
<text x="647.3" y="817.4" font-family='"Liberation Sans", sans-serif' font-style="normal" font-size="11.2" fill="#111" textLength="31.8" lengthAdjust="spacingAndGlyphs">+Gent</text>
<rect x="600" y="821.85" width="5" height="8" fill="#f24fd8"/>
<text x="607.5" y="828.95" font-family='"Liberation Sans", sans-serif' font-style="italic" font-size="11.2" fill="#111" textLength="28.9" lengthAdjust="spacingAndGlyphs">per1a</text>
<text x="636.9" y="824.95" font-family='"Liberation Sans", sans-serif' font-style="normal" font-size="6.5" fill="#111" textLength="7.2" lengthAdjust="spacingAndGlyphs">-/-</text>
<text x="647.3" y="828.95" font-family='"Liberation Sans", sans-serif' font-style="normal" font-size="11.2" fill="#111" textLength="31.8" lengthAdjust="spacingAndGlyphs">+Gent</text>
</svg>
</body></html>
